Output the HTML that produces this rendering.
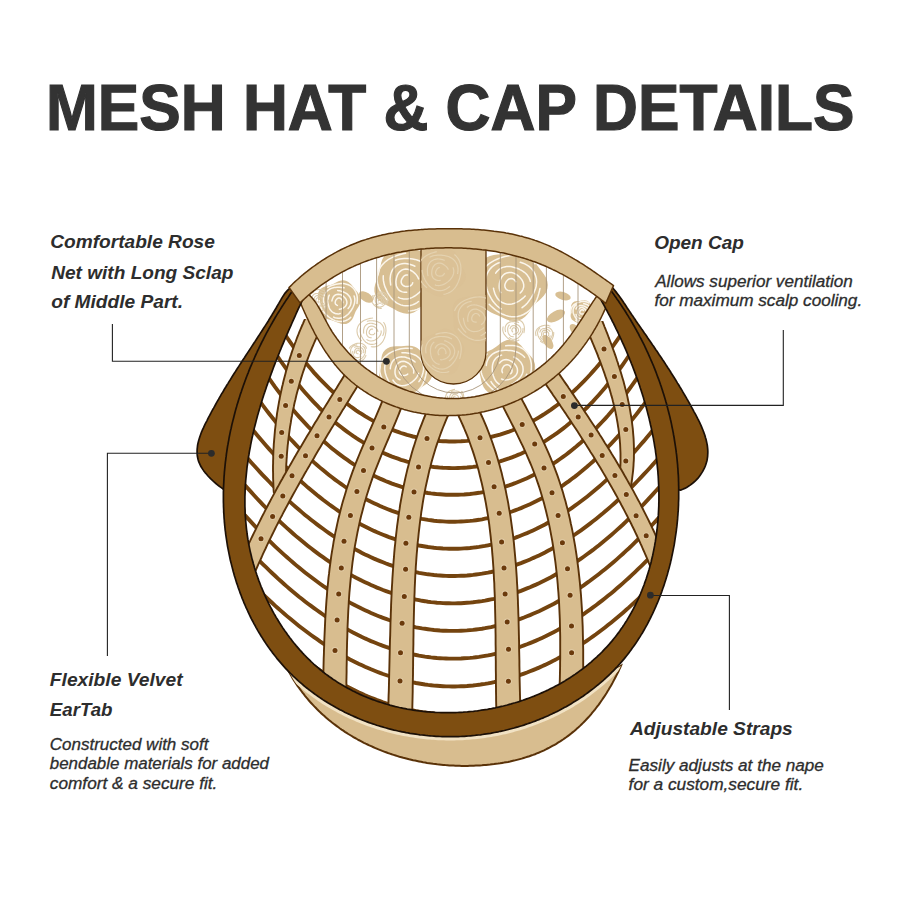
<!DOCTYPE html>
<html><head><meta charset="utf-8"><style>
html,body{margin:0;padding:0;background:#fff;width:900px;height:900px;overflow:hidden}
body{position:relative;font-family:"Liberation Sans",sans-serif}
</style></head><body>
<svg width="900" height="900" viewBox="0 0 900 900" style="position:absolute;left:0;top:0">
<defs>
<clipPath id="cin"><path d="M306.4,291.6 L305.6,293.3 L304.7,295.1 L303.9,296.8 L303.1,298.6 L302.3,300.3 L301.5,302.1 L300.7,303.8 L299.9,305.6 L299.0,307.4 L298.2,309.1 L297.4,310.9 L296.6,312.7 L295.8,314.5 L295.0,316.3 L294.2,318.1 L293.4,319.9 L292.6,321.7 L291.8,323.5 L291.0,325.3 L290.2,327.1 L289.4,328.9 L288.6,330.7 L287.8,332.6 L287.0,334.4 L286.2,336.2 L285.4,338.0 L284.6,339.9 L283.9,341.7 L283.1,343.6 L282.3,345.4 L281.5,347.3 L280.8,349.1 L280.0,351.0 L279.3,352.8 L278.5,354.7 L277.8,356.6 L277.0,358.4 L276.3,360.3 L275.5,362.2 L274.8,364.1 L274.1,365.9 L273.4,367.8 L272.7,369.7 L272.0,371.6 L271.3,373.5 L270.6,375.4 L269.9,377.3 L269.2,379.2 L268.5,381.1 L267.8,383.0 L267.2,384.9 L266.5,386.8 L265.9,388.7 L265.2,390.7 L264.6,392.6 L263.9,394.5 L263.3,396.4 L262.7,398.3 L262.1,400.3 L261.5,402.2 L260.9,404.1 L260.3,406.1 L259.8,408.0 L259.2,409.9 L258.6,411.9 L258.1,413.8 L257.5,415.7 L257.0,417.7 L256.5,419.6 L256.0,421.6 L255.5,423.5 L255.0,425.5 L254.5,427.4 L254.0,429.4 L253.6,431.3 L253.1,433.3 L252.7,435.2 L252.2,437.2 L251.8,439.2 L251.4,441.1 L251.0,443.1 L250.6,445.1 L250.3,447.0 L249.9,449.0 L249.5,451.0 L249.2,452.9 L248.9,454.9 L248.5,456.9 L248.2,458.8 L247.9,460.8 L247.7,462.8 L247.4,464.8 L247.1,466.7 L246.9,468.7 L246.7,470.7 L246.5,472.7 L246.3,474.6 L246.1,476.6 L245.9,478.6 L245.7,480.6 L245.6,482.5 L245.4,484.5 L245.3,486.5 L245.2,488.5 L245.1,490.5 L245.1,492.4 L245.0,494.4 L244.9,496.4 L244.9,498.4 L244.9,500.4 L244.9,502.4 L244.9,504.3 L244.9,506.3 L245.0,508.3 L245.1,510.3 L245.1,512.3 L245.2,514.2 L245.3,516.2 L245.5,518.2 L245.6,520.2 L245.8,522.2 L246.0,524.1 L246.2,526.1 L246.4,528.1 L246.6,530.1 L246.9,532.0 L247.1,534.0 L247.4,536.0 L247.7,538.0 L248.0,539.9 L248.4,541.9 L248.7,543.9 L249.1,545.9 L249.5,547.8 L249.9,549.8 L250.3,551.8 L250.8,553.7 L251.3,555.7 L251.7,557.6 L252.2,559.6 L252.8,561.5 L253.3,563.5 L253.9,565.4 L254.4,567.4 L255.0,569.3 L255.6,571.3 L256.3,573.2 L256.9,575.1 L257.6,577.0 L258.2,578.9 L258.9,580.9 L259.7,582.8 L260.4,584.7 L261.1,586.6 L261.9,588.4 L262.7,590.3 L263.5,592.2 L264.3,594.1 L265.1,595.9 L266.0,597.8 L266.8,599.6 L267.7,601.4 L268.6,603.3 L269.5,605.1 L270.4,606.9 L271.4,608.7 L272.3,610.5 L273.3,612.3 L274.3,614.1 L275.3,615.8 L276.3,617.6 L277.4,619.3 L278.4,621.0 L279.5,622.8 L280.6,624.5 L281.7,626.2 L282.8,627.9 L283.9,629.5 L285.1,631.2 L286.3,632.8 L287.4,634.5 L288.6,636.1 L289.8,637.7 L291.1,639.3 L292.3,640.9 L293.5,642.5 L294.8,644.0 L296.1,645.6 L297.4,647.1 L298.7,648.6 L300.0,650.1 L301.4,651.6 L302.7,653.1 L304.1,654.6 L305.5,656.0 L306.8,657.4 L308.3,658.8 L309.7,660.2 L311.1,661.6 L312.6,663.0 L314.0,664.3 L315.5,665.6 L317.0,666.9 L318.5,668.2 L320.0,669.5 L321.5,670.7 L323.1,672.0 L324.6,673.2 L326.2,674.4 L327.8,675.5 L329.4,676.7 L331.0,677.8 L332.6,679.0 L334.2,680.1 L335.9,681.1 L337.5,682.2 L339.2,683.3 L340.9,684.3 L342.6,685.3 L344.3,686.3 L346.0,687.3 L347.7,688.2 L349.4,689.1 L351.2,690.1 L352.9,691.0 L354.7,691.8 L356.5,692.7 L358.2,693.5 L360.0,694.4 L361.8,695.2 L363.6,696.0 L365.5,696.7 L367.3,697.5 L369.1,698.2 L370.9,698.9 L372.8,699.6 L374.7,700.3 L376.5,701.0 L378.4,701.6 L380.3,702.2 L382.2,702.8 L384.1,703.4 L386.0,704.0 L387.9,704.5 L389.8,705.1 L391.7,705.6 L393.6,706.1 L395.5,706.6 L397.5,707.0 L399.4,707.5 L401.4,707.9 L403.3,708.3 L405.3,708.7 L407.2,709.1 L409.2,709.4 L411.2,709.7 L413.2,710.1 L415.1,710.4 L417.1,710.6 L419.1,710.9 L421.1,711.1 L423.1,711.4 L425.1,711.6 L427.1,711.8 L429.1,711.9 L431.1,712.1 L433.1,712.2 L435.1,712.4 L437.1,712.5 L439.1,712.5 L441.1,712.6 L443.2,712.7 L445.2,712.7 L447.2,712.7 L449.2,712.7 L451.2,712.7 L453.2,712.6 L455.3,712.6 L457.3,712.5 L459.3,712.4 L461.3,712.3 L463.3,712.2 L465.4,712.0 L467.4,711.9 L469.4,711.7 L471.4,711.5 L473.4,711.3 L475.4,711.0 L477.5,710.8 L479.5,710.5 L481.5,710.2 L483.5,709.9 L485.5,709.6 L487.5,709.3 L489.5,708.9 L491.5,708.6 L493.5,708.2 L495.5,707.8 L497.4,707.3 L499.4,706.9 L501.4,706.4 L503.4,706.0 L505.4,705.5 L507.3,705.0 L509.3,704.4 L511.2,703.9 L513.2,703.3 L515.1,702.8 L517.1,702.2 L519.0,701.6 L520.9,700.9 L522.9,700.3 L524.8,699.6 L526.7,698.9 L528.6,698.2 L530.5,697.5 L532.4,696.8 L534.2,696.1 L536.1,695.3 L538.0,694.5 L539.8,693.7 L541.7,692.9 L543.5,692.1 L545.4,691.2 L547.2,690.4 L549.0,689.5 L550.8,688.6 L552.6,687.7 L554.4,686.8 L556.2,685.8 L557.9,684.9 L559.7,683.9 L561.4,682.9 L563.1,681.9 L564.9,680.9 L566.6,679.8 L568.3,678.8 L570.0,677.7 L571.6,676.6 L573.3,675.5 L575.0,674.4 L576.6,673.3 L578.2,672.1 L579.8,670.9 L581.4,669.8 L583.0,668.6 L584.6,667.3 L586.2,666.1 L587.7,664.9 L589.2,663.6 L590.8,662.3 L592.3,661.0 L593.7,659.7 L595.2,658.4 L596.7,657.1 L598.1,655.7 L599.6,654.4 L601.0,653.0 L602.4,651.6 L603.7,650.2 L605.1,648.7 L606.4,647.3 L607.8,645.8 L609.1,644.4 L610.4,642.9 L611.7,641.4 L612.9,639.9 L614.2,638.3 L615.4,636.8 L616.6,635.2 L617.8,633.6 L619.0,632.1 L620.1,630.5 L621.2,628.8 L622.4,627.2 L623.5,625.6 L624.6,623.9 L625.6,622.3 L626.7,620.6 L627.7,618.9 L628.7,617.2 L629.7,615.5 L630.7,613.8 L631.7,612.0 L632.6,610.3 L633.6,608.5 L634.5,606.7 L635.4,605.0 L636.2,603.2 L637.1,601.4 L637.9,599.6 L638.8,597.8 L639.6,595.9 L640.4,594.1 L641.1,592.3 L641.9,590.4 L642.6,588.5 L643.4,586.7 L644.1,584.8 L644.7,582.9 L645.4,581.0 L646.1,579.1 L646.7,577.2 L647.3,575.3 L647.9,573.4 L648.5,571.4 L649.1,569.5 L649.6,567.6 L650.1,565.6 L650.7,563.7 L651.2,561.7 L651.6,559.8 L652.1,557.8 L652.6,555.8 L653.0,553.9 L653.4,551.9 L653.8,549.9 L654.2,547.9 L654.6,545.9 L654.9,543.9 L655.3,541.9 L655.6,539.9 L655.9,538.0 L656.2,536.0 L656.5,534.0 L656.7,532.0 L657.0,530.0 L657.2,528.0 L657.4,526.0 L657.6,524.0 L657.8,521.9 L658.0,519.9 L658.1,517.9 L658.3,515.9 L658.4,513.9 L658.5,511.9 L658.6,509.9 L658.7,507.9 L658.8,505.9 L658.8,503.9 L658.9,501.9 L658.9,499.9 L658.9,497.9 L658.9,495.9 L658.9,494.0 L658.9,492.0 L658.8,490.0 L658.8,488.0 L658.7,486.0 L658.6,484.0 L658.5,482.0 L658.4,480.0 L658.3,478.0 L658.2,476.0 L658.0,474.0 L657.9,472.0 L657.7,470.0 L657.5,468.1 L657.3,466.1 L657.1,464.1 L656.9,462.1 L656.7,460.1 L656.4,458.1 L656.2,456.2 L655.9,454.2 L655.6,452.2 L655.4,450.2 L655.1,448.3 L654.7,446.3 L654.4,444.3 L654.1,442.4 L653.7,440.4 L653.4,438.4 L653.0,436.5 L652.6,434.5 L652.2,432.5 L651.8,430.6 L651.4,428.6 L651.0,426.7 L650.5,424.7 L650.1,422.8 L649.6,420.8 L649.2,418.9 L648.7,416.9 L648.2,415.0 L647.7,413.1 L647.2,411.1 L646.7,409.2 L646.2,407.2 L645.6,405.3 L645.1,403.4 L644.5,401.5 L643.9,399.5 L643.4,397.6 L642.8,395.7 L642.2,393.8 L641.6,391.9 L641.0,390.0 L640.3,388.0 L639.7,386.1 L639.1,384.2 L638.4,382.3 L637.8,380.4 L637.1,378.5 L636.4,376.7 L635.7,374.8 L635.0,372.9 L634.3,371.0 L633.6,369.1 L632.9,367.2 L632.2,365.4 L631.4,363.5 L630.7,361.6 L629.9,359.8 L629.2,357.9 L628.4,356.1 L627.6,354.2 L626.9,352.3 L626.1,350.5 L625.3,348.7 L624.5,346.8 L623.7,345.0 L622.8,343.2 L622.0,341.3 L621.2,339.5 L620.3,337.7 L619.5,335.9 L618.6,334.0 L617.8,332.2 L616.9,330.4 L616.0,328.6 L615.2,326.8 L614.3,325.0 L613.4,323.2 L612.5,321.5 L611.6,319.7 L610.7,317.9 L609.8,316.1 L608.8,314.3 L607.9,312.6 L607.0,310.8 L606.0,309.1 L605.1,307.3 L604.2,305.6 L603.2,303.8 L602.2,302.1 L601.3,300.3 L600.3,298.6 L599.3,296.9 L598.4,295.2 L597.4,293.4 L455,246 Z"/></clipPath>
<clipPath id="clens"><path d="M305.7,292.2 L307.3,293.4 L308.8,294.6 L310.2,295.9 L311.5,297.3 L312.8,298.7 L314.0,300.2 L315.2,301.8 L316.3,303.4 L317.4,305.1 L318.4,306.8 L319.4,308.5 L320.4,310.3 L321.4,312.1 L322.3,313.9 L323.3,315.7 L324.2,317.6 L325.2,319.4 L326.1,321.2 L327.1,323.0 L328.1,324.8 L329.1,326.6 L330.1,328.3 L331.1,330.0 L332.2,331.8 L333.3,333.5 L334.4,335.1 L335.6,336.8 L336.7,338.4 L337.9,340.0 L339.1,341.6 L340.3,343.2 L341.5,344.8 L342.8,346.3 L344.1,347.8 L345.4,349.3 L346.7,350.8 L348.0,352.3 L349.4,353.7 L350.8,355.1 L352.2,356.5 L353.6,357.9 L355.1,359.3 L356.6,360.6 L358.0,362.0 L359.6,363.3 L361.1,364.6 L362.7,365.8 L364.2,367.1 L365.8,368.3 L367.4,369.5 L369.1,370.7 L370.7,371.9 L372.4,373.0 L374.1,374.1 L375.8,375.2 L377.5,376.3 L379.2,377.4 L381.0,378.4 L382.8,379.4 L384.5,380.4 L386.3,381.4 L388.1,382.3 L390.0,383.2 L391.8,384.1 L393.7,385.0 L395.5,385.8 L397.4,386.7 L399.3,387.5 L401.2,388.2 L403.1,389.0 L405.0,389.7 L406.9,390.4 L408.8,391.1 L410.8,391.7 L412.7,392.3 L414.7,392.9 L416.6,393.4 L418.6,394.0 L420.6,394.5 L422.6,395.0 L424.6,395.4 L426.6,395.8 L428.6,396.2 L430.6,396.6 L432.6,396.9 L434.6,397.2 L436.6,397.5 L438.6,397.7 L440.6,397.9 L442.6,398.1 L444.6,398.2 L446.6,398.4 L448.7,398.4 L450.7,398.5 L452.7,398.5 L454.7,398.5 L456.7,398.5 L458.7,398.4 L460.7,398.3 L462.7,398.1 L464.7,398.0 L466.7,397.8 L468.7,397.5 L470.7,397.3 L472.7,397.0 L474.7,396.7 L476.6,396.3 L478.6,395.9 L480.6,395.5 L482.5,395.1 L484.5,394.6 L486.4,394.1 L488.4,393.6 L490.3,393.1 L492.2,392.5 L494.1,391.9 L496.0,391.2 L497.9,390.6 L499.8,389.9 L501.7,389.2 L503.6,388.4 L505.4,387.7 L507.3,386.9 L509.1,386.1 L511.0,385.2 L512.8,384.3 L514.6,383.4 L516.4,382.5 L518.2,381.6 L520.0,380.6 L521.7,379.6 L523.5,378.6 L525.2,377.6 L526.9,376.5 L528.6,375.4 L530.3,374.3 L532.0,373.2 L533.7,372.0 L535.3,370.9 L536.9,369.7 L538.6,368.4 L540.2,367.2 L541.7,365.9 L543.3,364.7 L544.9,363.4 L546.4,362.0 L547.9,360.7 L549.4,359.3 L550.9,358.0 L552.3,356.6 L553.8,355.1 L555.2,353.7 L556.6,352.2 L558.0,350.8 L559.4,349.3 L560.7,347.7 L562.0,346.2 L563.3,344.7 L564.6,343.1 L565.9,341.5 L567.1,339.9 L568.4,338.3 L569.6,336.7 L570.8,335.1 L572.0,333.4 L573.1,331.8 L574.3,330.1 L575.5,328.4 L576.6,326.8 L577.7,325.1 L578.9,323.4 L580.0,321.7 L581.1,320.0 L582.2,318.3 L583.3,316.6 L584.4,314.9 L585.5,313.2 L586.6,311.5 L587.7,309.8 L588.8,308.2 L589.9,306.5 L591.0,304.8 L592.1,303.1 L593.2,301.4 L594.3,299.8 L595.4,298.1 L596.6,296.5 L597.7,294.8 L605.8,303.3 L604.2,302.1 L602.6,300.8 L601.0,299.6 L599.4,298.3 L597.8,297.1 L596.1,295.9 L594.5,294.7 L592.8,293.5 L591.2,292.4 L589.5,291.2 L587.8,290.0 L586.2,288.9 L584.5,287.8 L582.8,286.6 L581.1,285.5 L579.4,284.4 L577.7,283.3 L576.0,282.3 L574.2,281.2 L572.5,280.2 L570.8,279.1 L569.0,278.1 L567.3,277.1 L565.5,276.1 L563.8,275.2 L562.0,274.2 L560.2,273.3 L558.4,272.3 L556.6,271.4 L554.8,270.5 L553.0,269.7 L551.2,268.8 L549.4,268.0 L547.6,267.1 L545.7,266.3 L543.9,265.5 L542.0,264.8 L540.2,264.0 L538.3,263.3 L536.5,262.5 L534.6,261.8 L532.7,261.2 L530.8,260.5 L528.9,259.9 L527.0,259.2 L525.1,258.6 L523.2,258.0 L521.3,257.5 L519.3,256.9 L517.4,256.4 L515.5,255.9 L513.5,255.4 L511.6,254.9 L509.6,254.4 L507.6,254.0 L505.7,253.5 L503.7,253.1 L501.7,252.7 L499.8,252.4 L497.8,252.0 L495.8,251.6 L493.8,251.3 L491.8,251.0 L489.8,250.7 L487.8,250.4 L485.8,250.1 L483.8,249.9 L481.8,249.7 L479.8,249.4 L477.8,249.2 L475.8,249.0 L473.8,248.9 L471.7,248.7 L469.7,248.5 L467.7,248.4 L465.7,248.3 L463.6,248.2 L461.6,248.1 L459.6,248.0 L457.5,248.0 L455.5,247.9 L453.5,247.9 L451.5,247.8 L449.4,247.8 L447.4,247.8 L445.4,247.8 L443.3,247.9 L441.3,247.9 L439.3,248.0 L437.2,248.0 L435.2,248.1 L433.2,248.2 L431.1,248.3 L429.1,248.5 L427.1,248.6 L425.1,248.8 L423.0,248.9 L421.0,249.1 L419.0,249.3 L417.0,249.5 L415.0,249.8 L413.0,250.0 L411.0,250.3 L409.0,250.6 L407.0,250.9 L405.0,251.2 L403.0,251.5 L401.0,251.9 L399.0,252.2 L397.0,252.6 L395.1,253.0 L393.1,253.4 L391.1,253.9 L389.2,254.3 L387.2,254.8 L385.3,255.3 L383.3,255.8 L381.4,256.3 L379.5,256.9 L377.5,257.4 L375.6,258.0 L373.7,258.6 L371.8,259.2 L369.9,259.9 L368.0,260.5 L366.1,261.2 L364.3,261.9 L362.4,262.6 L360.5,263.4 L358.7,264.2 L356.8,264.9 L355.0,265.7 L353.2,266.6 L351.4,267.4 L349.5,268.3 L347.7,269.2 L345.9,270.1 L344.2,271.0 L342.4,271.9 L340.6,272.9 L338.9,273.9 L337.1,274.9 L335.4,275.9 L333.7,276.9 L332.0,278.0 L330.2,279.1 L328.6,280.2 L326.9,281.3 L325.2,282.4 L323.5,283.6 L321.9,284.7 L320.2,285.9 L318.6,287.1 L317.0,288.3 L315.4,289.6 L313.8,290.8 L312.2,292.1 L310.6,293.4 L309.1,294.7 L307.5,296.0 L306.0,297.4 L304.5,298.7 L303.0,300.1 L301.5,301.5 L300.0,302.9 Z"/></clipPath>
</defs>
<path d="M297.8,284.7 L295.7,285.2 L293.9,285.9 L292.1,286.7 L290.5,287.7 L289.1,288.9 L287.7,290.2 L286.4,291.6 L285.1,293.1 L284.0,294.7 L282.9,296.4 L281.8,298.1 L280.8,299.9 L279.8,301.6 L278.8,303.4 L277.7,305.2 L276.7,307.0 L275.7,308.8 L274.6,310.5 L273.6,312.3 L272.5,314.0 L271.5,315.8 L270.4,317.5 L269.3,319.2 L268.3,321.0 L267.2,322.7 L266.1,324.4 L265.0,326.1 L263.9,327.8 L262.8,329.5 L261.7,331.2 L260.6,332.9 L259.5,334.6 L258.4,336.3 L257.3,338.0 L256.2,339.7 L255.1,341.4 L254.0,343.0 L252.9,344.7 L251.8,346.4 L250.7,348.1 L249.6,349.8 L248.5,351.4 L247.4,353.1 L246.3,354.8 L245.2,356.5 L244.1,358.2 L243.0,359.8 L241.9,361.5 L240.8,363.2 L239.7,364.9 L238.6,366.6 L237.5,368.3 L236.4,370.0 L235.4,371.6 L234.3,373.3 L233.2,375.0 L232.1,376.7 L231.1,378.4 L230.0,380.2 L228.9,381.9 L227.9,383.6 L226.8,385.3 L225.8,387.0 L224.7,388.7 L223.7,390.5 L222.7,392.2 L221.6,393.9 L220.6,395.7 L219.6,397.4 L218.6,399.2 L217.6,400.9 L216.6,402.7 L215.6,404.5 L214.6,406.3 L213.6,408.1 L212.6,409.8 L211.6,411.6 L210.7,413.5 L209.7,415.3 L208.7,417.1 L207.8,418.9 L206.9,420.8 L205.9,422.6 L205.0,424.4 L204.1,426.3 L203.3,428.2 L202.4,430.0 L201.6,431.9 L200.9,433.8 L200.2,435.7 L199.6,437.5 L199.0,439.4 L198.5,441.3 L198.0,443.2 L197.6,445.1 L197.4,447.0 L197.2,448.8 L197.1,450.7 L197.1,452.6 L197.2,454.4 L197.4,456.3 L197.8,458.2 L198.2,460.0 L198.8,461.9 L199.6,463.7 L200.4,465.5 L201.4,467.3 L202.6,469.1 L203.8,470.9 L205.1,472.6 L206.6,474.3 L208.0,476.0 L209.6,477.6 L211.1,479.2 L212.7,480.7 L214.3,482.1 L215.9,483.5 L217.5,484.8 L219.0,486.0 L220.5,487.1 L221.9,488.1 L223.2,489.1 L236,488 L250,380 L282,318 L300,290 Z" fill="#7e4e11" stroke="#1c1007" stroke-width="1.7" stroke-linejoin="round"/>
<path d="M607.3,282.7 L608.8,284.1 L610.3,285.5 L611.7,286.9 L613.0,288.3 L614.3,289.8 L615.6,291.4 L616.8,292.9 L618.0,294.5 L619.2,296.1 L620.4,297.7 L621.5,299.3 L622.7,301.0 L623.8,302.7 L624.9,304.3 L626.0,306.0 L627.1,307.7 L628.3,309.4 L629.4,311.1 L630.5,312.8 L631.6,314.5 L632.8,316.1 L633.9,317.8 L635.1,319.5 L636.2,321.2 L637.4,322.9 L638.5,324.6 L639.7,326.2 L640.9,327.9 L642.0,329.6 L643.2,331.3 L644.3,333.0 L645.5,334.6 L646.7,336.3 L647.8,338.0 L649.0,339.7 L650.1,341.3 L651.3,343.0 L652.4,344.7 L653.6,346.3 L654.7,348.0 L655.8,349.7 L657.0,351.3 L658.1,353.0 L659.2,354.7 L660.3,356.3 L661.5,358.0 L662.6,359.7 L663.7,361.3 L664.8,363.0 L665.8,364.6 L666.9,366.3 L668.0,368.0 L669.1,369.6 L670.2,371.3 L671.2,373.0 L672.3,374.7 L673.3,376.3 L674.4,378.0 L675.5,379.7 L676.5,381.4 L677.5,383.1 L678.6,384.8 L679.6,386.5 L680.7,388.2 L681.7,389.9 L682.7,391.7 L683.7,393.4 L684.8,395.2 L685.8,396.9 L686.8,398.7 L687.8,400.4 L688.8,402.2 L689.8,404.0 L690.8,405.8 L691.8,407.6 L692.8,409.4 L693.8,411.3 L694.8,413.1 L695.8,414.9 L696.8,416.8 L697.7,418.7 L698.7,420.5 L699.6,422.4 L700.5,424.3 L701.3,426.2 L702.1,428.1 L702.9,430.0 L703.6,431.9 L704.3,433.8 L705.0,435.7 L705.5,437.7 L706.1,439.6 L706.5,441.5 L706.9,443.4 L707.3,445.3 L707.5,447.2 L707.7,449.1 L707.8,451.0 L707.8,452.9 L707.7,454.8 L707.6,456.7 L707.3,458.6 L707.0,460.5 L706.5,462.3 L705.9,464.2 L705.3,466.0 L704.5,467.9 L703.6,469.6 L702.7,471.4 L701.6,473.1 L700.5,474.8 L699.3,476.5 L698.0,478.1 L696.6,479.6 L695.1,481.1 L693.5,482.5 L691.9,483.8 L690.2,485.1 L688.4,486.3 L686.6,487.4 L684.7,488.4 L682.7,489.3 L680.6,490.1 L668,488 L655,380 L626,320 L605,290 Z" fill="#7e4e11" stroke="#1c1007" stroke-width="1.7" stroke-linejoin="round"/>
<path d="M287.1,668.3 L288.1,670.2 L289.1,672.0 L290.1,673.8 L291.1,675.6 L292.2,677.4 L293.2,679.2 L294.3,680.9 L295.5,682.7 L296.6,684.4 L297.7,686.1 L298.9,687.7 L300.1,689.4 L301.3,691.0 L302.5,692.6 L303.8,694.2 L305.0,695.8 L306.3,697.4 L307.6,698.9 L308.9,700.5 L310.2,702.0 L311.6,703.5 L312.9,704.9 L314.3,706.4 L315.7,707.8 L317.1,709.3 L318.6,710.7 L320.0,712.1 L321.4,713.4 L322.9,714.8 L324.4,716.1 L325.9,717.4 L327.4,718.7 L328.9,720.0 L330.5,721.3 L332.0,722.5 L333.6,723.7 L335.2,724.9 L336.8,726.1 L338.4,727.3 L340.0,728.5 L341.6,729.6 L343.3,730.7 L344.9,731.8 L346.6,732.9 L348.3,734.0 L350.0,735.0 L351.7,736.0 L353.4,737.1 L355.1,738.0 L356.9,739.0 L358.6,740.0 L360.4,740.9 L362.2,741.9 L363.9,742.8 L365.7,743.7 L367.5,744.5 L369.3,745.4 L371.2,746.2 L373.0,747.0 L374.8,747.8 L376.7,748.6 L378.5,749.4 L380.4,750.1 L382.3,750.9 L384.1,751.6 L386.0,752.3 L387.9,753.0 L389.8,753.6 L391.7,754.3 L393.6,754.9 L395.6,755.5 L397.5,756.1 L399.4,756.7 L401.4,757.2 L403.3,757.8 L405.3,758.3 L407.2,758.8 L409.2,759.3 L411.2,759.7 L413.1,760.2 L415.1,760.6 L417.1,761.0 L419.1,761.4 L421.1,761.8 L423.1,762.2 L425.1,762.5 L427.1,762.9 L429.1,763.2 L431.1,763.5 L433.1,763.8 L435.2,764.0 L437.2,764.3 L439.2,764.5 L441.2,764.7 L443.3,764.9 L445.3,765.1 L447.3,765.2 L449.4,765.4 L451.4,765.5 L453.4,765.6 L455.5,765.7 L457.5,765.8 L459.5,765.8 L461.6,765.9 L463.6,765.9 L465.7,765.9 L467.7,765.9 L469.7,765.8 L471.8,765.8 L473.8,765.7 L475.8,765.6 L477.9,765.5 L479.9,765.4 L481.9,765.3 L484.0,765.1 L486.0,765.0 L488.0,764.8 L490.1,764.6 L492.1,764.3 L494.1,764.1 L496.1,763.8 L498.1,763.6 L500.1,763.3 L502.1,762.9 L504.1,762.6 L506.1,762.2 L508.1,761.9 L510.1,761.5 L512.0,761.0 L514.0,760.6 L515.9,760.1 L517.9,759.6 L519.8,759.1 L521.7,758.6 L523.7,758.0 L525.6,757.4 L527.5,756.8 L529.4,756.2 L531.2,755.5 L533.1,754.9 L535.0,754.2 L536.8,753.4 L538.6,752.7 L540.5,751.9 L542.3,751.1 L544.1,750.3 L545.9,749.4 L547.6,748.5 L549.4,747.6 L551.1,746.7 L552.9,745.7 L554.6,744.8 L556.3,743.8 L558.0,742.7 L559.7,741.7 L561.3,740.6 L563.0,739.5 L564.6,738.4 L566.2,737.3 L567.8,736.1 L569.4,734.9 L570.9,733.7 L572.5,732.4 L574.0,731.2 L575.5,729.9 L577.0,728.6 L578.5,727.3 L580.0,725.9 L581.4,724.5 L582.8,723.1 L584.2,721.7 L585.6,720.3 L587.0,718.8 L588.4,717.3 L589.7,715.8 L591.0,714.3 L592.3,712.7 L593.6,711.2 L594.9,709.6 L596.1,708.0 L597.3,706.4 L598.6,704.8 L599.8,703.1 L600.9,701.5 L602.1,699.8 L603.2,698.1 L604.4,696.4 L605.5,694.7 L606.6,693.0 L607.6,691.2 L608.7,689.5 L609.7,687.7 L610.8,686.0 L611.8,684.2 L612.8,682.4 L613.7,680.6 L614.7,678.8 L615.6,677.0 L616.6,675.1 L617.5,673.3 L618.4,671.5 L619.2,669.6 L620.1,667.8 L620.9,665.9 L582,688 L455,722 L332,700 Z" fill="#d8bd8f" stroke="#5a3208" stroke-width="2"/>
<clipPath id="ccres"><path d="M287.1,668.3 L288.1,670.2 L289.1,672.0 L290.1,673.8 L291.1,675.6 L292.2,677.4 L293.2,679.2 L294.3,680.9 L295.5,682.7 L296.6,684.4 L297.7,686.1 L298.9,687.7 L300.1,689.4 L301.3,691.0 L302.5,692.6 L303.8,694.2 L305.0,695.8 L306.3,697.4 L307.6,698.9 L308.9,700.5 L310.2,702.0 L311.6,703.5 L312.9,704.9 L314.3,706.4 L315.7,707.8 L317.1,709.3 L318.6,710.7 L320.0,712.1 L321.4,713.4 L322.9,714.8 L324.4,716.1 L325.9,717.4 L327.4,718.7 L328.9,720.0 L330.5,721.3 L332.0,722.5 L333.6,723.7 L335.2,724.9 L336.8,726.1 L338.4,727.3 L340.0,728.5 L341.6,729.6 L343.3,730.7 L344.9,731.8 L346.6,732.9 L348.3,734.0 L350.0,735.0 L351.7,736.0 L353.4,737.1 L355.1,738.0 L356.9,739.0 L358.6,740.0 L360.4,740.9 L362.2,741.9 L363.9,742.8 L365.7,743.7 L367.5,744.5 L369.3,745.4 L371.2,746.2 L373.0,747.0 L374.8,747.8 L376.7,748.6 L378.5,749.4 L380.4,750.1 L382.3,750.9 L384.1,751.6 L386.0,752.3 L387.9,753.0 L389.8,753.6 L391.7,754.3 L393.6,754.9 L395.6,755.5 L397.5,756.1 L399.4,756.7 L401.4,757.2 L403.3,757.8 L405.3,758.3 L407.2,758.8 L409.2,759.3 L411.2,759.7 L413.1,760.2 L415.1,760.6 L417.1,761.0 L419.1,761.4 L421.1,761.8 L423.1,762.2 L425.1,762.5 L427.1,762.9 L429.1,763.2 L431.1,763.5 L433.1,763.8 L435.2,764.0 L437.2,764.3 L439.2,764.5 L441.2,764.7 L443.3,764.9 L445.3,765.1 L447.3,765.2 L449.4,765.4 L451.4,765.5 L453.4,765.6 L455.5,765.7 L457.5,765.8 L459.5,765.8 L461.6,765.9 L463.6,765.9 L465.7,765.9 L467.7,765.9 L469.7,765.8 L471.8,765.8 L473.8,765.7 L475.8,765.6 L477.9,765.5 L479.9,765.4 L481.9,765.3 L484.0,765.1 L486.0,765.0 L488.0,764.8 L490.1,764.6 L492.1,764.3 L494.1,764.1 L496.1,763.8 L498.1,763.6 L500.1,763.3 L502.1,762.9 L504.1,762.6 L506.1,762.2 L508.1,761.9 L510.1,761.5 L512.0,761.0 L514.0,760.6 L515.9,760.1 L517.9,759.6 L519.8,759.1 L521.7,758.6 L523.7,758.0 L525.6,757.4 L527.5,756.8 L529.4,756.2 L531.2,755.5 L533.1,754.9 L535.0,754.2 L536.8,753.4 L538.6,752.7 L540.5,751.9 L542.3,751.1 L544.1,750.3 L545.9,749.4 L547.6,748.5 L549.4,747.6 L551.1,746.7 L552.9,745.7 L554.6,744.8 L556.3,743.8 L558.0,742.7 L559.7,741.7 L561.3,740.6 L563.0,739.5 L564.6,738.4 L566.2,737.3 L567.8,736.1 L569.4,734.9 L570.9,733.7 L572.5,732.4 L574.0,731.2 L575.5,729.9 L577.0,728.6 L578.5,727.3 L580.0,725.9 L581.4,724.5 L582.8,723.1 L584.2,721.7 L585.6,720.3 L587.0,718.8 L588.4,717.3 L589.7,715.8 L591.0,714.3 L592.3,712.7 L593.6,711.2 L594.9,709.6 L596.1,708.0 L597.3,706.4 L598.6,704.8 L599.8,703.1 L600.9,701.5 L602.1,699.8 L603.2,698.1 L604.4,696.4 L605.5,694.7 L606.6,693.0 L607.6,691.2 L608.7,689.5 L609.7,687.7 L610.8,686.0 L611.8,684.2 L612.8,682.4 L613.7,680.6 L614.7,678.8 L615.6,677.0 L616.6,675.1 L617.5,673.3 L618.4,671.5 L619.2,669.6 L620.1,667.8 L620.9,665.9 L582,688 L455,722 L332,700 Z"/></clipPath>
<path d="M297.1,284.6 L296.0,286.2 L294.8,287.7 L293.7,289.3 L292.5,290.9 L291.4,292.5 L290.3,294.1 L289.2,295.7 L288.1,297.4 L287.0,299.0 L285.9,300.6 L284.8,302.3 L283.7,303.9 L282.7,305.6 L281.6,307.2 L280.6,308.9 L279.5,310.6 L278.5,312.2 L277.4,313.9 L276.4,315.6 L275.4,317.3 L274.4,319.0 L273.4,320.7 L272.4,322.5 L271.4,324.2 L270.5,325.9 L269.5,327.6 L268.5,329.4 L267.6,331.1 L266.6,332.9 L265.7,334.6 L264.8,336.4 L263.9,338.2 L263.0,340.0 L262.1,341.7 L261.2,343.5 L260.3,345.3 L259.4,347.1 L258.6,348.9 L257.7,350.7 L256.9,352.5 L256.0,354.4 L255.2,356.2 L254.4,358.0 L253.6,359.8 L252.8,361.7 L252.0,363.5 L251.2,365.4 L250.4,367.2 L249.6,369.1 L248.9,370.9 L248.2,372.8 L247.4,374.7 L246.7,376.5 L246.0,378.4 L245.3,380.3 L244.6,382.2 L243.9,384.1 L243.2,386.0 L242.6,387.9 L241.9,389.8 L241.3,391.7 L240.6,393.6 L240.0,395.5 L239.4,397.4 L238.8,399.3 L238.2,401.3 L237.6,403.2 L237.0,405.1 L236.5,407.0 L235.9,409.0 L235.4,410.9 L234.9,412.8 L234.4,414.8 L233.9,416.7 L233.4,418.7 L232.9,420.6 L232.4,422.6 L231.9,424.6 L231.5,426.5 L231.1,428.5 L230.6,430.4 L230.2,432.4 L229.8,434.4 L229.4,436.3 L229.0,438.3 L228.7,440.3 L228.3,442.3 L228.0,444.2 L227.6,446.2 L227.3,448.2 L227.0,450.2 L226.7,452.2 L226.4,454.2 L226.2,456.2 L225.9,458.1 L225.7,460.1 L225.4,462.1 L225.2,464.1 L225.0,466.1 L224.8,468.1 L224.6,470.1 L224.4,472.1 L224.3,474.1 L224.1,476.1 L224.0,478.1 L223.9,480.1 L223.8,482.1 L223.7,484.1 L223.6,486.1 L223.5,488.1 L223.5,490.1 L223.4,492.1 L223.4,494.1 L223.4,496.1 L223.4,498.1 L223.4,500.2 L223.4,502.2 L223.5,504.2 L223.5,506.2 L223.6,508.2 L223.7,510.2 L223.7,512.2 L223.9,514.2 L224.0,516.2 L224.1,518.2 L224.3,520.2 L224.4,522.2 L224.6,524.2 L224.8,526.2 L225.0,528.2 L225.2,530.2 L225.5,532.2 L225.7,534.2 L226.0,536.2 L226.3,538.2 L226.6,540.2 L226.9,542.2 L227.2,544.1 L227.5,546.1 L227.9,548.1 L228.3,550.1 L228.7,552.1 L229.1,554.1 L229.5,556.0 L229.9,558.0 L230.3,560.0 L230.8,562.0 L231.3,563.9 L231.8,565.9 L232.3,567.9 L232.8,569.8 L233.3,571.8 L233.9,573.7 L234.4,575.7 L235.0,577.6 L235.6,579.5 L236.2,581.5 L236.8,583.4 L237.5,585.3 L238.1,587.2 L238.8,589.1 L239.5,591.0 L240.1,592.9 L240.9,594.8 L241.6,596.7 L242.3,598.6 L243.1,600.4 L243.8,602.3 L244.6,604.2 L245.4,606.0 L246.2,607.9 L247.1,609.7 L247.9,611.5 L248.8,613.3 L249.6,615.2 L250.5,617.0 L251.4,618.8 L252.3,620.5 L253.3,622.3 L254.2,624.1 L255.2,625.8 L256.1,627.6 L257.1,629.3 L258.1,631.1 L259.1,632.8 L260.2,634.5 L261.2,636.2 L262.3,637.9 L263.3,639.6 L264.4,641.2 L265.5,642.9 L266.6,644.6 L267.8,646.2 L268.9,647.8 L270.1,649.4 L271.3,651.0 L272.4,652.6 L273.7,654.2 L274.9,655.8 L276.1,657.3 L277.3,658.9 L278.6,660.4 L279.9,661.9 L281.2,663.4 L282.5,664.9 L283.8,666.4 L285.1,667.8 L286.5,669.3 L287.8,670.7 L289.2,672.1 L290.6,673.5 L292.0,674.9 L293.4,676.3 L294.9,677.6 L296.3,679.0 L297.8,680.3 L299.2,681.6 L300.7,682.9 L302.2,684.2 L303.7,685.5 L305.3,686.8 L306.8,688.0 L308.3,689.2 L309.9,690.4 L311.5,691.6 L313.1,692.8 L314.7,694.0 L316.3,695.1 L317.9,696.3 L319.5,697.4 L321.2,698.5 L322.8,699.6 L324.5,700.7 L326.2,701.7 L327.8,702.8 L329.5,703.8 L331.2,704.8 L333.0,705.8 L334.7,706.8 L336.4,707.8 L338.2,708.7 L339.9,709.7 L341.7,710.6 L343.5,711.5 L345.2,712.4 L347.0,713.3 L348.8,714.1 L350.6,715.0 L352.4,715.8 L354.3,716.6 L356.1,717.4 L357.9,718.2 L359.8,719.0 L361.6,719.7 L363.5,720.5 L365.4,721.2 L367.2,721.9 L369.1,722.6 L371.0,723.2 L372.9,723.9 L374.8,724.5 L376.7,725.2 L378.6,725.8 L380.6,726.4 L382.5,726.9 L384.4,727.5 L386.3,728.0 L388.3,728.6 L390.2,729.1 L392.2,729.6 L394.1,730.1 L396.1,730.5 L398.1,731.0 L400.0,731.4 L402.0,731.8 L404.0,732.2 L406.0,732.6 L408.0,732.9 L409.9,733.3 L411.9,733.6 L413.9,733.9 L415.9,734.2 L417.9,734.5 L419.9,734.8 L421.9,735.0 L423.9,735.2 L426.0,735.5 L428.0,735.7 L430.0,735.8 L432.0,736.0 L434.0,736.1 L436.0,736.3 L438.1,736.4 L440.1,736.5 L442.1,736.6 L444.1,736.6 L446.1,736.7 L448.2,736.7 L450.2,736.7 L452.2,736.7 L454.2,736.7 L456.3,736.6 L458.3,736.6 L460.3,736.5 L462.3,736.4 L464.4,736.3 L466.4,736.1 L468.4,736.0 L470.4,735.8 L472.4,735.6 L474.4,735.5 L476.5,735.2 L478.5,735.0 L480.5,734.8 L482.5,734.5 L484.5,734.2 L486.5,733.9 L488.5,733.6 L490.5,733.3 L492.5,732.9 L494.5,732.5 L496.4,732.2 L498.4,731.8 L500.4,731.3 L502.4,730.9 L504.4,730.5 L506.3,730.0 L508.3,729.5 L510.2,729.0 L512.2,728.5 L514.1,728.0 L516.1,727.4 L518.0,726.9 L520.0,726.3 L521.9,725.7 L523.8,725.1 L525.7,724.4 L527.6,723.8 L529.5,723.1 L531.4,722.5 L533.3,721.8 L535.2,721.1 L537.1,720.3 L538.9,719.6 L540.8,718.8 L542.7,718.1 L544.5,717.3 L546.4,716.5 L548.2,715.7 L550.0,714.8 L551.8,714.0 L553.6,713.1 L555.4,712.3 L557.2,711.4 L559.0,710.5 L560.8,709.5 L562.6,708.6 L564.3,707.6 L566.1,706.7 L567.8,705.7 L569.5,704.7 L571.2,703.7 L572.9,702.6 L574.6,701.6 L576.3,700.5 L578.0,699.5 L579.7,698.4 L581.3,697.3 L583.0,696.2 L584.6,695.0 L586.2,693.9 L587.8,692.7 L589.4,691.5 L591.0,690.3 L592.6,689.1 L594.2,687.9 L595.7,686.7 L597.2,685.4 L598.8,684.2 L600.3,682.9 L601.8,681.6 L603.3,680.3 L604.7,679.0 L606.2,677.7 L607.6,676.3 L609.1,675.0 L610.5,673.6 L611.9,672.2 L613.3,670.8 L614.7,669.4 L616.0,667.9 L617.4,666.5 L618.7,665.0 L620.0,663.6 L621.3,662.1 L622.6,660.6 L623.9,659.1 L625.1,657.6 L626.4,656.0 L627.6,654.5 L628.8,652.9 L630.0,651.3 L631.2,649.7 L632.3,648.1 L633.5,646.5 L634.6,644.9 L635.8,643.3 L636.9,641.6 L637.9,640.0 L639.0,638.3 L640.1,636.6 L641.1,634.9 L642.2,633.2 L643.2,631.5 L644.2,629.8 L645.1,628.1 L646.1,626.3 L647.1,624.6 L648.0,622.8 L648.9,621.0 L649.8,619.3 L650.7,617.5 L651.6,615.7 L652.5,613.9 L653.3,612.1 L654.2,610.2 L655.0,608.4 L655.8,606.6 L656.6,604.7 L657.4,602.9 L658.2,601.0 L658.9,599.2 L659.6,597.3 L660.4,595.4 L661.1,593.5 L661.8,591.6 L662.4,589.7 L663.1,587.8 L663.8,585.9 L664.4,584.0 L665.0,582.1 L665.6,580.2 L666.2,578.2 L666.8,576.3 L667.4,574.4 L667.9,572.4 L668.4,570.5 L669.0,568.5 L669.5,566.6 L670.0,564.6 L670.5,562.7 L670.9,560.7 L671.4,558.7 L671.8,556.7 L672.2,554.8 L672.6,552.8 L673.0,550.8 L673.4,548.8 L673.8,546.9 L674.2,544.9 L674.5,542.9 L674.8,540.9 L675.1,538.9 L675.4,536.9 L675.7,534.9 L676.0,532.9 L676.3,530.9 L676.5,528.9 L676.8,526.9 L677.0,524.9 L677.2,522.9 L677.4,520.9 L677.6,518.9 L677.7,516.9 L677.9,514.9 L678.0,512.9 L678.2,510.9 L678.3,508.9 L678.4,506.9 L678.5,504.9 L678.5,502.9 L678.6,500.9 L678.7,498.9 L678.7,496.9 L678.7,494.9 L678.7,492.9 L678.7,490.9 L678.7,488.9 L678.7,486.9 L678.6,484.8 L678.6,482.8 L678.5,480.8 L678.5,478.8 L678.4,476.8 L678.3,474.8 L678.1,472.8 L678.0,470.8 L677.9,468.8 L677.7,466.8 L677.6,464.8 L677.4,462.8 L677.2,460.8 L677.0,458.8 L676.8,456.9 L676.6,454.9 L676.3,452.9 L676.1,450.9 L675.8,448.9 L675.5,446.9 L675.2,444.9 L674.9,442.9 L674.6,441.0 L674.3,439.0 L674.0,437.0 L673.6,435.0 L673.3,433.1 L672.9,431.1 L672.5,429.1 L672.1,427.2 L671.7,425.2 L671.3,423.2 L670.9,421.3 L670.4,419.3 L670.0,417.4 L669.5,415.4 L669.0,413.5 L668.5,411.5 L668.0,409.6 L667.5,407.6 L667.0,405.7 L666.5,403.8 L665.9,401.8 L665.4,399.9 L664.8,398.0 L664.2,396.1 L663.6,394.1 L663.0,392.2 L662.4,390.3 L661.8,388.4 L661.2,386.5 L660.5,384.6 L659.9,382.7 L659.2,380.8 L658.5,378.9 L657.8,377.1 L657.1,375.2 L656.4,373.3 L655.7,371.4 L655.0,369.6 L654.2,367.7 L653.5,365.8 L652.7,364.0 L651.9,362.1 L651.1,360.3 L650.3,358.5 L649.5,356.6 L648.7,354.8 L647.9,353.0 L647.0,351.2 L646.2,349.3 L645.3,347.5 L644.5,345.7 L643.6,343.9 L642.7,342.1 L641.8,340.3 L640.9,338.6 L639.9,336.8 L639.0,335.0 L638.1,333.2 L637.1,331.5 L636.2,329.7 L635.2,328.0 L634.2,326.2 L633.2,324.5 L632.2,322.8 L631.2,321.0 L630.2,319.3 L629.1,317.6 L628.1,315.9 L627.0,314.2 L626.0,312.5 L624.9,310.8 L623.8,309.1 L622.7,307.5 L621.6,305.8 L620.5,304.1 L619.4,302.5 L618.3,300.8 L617.1,299.2 L616.0,297.6 L614.8,295.9 L613.7,294.3 L612.5,292.7 L611.3,291.1 L610.1,289.5 L608.9,287.9 L607.7,286.3" fill="none" stroke="#f1e2c4" stroke-width="7.5" clip-path="url(#ccres)"/>
<g clip-path="url(#cin)"><path d="M306.4,291.6 L305.6,293.3 L304.7,295.1 L303.9,296.8 L303.1,298.6 L302.3,300.3 L301.5,302.1 L300.7,303.8 L299.9,305.6 L299.0,307.4 L298.2,309.1 L297.4,310.9 L296.6,312.7 L295.8,314.5 L295.0,316.3 L294.2,318.1 L293.4,319.9 L292.6,321.7 L291.8,323.5 L291.0,325.3 L290.2,327.1 L289.4,328.9 L288.6,330.7 L287.8,332.6 L287.0,334.4 L286.2,336.2 L285.4,338.0 L284.6,339.9 L283.9,341.7 L283.1,343.6 L282.3,345.4 L281.5,347.3 L280.8,349.1 L280.0,351.0 L279.3,352.8 L278.5,354.7 L277.8,356.6 L277.0,358.4 L276.3,360.3 L275.5,362.2 L274.8,364.1 L274.1,365.9 L273.4,367.8 L272.7,369.7 L272.0,371.6 L271.3,373.5 L270.6,375.4 L269.9,377.3 L269.2,379.2 L268.5,381.1 L267.8,383.0 L267.2,384.9 L266.5,386.8 L265.9,388.7 L265.2,390.7 L264.6,392.6 L263.9,394.5 L263.3,396.4 L262.7,398.3 L262.1,400.3 L261.5,402.2 L260.9,404.1 L260.3,406.1 L259.8,408.0 L259.2,409.9 L258.6,411.9 L258.1,413.8 L257.5,415.7 L257.0,417.7 L256.5,419.6 L256.0,421.6 L255.5,423.5 L255.0,425.5 L254.5,427.4 L254.0,429.4 L253.6,431.3 L253.1,433.3 L252.7,435.2 L252.2,437.2 L251.8,439.2 L251.4,441.1 L251.0,443.1 L250.6,445.1 L250.3,447.0 L249.9,449.0 L249.5,451.0 L249.2,452.9 L248.9,454.9 L248.5,456.9 L248.2,458.8 L247.9,460.8 L247.7,462.8 L247.4,464.8 L247.1,466.7 L246.9,468.7 L246.7,470.7 L246.5,472.7 L246.3,474.6 L246.1,476.6 L245.9,478.6 L245.7,480.6 L245.6,482.5 L245.4,484.5 L245.3,486.5 L245.2,488.5 L245.1,490.5 L245.1,492.4 L245.0,494.4 L244.9,496.4 L244.9,498.4 L244.9,500.4 L244.9,502.4 L244.9,504.3 L244.9,506.3 L245.0,508.3 L245.1,510.3 L245.1,512.3 L245.2,514.2 L245.3,516.2 L245.5,518.2 L245.6,520.2 L245.8,522.2 L246.0,524.1 L246.2,526.1 L246.4,528.1 L246.6,530.1 L246.9,532.0 L247.1,534.0 L247.4,536.0 L247.7,538.0 L248.0,539.9 L248.4,541.9 L248.7,543.9 L249.1,545.9 L249.5,547.8 L249.9,549.8 L250.3,551.8 L250.8,553.7 L251.3,555.7 L251.7,557.6 L252.2,559.6 L252.8,561.5 L253.3,563.5 L253.9,565.4 L254.4,567.4 L255.0,569.3 L255.6,571.3 L256.3,573.2 L256.9,575.1 L257.6,577.0 L258.2,578.9 L258.9,580.9 L259.7,582.8 L260.4,584.7 L261.1,586.6 L261.9,588.4 L262.7,590.3 L263.5,592.2 L264.3,594.1 L265.1,595.9 L266.0,597.8 L266.8,599.6 L267.7,601.4 L268.6,603.3 L269.5,605.1 L270.4,606.9 L271.4,608.7 L272.3,610.5 L273.3,612.3 L274.3,614.1 L275.3,615.8 L276.3,617.6 L277.4,619.3 L278.4,621.0 L279.5,622.8 L280.6,624.5 L281.7,626.2 L282.8,627.9 L283.9,629.5 L285.1,631.2 L286.3,632.8 L287.4,634.5 L288.6,636.1 L289.8,637.7 L291.1,639.3 L292.3,640.9 L293.5,642.5 L294.8,644.0 L296.1,645.6 L297.4,647.1 L298.7,648.6 L300.0,650.1 L301.4,651.6 L302.7,653.1 L304.1,654.6 L305.5,656.0 L306.8,657.4 L308.3,658.8 L309.7,660.2 L311.1,661.6 L312.6,663.0 L314.0,664.3 L315.5,665.6 L317.0,666.9 L318.5,668.2 L320.0,669.5 L321.5,670.7 L323.1,672.0 L324.6,673.2 L326.2,674.4 L327.8,675.5 L329.4,676.7 L331.0,677.8 L332.6,679.0 L334.2,680.1 L335.9,681.1 L337.5,682.2 L339.2,683.3 L340.9,684.3 L342.6,685.3 L344.3,686.3 L346.0,687.3 L347.7,688.2 L349.4,689.1 L351.2,690.1 L352.9,691.0 L354.7,691.8 L356.5,692.7 L358.2,693.5 L360.0,694.4 L361.8,695.2 L363.6,696.0 L365.5,696.7 L367.3,697.5 L369.1,698.2 L370.9,698.9 L372.8,699.6 L374.7,700.3 L376.5,701.0 L378.4,701.6 L380.3,702.2 L382.2,702.8 L384.1,703.4 L386.0,704.0 L387.9,704.5 L389.8,705.1 L391.7,705.6 L393.6,706.1 L395.5,706.6 L397.5,707.0 L399.4,707.5 L401.4,707.9 L403.3,708.3 L405.3,708.7 L407.2,709.1 L409.2,709.4 L411.2,709.7 L413.2,710.1 L415.1,710.4 L417.1,710.6 L419.1,710.9 L421.1,711.1 L423.1,711.4 L425.1,711.6 L427.1,711.8 L429.1,711.9 L431.1,712.1 L433.1,712.2 L435.1,712.4 L437.1,712.5 L439.1,712.5 L441.1,712.6 L443.2,712.7 L445.2,712.7 L447.2,712.7 L449.2,712.7 L451.2,712.7 L453.2,712.6 L455.3,712.6 L457.3,712.5 L459.3,712.4 L461.3,712.3 L463.3,712.2 L465.4,712.0 L467.4,711.9 L469.4,711.7 L471.4,711.5 L473.4,711.3 L475.4,711.0 L477.5,710.8 L479.5,710.5 L481.5,710.2 L483.5,709.9 L485.5,709.6 L487.5,709.3 L489.5,708.9 L491.5,708.6 L493.5,708.2 L495.5,707.8 L497.4,707.3 L499.4,706.9 L501.4,706.4 L503.4,706.0 L505.4,705.5 L507.3,705.0 L509.3,704.4 L511.2,703.9 L513.2,703.3 L515.1,702.8 L517.1,702.2 L519.0,701.6 L520.9,700.9 L522.9,700.3 L524.8,699.6 L526.7,698.9 L528.6,698.2 L530.5,697.5 L532.4,696.8 L534.2,696.1 L536.1,695.3 L538.0,694.5 L539.8,693.7 L541.7,692.9 L543.5,692.1 L545.4,691.2 L547.2,690.4 L549.0,689.5 L550.8,688.6 L552.6,687.7 L554.4,686.8 L556.2,685.8 L557.9,684.9 L559.7,683.9 L561.4,682.9 L563.1,681.9 L564.9,680.9 L566.6,679.8 L568.3,678.8 L570.0,677.7 L571.6,676.6 L573.3,675.5 L575.0,674.4 L576.6,673.3 L578.2,672.1 L579.8,670.9 L581.4,669.8 L583.0,668.6 L584.6,667.3 L586.2,666.1 L587.7,664.9 L589.2,663.6 L590.8,662.3 L592.3,661.0 L593.7,659.7 L595.2,658.4 L596.7,657.1 L598.1,655.7 L599.6,654.4 L601.0,653.0 L602.4,651.6 L603.7,650.2 L605.1,648.7 L606.4,647.3 L607.8,645.8 L609.1,644.4 L610.4,642.9 L611.7,641.4 L612.9,639.9 L614.2,638.3 L615.4,636.8 L616.6,635.2 L617.8,633.6 L619.0,632.1 L620.1,630.5 L621.2,628.8 L622.4,627.2 L623.5,625.6 L624.6,623.9 L625.6,622.3 L626.7,620.6 L627.7,618.9 L628.7,617.2 L629.7,615.5 L630.7,613.8 L631.7,612.0 L632.6,610.3 L633.6,608.5 L634.5,606.7 L635.4,605.0 L636.2,603.2 L637.1,601.4 L637.9,599.6 L638.8,597.8 L639.6,595.9 L640.4,594.1 L641.1,592.3 L641.9,590.4 L642.6,588.5 L643.4,586.7 L644.1,584.8 L644.7,582.9 L645.4,581.0 L646.1,579.1 L646.7,577.2 L647.3,575.3 L647.9,573.4 L648.5,571.4 L649.1,569.5 L649.6,567.6 L650.1,565.6 L650.7,563.7 L651.2,561.7 L651.6,559.8 L652.1,557.8 L652.6,555.8 L653.0,553.9 L653.4,551.9 L653.8,549.9 L654.2,547.9 L654.6,545.9 L654.9,543.9 L655.3,541.9 L655.6,539.9 L655.9,538.0 L656.2,536.0 L656.5,534.0 L656.7,532.0 L657.0,530.0 L657.2,528.0 L657.4,526.0 L657.6,524.0 L657.8,521.9 L658.0,519.9 L658.1,517.9 L658.3,515.9 L658.4,513.9 L658.5,511.9 L658.6,509.9 L658.7,507.9 L658.8,505.9 L658.8,503.9 L658.9,501.9 L658.9,499.9 L658.9,497.9 L658.9,495.9 L658.9,494.0 L658.9,492.0 L658.8,490.0 L658.8,488.0 L658.7,486.0 L658.6,484.0 L658.5,482.0 L658.4,480.0 L658.3,478.0 L658.2,476.0 L658.0,474.0 L657.9,472.0 L657.7,470.0 L657.5,468.1 L657.3,466.1 L657.1,464.1 L656.9,462.1 L656.7,460.1 L656.4,458.1 L656.2,456.2 L655.9,454.2 L655.6,452.2 L655.4,450.2 L655.1,448.3 L654.7,446.3 L654.4,444.3 L654.1,442.4 L653.7,440.4 L653.4,438.4 L653.0,436.5 L652.6,434.5 L652.2,432.5 L651.8,430.6 L651.4,428.6 L651.0,426.7 L650.5,424.7 L650.1,422.8 L649.6,420.8 L649.2,418.9 L648.7,416.9 L648.2,415.0 L647.7,413.1 L647.2,411.1 L646.7,409.2 L646.2,407.2 L645.6,405.3 L645.1,403.4 L644.5,401.5 L643.9,399.5 L643.4,397.6 L642.8,395.7 L642.2,393.8 L641.6,391.9 L641.0,390.0 L640.3,388.0 L639.7,386.1 L639.1,384.2 L638.4,382.3 L637.8,380.4 L637.1,378.5 L636.4,376.7 L635.7,374.8 L635.0,372.9 L634.3,371.0 L633.6,369.1 L632.9,367.2 L632.2,365.4 L631.4,363.5 L630.7,361.6 L629.9,359.8 L629.2,357.9 L628.4,356.1 L627.6,354.2 L626.9,352.3 L626.1,350.5 L625.3,348.7 L624.5,346.8 L623.7,345.0 L622.8,343.2 L622.0,341.3 L621.2,339.5 L620.3,337.7 L619.5,335.9 L618.6,334.0 L617.8,332.2 L616.9,330.4 L616.0,328.6 L615.2,326.8 L614.3,325.0 L613.4,323.2 L612.5,321.5 L611.6,319.7 L610.7,317.9 L609.8,316.1 L608.8,314.3 L607.9,312.6 L607.0,310.8 L606.0,309.1 L605.1,307.3 L604.2,305.6 L603.2,303.8 L602.2,302.1 L601.3,300.3 L600.3,298.6 L599.3,296.9 L598.4,295.2 L597.4,293.4 L455,246 Z" fill="#fff"/>
<path d="M200.0,141.6 L203.0,151.0 L206.0,160.2 L209.0,169.2 L212.0,178.0 L215.0,186.5 L218.0,194.9 L221.0,203.0 L224.0,211.0 L227.0,218.7 L230.0,226.3 L233.0,233.6 L236.0,240.8 L239.0,247.8 L242.0,254.6 L245.0,261.2 L248.0,267.7 L251.0,274.0 L254.0,280.1 L257.0,286.1 L260.0,291.9 L263.0,297.6 L266.0,303.0 L269.0,308.4 L272.0,313.6 L275.0,318.7 L278.0,323.6 L281.0,328.4 L284.0,333.0 L287.0,337.5 L290.0,341.9 L293.0,346.1 L296.0,350.3 L299.0,354.3 L302.0,358.2 L305.0,361.9 L308.0,365.6 L311.0,369.1 L314.0,372.6 L317.0,375.9 L320.0,379.1 L323.0,382.2 L326.0,385.2 L329.0,388.2 L332.0,391.0 L335.0,393.7 L338.0,396.3 L341.0,398.9 L344.0,401.3 L347.0,403.7 L350.0,406.0 L353.0,408.1 L356.0,410.3 L359.0,412.3 L362.0,414.2 L365.0,416.1 L368.0,417.9 L371.0,419.6 L374.0,421.3 L377.0,422.8 L380.0,424.4 L383.0,425.8 L386.0,427.1 L389.0,428.4 L392.0,429.7 L395.0,430.8 L398.0,431.9 L401.0,433.0 L404.0,433.9 L407.0,434.9 L410.0,435.7 L413.0,436.5 L416.0,437.2 L419.0,437.9 L422.0,438.5 L425.0,439.1 L428.0,439.6 L431.0,440.0 L434.0,440.4 L437.0,440.7 L440.0,441.0 L443.0,441.2 L446.0,441.3 L449.0,441.5 L452.0,441.5 L455.0,441.5 L458.0,441.4 L461.0,441.3 L464.0,441.1 L467.0,440.9 L470.0,440.6 L473.0,440.3 L476.0,439.9 L479.0,439.4 L482.0,438.9 L485.0,438.3 L488.0,437.7 L491.0,437.0 L494.0,436.2 L497.0,435.4 L500.0,434.6 L503.0,433.6 L506.0,432.6 L509.0,431.6 L512.0,430.5 L515.0,429.3 L518.0,428.0 L521.0,426.7 L524.0,425.3 L527.0,423.9 L530.0,422.3 L533.0,420.7 L536.0,419.1 L539.0,417.3 L542.0,415.5 L545.0,413.6 L548.0,411.6 L551.0,409.6 L554.0,407.4 L557.0,405.2 L560.0,402.9 L563.0,400.5 L566.0,398.0 L569.0,395.5 L572.0,392.8 L575.0,390.0 L578.0,387.2 L581.0,384.2 L584.0,381.2 L587.0,378.0 L590.0,374.8 L593.0,371.4 L596.0,368.0 L599.0,364.4 L602.0,360.7 L605.0,356.9 L608.0,353.0 L611.0,348.9 L614.0,344.7 L617.0,340.4 L620.0,336.0 L623.0,331.5 L626.0,326.8 L629.0,322.0 L632.0,317.0 L635.0,311.9 L638.0,306.6 L641.0,301.2 L644.0,295.7 L647.0,290.0 L650.0,284.1 L653.0,278.1 L656.0,271.9 L659.0,265.6 L662.0,259.0 L665.0,252.3 L668.0,245.5 L671.0,238.4 L674.0,231.2 L677.0,223.8 L680.0,216.2 L683.0,208.3 L686.0,200.3 L689.0,192.1 L692.0,183.7 L695.0,175.1 L698.0,166.2 L701.0,157.2 L704.0,147.9 L707.0,138.4 L710.0,128.7" fill="none" stroke="#74440f" stroke-width="3.9"/>
<path d="M200.0,194.5 L203.0,202.8 L206.0,210.9 L209.0,218.8 L212.0,226.5 L215.0,234.1 L218.0,241.5 L221.0,248.7 L224.0,255.8 L227.0,262.7 L230.0,269.4 L233.0,275.9 L236.0,282.3 L239.0,288.6 L242.0,294.7 L245.0,300.7 L248.0,306.5 L251.0,312.1 L254.0,317.7 L257.0,323.1 L260.0,328.3 L263.0,333.4 L266.0,338.4 L269.0,343.3 L272.0,348.0 L275.0,352.6 L278.0,357.1 L281.0,361.5 L284.0,365.7 L287.0,369.9 L290.0,373.9 L293.0,377.8 L296.0,381.6 L299.0,385.3 L302.0,388.9 L305.0,392.4 L308.0,395.8 L311.0,399.1 L314.0,402.3 L317.0,405.4 L320.0,408.5 L323.0,411.4 L326.0,414.2 L329.0,416.9 L332.0,419.6 L335.0,422.2 L338.0,424.7 L341.0,427.1 L344.0,429.4 L347.0,431.6 L350.0,433.8 L353.0,435.9 L356.0,437.9 L359.0,439.8 L362.0,441.7 L365.0,443.5 L368.0,445.2 L371.0,446.9 L374.0,448.4 L377.0,450.0 L380.0,451.4 L383.0,452.8 L386.0,454.1 L389.0,455.4 L392.0,456.6 L395.0,457.7 L398.0,458.7 L401.0,459.8 L404.0,460.7 L407.0,461.6 L410.0,462.4 L413.0,463.2 L416.0,463.9 L419.0,464.6 L422.0,465.2 L425.0,465.7 L428.0,466.2 L431.0,466.6 L434.0,467.0 L437.0,467.3 L440.0,467.6 L443.0,467.8 L446.0,467.9 L449.0,468.0 L452.0,468.1 L455.0,468.1 L458.0,468.0 L461.0,467.9 L464.0,467.7 L467.0,467.5 L470.0,467.2 L473.0,466.9 L476.0,466.5 L479.0,466.0 L482.0,465.5 L485.0,465.0 L488.0,464.3 L491.0,463.7 L494.0,462.9 L497.0,462.1 L500.0,461.3 L503.0,460.4 L506.0,459.4 L509.0,458.4 L512.0,457.3 L515.0,456.2 L518.0,454.9 L521.0,453.7 L524.0,452.3 L527.0,450.9 L530.0,449.5 L533.0,447.9 L536.0,446.3 L539.0,444.6 L542.0,442.9 L545.0,441.1 L548.0,439.2 L551.0,437.2 L554.0,435.2 L557.0,433.1 L560.0,430.9 L563.0,428.6 L566.0,426.3 L569.0,423.8 L572.0,421.3 L575.0,418.7 L578.0,416.0 L581.0,413.3 L584.0,410.4 L587.0,407.5 L590.0,404.4 L593.0,401.3 L596.0,398.0 L599.0,394.7 L602.0,391.3 L605.0,387.8 L608.0,384.1 L611.0,380.4 L614.0,376.5 L617.0,372.6 L620.0,368.5 L623.0,364.3 L626.0,360.0 L629.0,355.6 L632.0,351.1 L635.0,346.5 L638.0,341.7 L641.0,336.8 L644.0,331.7 L647.0,326.6 L650.0,321.3 L653.0,315.8 L656.0,310.3 L659.0,304.6 L662.0,298.7 L665.0,292.7 L668.0,286.5 L671.0,280.2 L674.0,273.8 L677.0,267.2 L680.0,260.4 L683.0,253.4 L686.0,246.3 L689.0,239.1 L692.0,231.6 L695.0,224.0 L698.0,216.2 L701.0,208.2 L704.0,200.0 L707.0,191.7 L710.0,183.1" fill="none" stroke="#74440f" stroke-width="3.9"/>
<path d="M200.0,247.5 L203.0,254.7 L206.0,261.7 L209.0,268.6 L212.0,275.3 L215.0,281.8 L218.0,288.3 L221.0,294.6 L224.0,300.7 L227.0,306.8 L230.0,312.7 L233.0,318.4 L236.0,324.1 L239.0,329.6 L242.0,335.0 L245.0,340.3 L248.0,345.4 L251.0,350.4 L254.0,355.4 L257.0,360.2 L260.0,364.9 L263.0,369.5 L266.0,373.9 L269.0,378.3 L272.0,382.6 L275.0,386.8 L278.0,390.8 L281.0,394.8 L284.0,398.7 L287.0,402.4 L290.0,406.1 L293.0,409.7 L296.0,413.2 L299.0,416.6 L302.0,419.9 L305.0,423.1 L308.0,426.3 L311.0,429.3 L314.0,432.3 L317.0,435.2 L320.0,438.0 L323.0,440.7 L326.0,443.3 L329.0,445.9 L332.0,448.4 L335.0,450.8 L338.0,453.1 L341.0,455.4 L344.0,457.6 L347.0,459.7 L350.0,461.8 L353.0,463.8 L356.0,465.7 L359.0,467.5 L362.0,469.3 L365.0,471.0 L368.0,472.7 L371.0,474.2 L374.0,475.8 L377.0,477.2 L380.0,478.6 L383.0,479.9 L386.0,481.2 L389.0,482.4 L392.0,483.6 L395.0,484.7 L398.0,485.7 L401.0,486.7 L404.0,487.6 L407.0,488.5 L410.0,489.3 L413.0,490.0 L416.0,490.7 L419.0,491.4 L422.0,492.0 L425.0,492.5 L428.0,493.0 L431.0,493.4 L434.0,493.7 L437.0,494.1 L440.0,494.3 L443.0,494.5 L446.0,494.7 L449.0,494.8 L452.0,494.8 L455.0,494.8 L458.0,494.7 L461.0,494.6 L464.0,494.5 L467.0,494.2 L470.0,494.0 L473.0,493.6 L476.0,493.2 L479.0,492.8 L482.0,492.3 L485.0,491.8 L488.0,491.2 L491.0,490.5 L494.0,489.8 L497.0,489.0 L500.0,488.2 L503.0,487.3 L506.0,486.4 L509.0,485.4 L512.0,484.3 L515.0,483.2 L518.0,482.0 L521.0,480.8 L524.0,479.5 L527.0,478.2 L530.0,476.7 L533.0,475.3 L536.0,473.7 L539.0,472.1 L542.0,470.4 L545.0,468.7 L548.0,466.9 L551.0,465.0 L554.0,463.1 L557.0,461.1 L560.0,459.0 L563.0,456.9 L566.0,454.7 L569.0,452.4 L572.0,450.0 L575.0,447.6 L578.0,445.0 L581.0,442.5 L584.0,439.8 L587.0,437.0 L590.0,434.2 L593.0,431.3 L596.0,428.3 L599.0,425.2 L602.0,422.0 L605.0,418.8 L608.0,415.5 L611.0,412.0 L614.0,408.5 L617.0,404.9 L620.0,401.2 L623.0,397.4 L626.0,393.5 L629.0,389.5 L632.0,385.4 L635.0,381.2 L638.0,376.9 L641.0,372.5 L644.0,367.9 L647.0,363.3 L650.0,358.6 L653.0,353.7 L656.0,348.8 L659.0,343.7 L662.0,338.5 L665.0,333.2 L668.0,327.8 L671.0,322.2 L674.0,316.5 L677.0,310.7 L680.0,304.8 L683.0,298.7 L686.0,292.5 L689.0,286.1 L692.0,279.7 L695.0,273.0 L698.0,266.3 L701.0,259.4 L704.0,252.3 L707.0,245.1 L710.0,237.8" fill="none" stroke="#74440f" stroke-width="3.9"/>
<path d="M200.0,300.8 L203.0,306.8 L206.0,312.7 L209.0,318.5 L212.0,324.1 L215.0,329.7 L218.0,335.2 L221.0,340.6 L224.0,345.8 L227.0,351.0 L230.0,356.1 L233.0,361.1 L236.0,365.9 L239.0,370.7 L242.0,375.4 L245.0,380.0 L248.0,384.5 L251.0,388.9 L254.0,393.2 L257.0,397.5 L260.0,401.6 L263.0,405.7 L266.0,409.6 L269.0,413.5 L272.0,417.3 L275.0,421.0 L278.0,424.7 L281.0,428.3 L284.0,431.7 L287.0,435.1 L290.0,438.5 L293.0,441.7 L296.0,444.9 L299.0,448.0 L302.0,451.0 L305.0,453.9 L308.0,456.8 L311.0,459.6 L314.0,462.4 L317.0,465.0 L320.0,467.6 L323.0,470.1 L326.0,472.6 L329.0,475.0 L332.0,477.3 L335.0,479.6 L338.0,481.8 L341.0,483.9 L344.0,486.0 L347.0,488.0 L350.0,489.9 L353.0,491.8 L356.0,493.6 L359.0,495.4 L362.0,497.1 L365.0,498.7 L368.0,500.3 L371.0,501.8 L374.0,503.2 L377.0,504.6 L380.0,506.0 L383.0,507.3 L386.0,508.5 L389.0,509.7 L392.0,510.8 L395.0,511.8 L398.0,512.8 L401.0,513.8 L404.0,514.7 L407.0,515.5 L410.0,516.3 L413.0,517.0 L416.0,517.7 L419.0,518.3 L422.0,518.9 L425.0,519.4 L428.0,519.9 L431.0,520.3 L434.0,520.7 L437.0,521.0 L440.0,521.2 L443.0,521.4 L446.0,521.6 L449.0,521.7 L452.0,521.7 L455.0,521.7 L458.0,521.6 L461.0,521.5 L464.0,521.4 L467.0,521.1 L470.0,520.9 L473.0,520.6 L476.0,520.2 L479.0,519.8 L482.0,519.3 L485.0,518.7 L488.0,518.1 L491.0,517.5 L494.0,516.8 L497.0,516.1 L500.0,515.3 L503.0,514.4 L506.0,513.5 L509.0,512.5 L512.0,511.5 L515.0,510.4 L518.0,509.3 L521.0,508.1 L524.0,506.8 L527.0,505.5 L530.0,504.2 L533.0,502.8 L536.0,501.3 L539.0,499.7 L542.0,498.2 L545.0,496.5 L548.0,494.8 L551.0,493.0 L554.0,491.2 L557.0,489.3 L560.0,487.3 L563.0,485.3 L566.0,483.2 L569.0,481.1 L572.0,478.8 L575.0,476.6 L578.0,474.2 L581.0,471.8 L584.0,469.3 L587.0,466.8 L590.0,464.1 L593.0,461.5 L596.0,458.7 L599.0,455.9 L602.0,453.0 L605.0,450.0 L608.0,446.9 L611.0,443.8 L614.0,440.6 L617.0,437.4 L620.0,434.0 L623.0,430.6 L626.0,427.1 L629.0,423.5 L632.0,419.8 L635.0,416.1 L638.0,412.2 L641.0,408.3 L644.0,404.3 L647.0,400.2 L650.0,396.1 L653.0,391.8 L656.0,387.4 L659.0,383.0 L662.0,378.5 L665.0,373.9 L668.0,369.1 L671.0,364.3 L674.0,359.4 L677.0,354.4 L680.0,349.3 L683.0,344.1 L686.0,338.8 L689.0,333.4 L692.0,327.9 L695.0,322.3 L698.0,316.5 L701.0,310.7 L704.0,304.8 L707.0,298.7 L710.0,292.6" fill="none" stroke="#74440f" stroke-width="3.9"/>
<path d="M200.0,354.1 L203.0,359.0 L206.0,363.8 L209.0,368.5 L212.0,373.2 L215.0,377.8 L218.0,382.3 L221.0,386.7 L224.0,391.1 L227.0,395.4 L230.0,399.7 L233.0,403.9 L236.0,408.0 L239.0,412.0 L242.0,416.0 L245.0,419.9 L248.0,423.8 L251.0,427.5 L254.0,431.3 L257.0,434.9 L260.0,438.5 L263.0,442.0 L266.0,445.5 L269.0,448.9 L272.0,452.2 L275.0,455.5 L278.0,458.7 L281.0,461.9 L284.0,465.0 L287.0,468.0 L290.0,471.0 L293.0,473.9 L296.0,476.7 L299.0,479.5 L302.0,482.3 L305.0,484.9 L308.0,487.6 L311.0,490.1 L314.0,492.6 L317.0,495.1 L320.0,497.4 L323.0,499.8 L326.0,502.0 L329.0,504.3 L332.0,506.4 L335.0,508.5 L338.0,510.6 L341.0,512.6 L344.0,514.5 L347.0,516.4 L350.0,518.2 L353.0,520.0 L356.0,521.7 L359.0,523.4 L362.0,525.0 L365.0,526.5 L368.0,528.0 L371.0,529.5 L374.0,530.9 L377.0,532.2 L380.0,533.5 L383.0,534.7 L386.0,535.9 L389.0,537.1 L392.0,538.1 L395.0,539.2 L398.0,540.1 L401.0,541.1 L404.0,541.9 L407.0,542.7 L410.0,543.5 L413.0,544.2 L416.0,544.9 L419.0,545.5 L422.0,546.0 L425.0,546.5 L428.0,547.0 L431.0,547.4 L434.0,547.8 L437.0,548.1 L440.0,548.3 L443.0,548.5 L446.0,548.6 L449.0,548.7 L452.0,548.8 L455.0,548.8 L458.0,548.7 L461.0,548.6 L464.0,548.4 L467.0,548.2 L470.0,548.0 L473.0,547.6 L476.0,547.3 L479.0,546.9 L482.0,546.4 L485.0,545.9 L488.0,545.3 L491.0,544.7 L494.0,544.0 L497.0,543.3 L500.0,542.5 L503.0,541.6 L506.0,540.8 L509.0,539.8 L512.0,538.8 L515.0,537.8 L518.0,536.7 L521.0,535.5 L524.0,534.3 L527.0,533.1 L530.0,531.8 L533.0,530.4 L536.0,529.0 L539.0,527.5 L542.0,526.0 L545.0,524.5 L548.0,522.8 L551.0,521.1 L554.0,519.4 L557.0,517.6 L560.0,515.8 L563.0,513.9 L566.0,511.9 L569.0,509.9 L572.0,507.8 L575.0,505.7 L578.0,503.5 L581.0,501.3 L584.0,499.0 L587.0,496.7 L590.0,494.3 L593.0,491.8 L596.0,489.3 L599.0,486.7 L602.0,484.1 L605.0,481.4 L608.0,478.6 L611.0,475.8 L614.0,472.9 L617.0,470.0 L620.0,467.0 L623.0,463.9 L626.0,460.8 L629.0,457.7 L632.0,454.4 L635.0,451.1 L638.0,447.8 L641.0,444.3 L644.0,440.9 L647.0,437.3 L650.0,433.7 L653.0,430.0 L656.0,426.3 L659.0,422.5 L662.0,418.6 L665.0,414.7 L668.0,410.7 L671.0,406.6 L674.0,402.5 L677.0,398.3 L680.0,394.0 L683.0,389.7 L686.0,385.3 L689.0,380.8 L692.0,376.3 L695.0,371.6 L698.0,367.0 L701.0,362.2 L704.0,357.4 L707.0,352.5 L710.0,347.5" fill="none" stroke="#74440f" stroke-width="3.9"/>
<path d="M200.0,397.4 L203.0,401.6 L206.0,405.8 L209.0,409.9 L212.0,414.0 L215.0,418.0 L218.0,421.9 L221.0,425.8 L224.0,429.7 L227.0,433.5 L230.0,437.3 L233.0,441.0 L236.0,444.6 L239.0,448.2 L242.0,451.8 L245.0,455.3 L248.0,458.8 L251.0,462.2 L254.0,465.5 L257.0,468.8 L260.0,472.1 L263.0,475.3 L266.0,478.4 L269.0,481.5 L272.0,484.6 L275.0,487.6 L278.0,490.6 L281.0,493.5 L284.0,496.3 L287.0,499.1 L290.0,501.9 L293.0,504.6 L296.0,507.2 L299.0,509.8 L302.0,512.4 L305.0,514.9 L308.0,517.3 L311.0,519.7 L314.0,522.1 L317.0,524.4 L320.0,526.6 L323.0,528.8 L326.0,531.0 L329.0,533.1 L332.0,535.2 L335.0,537.2 L338.0,539.1 L341.0,541.0 L344.0,542.9 L347.0,544.7 L350.0,546.4 L353.0,548.1 L356.0,549.7 L359.0,551.3 L362.0,552.9 L365.0,554.4 L368.0,555.8 L371.0,557.2 L374.0,558.6 L377.0,559.9 L380.0,561.1 L383.0,562.3 L386.0,563.5 L389.0,564.6 L392.0,565.6 L395.0,566.6 L398.0,567.6 L401.0,568.5 L404.0,569.3 L407.0,570.1 L410.0,570.8 L413.0,571.5 L416.0,572.2 L419.0,572.8 L422.0,573.3 L425.0,573.8 L428.0,574.3 L431.0,574.6 L434.0,575.0 L437.0,575.3 L440.0,575.5 L443.0,575.7 L446.0,575.9 L449.0,576.0 L452.0,576.0 L455.0,576.0 L458.0,575.9 L461.0,575.8 L464.0,575.7 L467.0,575.5 L470.0,575.2 L473.0,574.9 L476.0,574.5 L479.0,574.1 L482.0,573.7 L485.0,573.1 L488.0,572.6 L491.0,572.0 L494.0,571.3 L497.0,570.6 L500.0,569.8 L503.0,569.0 L506.0,568.2 L509.0,567.3 L512.0,566.3 L515.0,565.3 L518.0,564.2 L521.0,563.1 L524.0,561.9 L527.0,560.7 L530.0,559.5 L533.0,558.1 L536.0,556.8 L539.0,555.4 L542.0,553.9 L545.0,552.4 L548.0,550.8 L551.0,549.2 L554.0,547.5 L557.0,545.8 L560.0,544.1 L563.0,542.2 L566.0,540.4 L569.0,538.5 L572.0,536.5 L575.0,534.5 L578.0,532.4 L581.0,530.3 L584.0,528.1 L587.0,525.9 L590.0,523.6 L593.0,521.3 L596.0,518.9 L599.0,516.5 L602.0,514.1 L605.0,511.5 L608.0,509.0 L611.0,506.4 L614.0,503.7 L617.0,501.0 L620.0,498.2 L623.0,495.4 L626.0,492.5 L629.0,489.6 L632.0,486.6 L635.0,483.6 L638.0,480.5 L641.0,477.4 L644.0,474.2 L647.0,471.0 L650.0,467.7 L653.0,464.4 L656.0,461.0 L659.0,457.6 L662.0,454.1 L665.0,450.6 L668.0,447.0 L671.0,443.4 L674.0,439.7 L677.0,436.0 L680.0,432.2 L683.0,428.4 L686.0,424.5 L689.0,420.6 L692.0,416.6 L695.0,412.6 L698.0,408.5 L701.0,404.4 L704.0,400.2 L707.0,396.0 L710.0,391.7" fill="none" stroke="#74440f" stroke-width="3.9"/>
<path d="M200.0,428.6 L203.0,432.7 L206.0,436.8 L209.0,440.8 L212.0,444.8 L215.0,448.7 L218.0,452.6 L221.0,456.4 L224.0,460.2 L227.0,463.9 L230.0,467.6 L233.0,471.2 L236.0,474.8 L239.0,478.3 L242.0,481.8 L245.0,485.2 L248.0,488.6 L251.0,491.9 L254.0,495.2 L257.0,498.5 L260.0,501.7 L263.0,504.8 L266.0,507.9 L269.0,510.9 L272.0,513.9 L275.0,516.9 L278.0,519.7 L281.0,522.6 L284.0,525.4 L287.0,528.1 L290.0,530.8 L293.0,533.5 L296.0,536.1 L299.0,538.6 L302.0,541.1 L305.0,543.6 L308.0,546.0 L311.0,548.3 L314.0,550.6 L317.0,552.9 L320.0,555.1 L323.0,557.2 L326.0,559.3 L329.0,561.4 L332.0,563.4 L335.0,565.4 L338.0,567.3 L341.0,569.1 L344.0,570.9 L347.0,572.7 L350.0,574.4 L353.0,576.1 L356.0,577.7 L359.0,579.2 L362.0,580.8 L365.0,582.2 L368.0,583.6 L371.0,585.0 L374.0,586.3 L377.0,587.6 L380.0,588.8 L383.0,590.0 L386.0,591.1 L389.0,592.2 L392.0,593.2 L395.0,594.2 L398.0,595.1 L401.0,596.0 L404.0,596.8 L407.0,597.6 L410.0,598.3 L413.0,599.0 L416.0,599.6 L419.0,600.2 L422.0,600.8 L425.0,601.2 L428.0,601.7 L431.0,602.1 L434.0,602.4 L437.0,602.7 L440.0,602.9 L443.0,603.1 L446.0,603.2 L449.0,603.3 L452.0,603.4 L455.0,603.4 L458.0,603.3 L461.0,603.2 L464.0,603.0 L467.0,602.8 L470.0,602.6 L473.0,602.3 L476.0,601.9 L479.0,601.5 L482.0,601.1 L485.0,600.6 L488.0,600.0 L491.0,599.4 L494.0,598.8 L497.0,598.1 L500.0,597.3 L503.0,596.6 L506.0,595.7 L509.0,594.8 L512.0,593.9 L515.0,592.9 L518.0,591.8 L521.0,590.8 L524.0,589.6 L527.0,588.4 L530.0,587.2 L533.0,585.9 L536.0,584.6 L539.0,583.2 L542.0,581.7 L545.0,580.3 L548.0,578.7 L551.0,577.2 L554.0,575.5 L557.0,573.8 L560.0,572.1 L563.0,570.3 L566.0,568.5 L569.0,566.6 L572.0,564.7 L575.0,562.7 L578.0,560.7 L581.0,558.6 L584.0,556.5 L587.0,554.3 L590.0,552.1 L593.0,549.9 L596.0,547.5 L599.0,545.2 L602.0,542.7 L605.0,540.3 L608.0,537.8 L611.0,535.2 L614.0,532.6 L617.0,529.9 L620.0,527.2 L623.0,524.5 L626.0,521.6 L629.0,518.8 L632.0,515.9 L635.0,512.9 L638.0,509.9 L641.0,506.9 L644.0,503.8 L647.0,500.6 L650.0,497.4 L653.0,494.1 L656.0,490.8 L659.0,487.5 L662.0,484.1 L665.0,480.6 L668.0,477.1 L671.0,473.6 L674.0,470.0 L677.0,466.3 L680.0,462.7 L683.0,458.9 L686.0,455.1 L689.0,451.3 L692.0,447.4 L695.0,443.4 L698.0,439.5 L701.0,435.4 L704.0,431.3 L707.0,427.2 L710.0,423.0" fill="none" stroke="#74440f" stroke-width="3.9"/>
<path d="M200.0,459.9 L203.0,463.9 L206.0,467.9 L209.0,471.8 L212.0,475.7 L215.0,479.6 L218.0,483.4 L221.0,487.1 L224.0,490.8 L227.0,494.4 L230.0,498.0 L233.0,501.6 L236.0,505.1 L239.0,508.6 L242.0,512.0 L245.0,515.3 L248.0,518.6 L251.0,521.9 L254.0,525.1 L257.0,528.3 L260.0,531.4 L263.0,534.5 L266.0,537.5 L269.0,540.5 L272.0,543.4 L275.0,546.3 L278.0,549.1 L281.0,551.9 L284.0,554.6 L287.0,557.3 L290.0,559.9 L293.0,562.5 L296.0,565.1 L299.0,567.6 L302.0,570.0 L305.0,572.4 L308.0,574.7 L311.0,577.0 L314.0,579.3 L317.0,581.5 L320.0,583.7 L323.0,585.8 L326.0,587.8 L329.0,589.8 L332.0,591.8 L335.0,593.7 L338.0,595.6 L341.0,597.4 L344.0,599.2 L347.0,600.9 L350.0,602.6 L353.0,604.2 L356.0,605.8 L359.0,607.3 L362.0,608.8 L365.0,610.2 L368.0,611.6 L371.0,613.0 L374.0,614.2 L377.0,615.5 L380.0,616.7 L383.0,617.8 L386.0,618.9 L389.0,620.0 L392.0,621.0 L395.0,621.9 L398.0,622.8 L401.0,623.7 L404.0,624.5 L407.0,625.3 L410.0,626.0 L413.0,626.6 L416.0,627.3 L419.0,627.8 L422.0,628.4 L425.0,628.8 L428.0,629.2 L431.0,629.6 L434.0,630.0 L437.0,630.2 L440.0,630.5 L443.0,630.7 L446.0,630.8 L449.0,630.9 L452.0,630.9 L455.0,630.9 L458.0,630.9 L461.0,630.7 L464.0,630.6 L467.0,630.4 L470.0,630.1 L473.0,629.9 L476.0,629.5 L479.0,629.1 L482.0,628.7 L485.0,628.2 L488.0,627.6 L491.0,627.1 L494.0,626.4 L497.0,625.7 L500.0,625.0 L503.0,624.2 L506.0,623.4 L509.0,622.5 L512.0,621.6 L515.0,620.6 L518.0,619.6 L521.0,618.6 L524.0,617.5 L527.0,616.3 L530.0,615.1 L533.0,613.8 L536.0,612.5 L539.0,611.2 L542.0,609.8 L545.0,608.3 L548.0,606.8 L551.0,605.3 L554.0,603.7 L557.0,602.0 L560.0,600.3 L563.0,598.6 L566.0,596.8 L569.0,595.0 L572.0,593.1 L575.0,591.1 L578.0,589.2 L581.0,587.1 L584.0,585.1 L587.0,582.9 L590.0,580.8 L593.0,578.5 L596.0,576.3 L599.0,574.0 L602.0,571.6 L605.0,569.2 L608.0,566.7 L611.0,564.2 L614.0,561.7 L617.0,559.1 L620.0,556.4 L623.0,553.7 L626.0,550.9 L629.0,548.2 L632.0,545.3 L635.0,542.4 L638.0,539.5 L641.0,536.5 L644.0,533.4 L647.0,530.4 L650.0,527.2 L653.0,524.0 L656.0,520.8 L659.0,517.5 L662.0,514.2 L665.0,510.8 L668.0,507.4 L671.0,503.9 L674.0,500.4 L677.0,496.8 L680.0,493.2 L683.0,489.6 L686.0,485.9 L689.0,482.1 L692.0,478.3 L695.0,474.4 L698.0,470.5 L701.0,466.6 L704.0,462.6 L707.0,458.5 L710.0,454.4" fill="none" stroke="#74440f" stroke-width="3.9"/>
<path d="M200.0,491.4 L203.0,495.3 L206.0,499.2 L209.0,503.1 L212.0,506.9 L215.0,510.6 L218.0,514.3 L221.0,518.0 L224.0,521.6 L227.0,525.2 L230.0,528.7 L233.0,532.2 L236.0,535.6 L239.0,539.0 L242.0,542.3 L245.0,545.6 L248.0,548.8 L251.0,552.0 L254.0,555.1 L257.0,558.2 L260.0,561.3 L263.0,564.3 L266.0,567.2 L269.0,570.2 L272.0,573.0 L275.0,575.8 L278.0,578.6 L281.0,581.3 L284.0,584.0 L287.0,586.6 L290.0,589.2 L293.0,591.7 L296.0,594.2 L299.0,596.7 L302.0,599.0 L305.0,601.4 L308.0,603.7 L311.0,605.9 L314.0,608.1 L317.0,610.3 L320.0,612.4 L323.0,614.5 L326.0,616.5 L329.0,618.4 L332.0,620.4 L335.0,622.2 L338.0,624.1 L341.0,625.8 L344.0,627.6 L347.0,629.3 L350.0,630.9 L353.0,632.5 L356.0,634.0 L359.0,635.5 L362.0,637.0 L365.0,638.4 L368.0,639.7 L371.0,641.1 L374.0,642.3 L377.0,643.5 L380.0,644.7 L383.0,645.8 L386.0,646.9 L389.0,647.9 L392.0,648.9 L395.0,649.8 L398.0,650.7 L401.0,651.6 L404.0,652.3 L407.0,653.1 L410.0,653.8 L413.0,654.4 L416.0,655.0 L419.0,655.6 L422.0,656.1 L425.0,656.6 L428.0,657.0 L431.0,657.4 L434.0,657.7 L437.0,658.0 L440.0,658.2 L443.0,658.4 L446.0,658.5 L449.0,658.6 L452.0,658.6 L455.0,658.6 L458.0,658.6 L461.0,658.5 L464.0,658.3 L467.0,658.1 L470.0,657.9 L473.0,657.6 L476.0,657.2 L479.0,656.9 L482.0,656.4 L485.0,655.9 L488.0,655.4 L491.0,654.8 L494.0,654.2 L497.0,653.6 L500.0,652.8 L503.0,652.1 L506.0,651.3 L509.0,650.4 L512.0,649.5 L515.0,648.6 L518.0,647.6 L521.0,646.5 L524.0,645.4 L527.0,644.3 L530.0,643.1 L533.0,641.9 L536.0,640.6 L539.0,639.3 L542.0,637.9 L545.0,636.5 L548.0,635.0 L551.0,633.5 L554.0,632.0 L557.0,630.4 L560.0,628.7 L563.0,627.0 L566.0,625.3 L569.0,623.5 L572.0,621.6 L575.0,619.7 L578.0,617.8 L581.0,615.8 L584.0,613.8 L587.0,611.7 L590.0,609.6 L593.0,607.4 L596.0,605.2 L599.0,602.9 L602.0,600.6 L605.0,598.2 L608.0,595.8 L611.0,593.4 L614.0,590.9 L617.0,588.3 L620.0,585.7 L623.0,583.1 L626.0,580.4 L629.0,577.7 L632.0,574.9 L635.0,572.1 L638.0,569.2 L641.0,566.3 L644.0,563.3 L647.0,560.3 L650.0,557.2 L653.0,554.1 L656.0,550.9 L659.0,547.7 L662.0,544.5 L665.0,541.2 L668.0,537.8 L671.0,534.4 L674.0,531.0 L677.0,527.5 L680.0,524.0 L683.0,520.4 L686.0,516.8 L689.0,513.1 L692.0,509.4 L695.0,505.6 L698.0,501.8 L701.0,497.9 L704.0,494.0 L707.0,490.0 L710.0,486.0" fill="none" stroke="#74440f" stroke-width="3.9"/>
<path d="M200.0,523.0 L203.0,526.9 L206.0,530.7 L209.0,534.4 L212.0,538.1 L215.0,541.8 L218.0,545.4 L221.0,549.0 L224.0,552.5 L227.0,556.0 L230.0,559.5 L233.0,562.9 L236.0,566.2 L239.0,569.5 L242.0,572.8 L245.0,576.0 L248.0,579.1 L251.0,582.3 L254.0,585.3 L257.0,588.4 L260.0,591.3 L263.0,594.3 L266.0,597.2 L269.0,600.0 L272.0,602.8 L275.0,605.6 L278.0,608.3 L281.0,610.9 L284.0,613.5 L287.0,616.1 L290.0,618.6 L293.0,621.1 L296.0,623.5 L299.0,625.9 L302.0,628.2 L305.0,630.5 L308.0,632.8 L311.0,635.0 L314.0,637.1 L317.0,639.2 L320.0,641.3 L323.0,643.3 L326.0,645.3 L329.0,647.2 L332.0,649.1 L335.0,650.9 L338.0,652.7 L341.0,654.4 L344.0,656.1 L347.0,657.8 L350.0,659.4 L353.0,660.9 L356.0,662.4 L359.0,663.9 L362.0,665.3 L365.0,666.7 L368.0,668.0 L371.0,669.3 L374.0,670.5 L377.0,671.7 L380.0,672.9 L383.0,674.0 L386.0,675.0 L389.0,676.0 L392.0,677.0 L395.0,677.9 L398.0,678.8 L401.0,679.6 L404.0,680.3 L407.0,681.1 L410.0,681.8 L413.0,682.4 L416.0,683.0 L419.0,683.5 L422.0,684.0 L425.0,684.5 L428.0,684.9 L431.0,685.2 L434.0,685.6 L437.0,685.8 L440.0,686.0 L443.0,686.2 L446.0,686.4 L449.0,686.4 L452.0,686.5 L455.0,686.5 L458.0,686.4 L461.0,686.3 L464.0,686.2 L467.0,686.0 L470.0,685.7 L473.0,685.5 L476.0,685.1 L479.0,684.8 L482.0,684.3 L485.0,683.9 L488.0,683.4 L491.0,682.8 L494.0,682.2 L497.0,681.5 L500.0,680.8 L503.0,680.1 L506.0,679.3 L509.0,678.5 L512.0,677.6 L515.0,676.7 L518.0,675.7 L521.0,674.7 L524.0,673.6 L527.0,672.5 L530.0,671.3 L533.0,670.1 L536.0,668.9 L539.0,667.6 L542.0,666.2 L545.0,664.9 L548.0,663.4 L551.0,662.0 L554.0,660.4 L557.0,658.9 L560.0,657.2 L563.0,655.6 L566.0,653.9 L569.0,652.1 L572.0,650.3 L575.0,648.5 L578.0,646.6 L581.0,644.6 L584.0,642.7 L587.0,640.6 L590.0,638.5 L593.0,636.4 L596.0,634.3 L599.0,632.0 L602.0,629.8 L605.0,627.5 L608.0,625.1 L611.0,622.7 L614.0,620.3 L617.0,617.8 L620.0,615.3 L623.0,612.7 L626.0,610.0 L629.0,607.4 L632.0,604.6 L635.0,601.9 L638.0,599.1 L641.0,596.2 L644.0,593.3 L647.0,590.4 L650.0,587.4 L653.0,584.3 L656.0,581.2 L659.0,578.1 L662.0,574.9 L665.0,571.7 L668.0,568.4 L671.0,565.1 L674.0,561.7 L677.0,558.3 L680.0,554.9 L683.0,551.4 L686.0,547.8 L689.0,544.2 L692.0,540.6 L695.0,536.9 L698.0,533.2 L701.0,529.4 L704.0,525.6 L707.0,521.7 L710.0,517.8" fill="none" stroke="#74440f" stroke-width="3.9"/>
<path d="M200.0,554.8 L203.0,558.6 L206.0,562.3 L209.0,566.0 L212.0,569.6 L215.0,573.2 L218.0,576.7 L221.0,580.2 L224.0,583.7 L227.0,587.1 L230.0,590.4 L233.0,593.7 L236.0,597.0 L239.0,600.2 L242.0,603.4 L245.0,606.6 L248.0,609.6 L251.0,612.7 L254.0,615.7 L257.0,618.7 L260.0,621.6 L263.0,624.4 L266.0,627.3 L269.0,630.0 L272.0,632.8 L275.0,635.4 L278.0,638.1 L281.0,640.7 L284.0,643.2 L287.0,645.7 L290.0,648.2 L293.0,650.6 L296.0,653.0 L299.0,655.3 L302.0,657.6 L305.0,659.8 L308.0,662.0 L311.0,664.2 L314.0,666.3 L317.0,668.4 L320.0,670.4 L323.0,672.3 L326.0,674.3 L329.0,676.1 L332.0,678.0 L335.0,679.8 L338.0,681.5 L341.0,683.2 L344.0,684.9 L347.0,686.5 L350.0,688.0 L353.0,689.5 L356.0,691.0 L359.0,692.5 L362.0,693.8 L365.0,695.2 L368.0,696.5 L371.0,697.7 L374.0,698.9 L377.0,700.1 L380.0,701.2 L383.0,702.3 L386.0,703.3 L389.0,704.3 L392.0,705.2 L395.0,706.1 L398.0,707.0 L401.0,707.8 L404.0,708.5 L407.0,709.2 L410.0,709.9 L413.0,710.5 L416.0,711.1 L419.0,711.6 L422.0,712.1 L425.0,712.5 L428.0,712.9 L431.0,713.3 L434.0,713.6 L437.0,713.9 L440.0,714.1 L443.0,714.3 L446.0,714.4 L449.0,714.5 L452.0,714.5 L455.0,714.5 L458.0,714.4 L461.0,714.3 L464.0,714.2 L467.0,714.0 L470.0,713.8 L473.0,713.5 L476.0,713.2 L479.0,712.8 L482.0,712.4 L485.0,711.9 L488.0,711.4 L491.0,710.9 L494.0,710.3 L497.0,709.7 L500.0,709.0 L503.0,708.3 L506.0,707.5 L509.0,706.7 L512.0,705.8 L515.0,704.9 L518.0,704.0 L521.0,703.0 L524.0,701.9 L527.0,700.8 L530.0,699.7 L533.0,698.5 L536.0,697.3 L539.0,696.0 L542.0,694.7 L545.0,693.4 L548.0,692.0 L551.0,690.5 L554.0,689.0 L557.0,687.5 L560.0,685.9 L563.0,684.3 L566.0,682.6 L569.0,680.9 L572.0,679.2 L575.0,677.4 L578.0,675.5 L581.0,673.6 L584.0,671.7 L587.0,669.7 L590.0,667.7 L593.0,665.6 L596.0,663.5 L599.0,661.3 L602.0,659.1 L605.0,656.9 L608.0,654.6 L611.0,652.2 L614.0,649.8 L617.0,647.4 L620.0,644.9 L623.0,642.4 L626.0,639.8 L629.0,637.2 L632.0,634.6 L635.0,631.9 L638.0,629.1 L641.0,626.3 L644.0,623.5 L647.0,620.6 L650.0,617.7 L653.0,614.7 L656.0,611.7 L659.0,608.6 L662.0,605.5 L665.0,602.4 L668.0,599.2 L671.0,595.9 L674.0,592.6 L677.0,589.3 L680.0,585.9 L683.0,582.5 L686.0,579.0 L689.0,575.5 L692.0,572.0 L695.0,568.4 L698.0,564.7 L701.0,561.0 L704.0,557.3 L707.0,553.5 L710.0,549.7" fill="none" stroke="#74440f" stroke-width="3.9"/>
<path d="M200.0,586.8 L203.0,590.4 L206.0,594.1 L209.0,597.7 L212.0,601.2 L215.0,604.7 L218.0,608.2 L221.0,611.6 L224.0,614.9 L227.0,618.3 L230.0,621.5 L233.0,624.8 L236.0,628.0 L239.0,631.1 L242.0,634.2 L245.0,637.3 L248.0,640.3 L251.0,643.3 L254.0,646.2 L257.0,649.1 L260.0,651.9 L263.0,654.7 L266.0,657.5 L269.0,660.2 L272.0,662.9 L275.0,665.5 L278.0,668.1 L281.0,670.6 L284.0,673.1 L287.0,675.6 L290.0,678.0 L293.0,680.3 L296.0,682.6 L299.0,684.9 L302.0,687.1 L305.0,689.3 L308.0,691.5 L311.0,693.6 L314.0,695.6 L317.0,697.6 L320.0,699.6 L323.0,701.5 L326.0,703.4 L329.0,705.2 L332.0,707.0 L335.0,708.8 L338.0,710.5 L341.0,712.1 L344.0,713.7 L347.0,715.3 L350.0,716.8 L353.0,718.3 L356.0,719.8 L359.0,721.2 L362.0,722.5 L365.0,723.8 L368.0,725.1 L371.0,726.3 L374.0,727.5 L377.0,728.6 L380.0,729.7 L383.0,730.7 L386.0,731.7 L389.0,732.7 L392.0,733.6 L395.0,734.5 L398.0,735.3 L401.0,736.1 L404.0,736.8 L407.0,737.5 L410.0,738.2 L413.0,738.8 L416.0,739.3 L419.0,739.9 L422.0,740.3 L425.0,740.8 L428.0,741.2 L431.0,741.5 L434.0,741.8 L437.0,742.1 L440.0,742.3 L443.0,742.4 L446.0,742.6 L449.0,742.6 L452.0,742.7 L455.0,742.7 L458.0,742.6 L461.0,742.5 L464.0,742.4 L467.0,742.2 L470.0,742.0 L473.0,741.7 L476.0,741.4 L479.0,741.0 L482.0,740.6 L485.0,740.2 L488.0,739.7 L491.0,739.2 L494.0,738.6 L497.0,738.0 L500.0,737.3 L503.0,736.6 L506.0,735.8 L509.0,735.0 L512.0,734.2 L515.0,733.3 L518.0,732.4 L521.0,731.4 L524.0,730.4 L527.0,729.3 L530.0,728.2 L533.0,727.1 L536.0,725.9 L539.0,724.7 L542.0,723.4 L545.0,722.1 L548.0,720.7 L551.0,719.3 L554.0,717.8 L557.0,716.3 L560.0,714.8 L563.0,713.2 L566.0,711.6 L569.0,709.9 L572.0,708.2 L575.0,706.4 L578.0,704.6 L581.0,702.8 L584.0,700.9 L587.0,698.9 L590.0,697.0 L593.0,694.9 L596.0,692.9 L599.0,690.8 L602.0,688.6 L605.0,686.4 L608.0,684.2 L611.0,681.9 L614.0,679.5 L617.0,677.2 L620.0,674.7 L623.0,672.3 L626.0,669.8 L629.0,667.2 L632.0,664.6 L635.0,662.0 L638.0,659.3 L641.0,656.6 L644.0,653.8 L647.0,651.0 L650.0,648.1 L653.0,645.2 L656.0,642.3 L659.0,639.3 L662.0,636.3 L665.0,633.2 L668.0,630.1 L671.0,626.9 L674.0,623.7 L677.0,620.5 L680.0,617.2 L683.0,613.8 L686.0,610.4 L689.0,607.0 L692.0,603.5 L695.0,600.0 L698.0,596.5 L701.0,592.9 L704.0,589.2 L707.0,585.5 L710.0,581.8" fill="none" stroke="#74440f" stroke-width="3.9"/>
<path d="M200.0,618.9 L203.0,622.5 L206.0,626.0 L209.0,629.5 L212.0,633.0 L215.0,636.4 L218.0,639.8 L221.0,643.1 L224.0,646.4 L227.0,649.6 L230.0,652.8 L233.0,656.0 L236.0,659.1 L239.0,662.2 L242.0,665.2 L245.0,668.2 L248.0,671.1 L251.0,674.0 L254.0,676.9 L257.0,679.7 L260.0,682.5 L263.0,685.2 L266.0,687.9 L269.0,690.5 L272.0,693.1 L275.0,695.7 L278.0,698.2 L281.0,700.7 L284.0,703.1 L287.0,705.5 L290.0,707.9 L293.0,710.2 L296.0,712.4 L299.0,714.6 L302.0,716.8 L305.0,719.0 L308.0,721.0 L311.0,723.1 L314.0,725.1 L317.0,727.1 L320.0,729.0 L323.0,730.8 L326.0,732.7 L329.0,734.5 L332.0,736.2 L335.0,737.9 L338.0,739.6 L341.0,741.2 L344.0,742.8 L347.0,744.3 L350.0,745.8 L353.0,747.2 L356.0,748.7 L359.0,750.0 L362.0,751.3 L365.0,752.6 L368.0,753.8 L371.0,755.0 L374.0,756.2 L377.0,757.3 L380.0,758.4 L383.0,759.4 L386.0,760.3 L389.0,761.3 L392.0,762.2 L395.0,763.0 L398.0,763.8 L401.0,764.6 L404.0,765.3 L407.0,766.0 L410.0,766.6 L413.0,767.2 L416.0,767.8 L419.0,768.3 L422.0,768.7 L425.0,769.2 L428.0,769.5 L431.0,769.9 L434.0,770.2 L437.0,770.4 L440.0,770.6 L443.0,770.8 L446.0,770.9 L449.0,771.0 L452.0,771.0 L455.0,771.0 L458.0,771.0 L461.0,770.9 L464.0,770.7 L467.0,770.6 L470.0,770.3 L473.0,770.1 L476.0,769.8 L479.0,769.4 L482.0,769.0 L485.0,768.6 L488.0,768.1 L491.0,767.6 L494.0,767.0 L497.0,766.4 L500.0,765.8 L503.0,765.1 L506.0,764.3 L509.0,763.6 L512.0,762.7 L515.0,761.9 L518.0,761.0 L521.0,760.0 L524.0,759.0 L527.0,758.0 L530.0,756.9 L533.0,755.8 L536.0,754.6 L539.0,753.4 L542.0,752.2 L545.0,750.9 L548.0,749.6 L551.0,748.2 L554.0,746.8 L557.0,745.3 L560.0,743.8 L563.0,742.3 L566.0,740.7 L569.0,739.0 L572.0,737.4 L575.0,735.6 L578.0,733.9 L581.0,732.1 L584.0,730.2 L587.0,728.3 L590.0,726.4 L593.0,724.4 L596.0,722.4 L599.0,720.4 L602.0,718.2 L605.0,716.1 L608.0,713.9 L611.0,711.7 L614.0,709.4 L617.0,707.1 L620.0,704.7 L623.0,702.3 L626.0,699.9 L629.0,697.4 L632.0,694.9 L635.0,692.3 L638.0,689.7 L641.0,687.0 L644.0,684.3 L647.0,681.6 L650.0,678.8 L653.0,675.9 L656.0,673.1 L659.0,670.1 L662.0,667.2 L665.0,664.2 L668.0,661.1 L671.0,658.1 L674.0,654.9 L677.0,651.8 L680.0,648.5 L683.0,645.3 L686.0,642.0 L689.0,638.6 L692.0,635.2 L695.0,631.8 L698.0,628.3 L701.0,624.8 L704.0,621.3 L707.0,617.7 L710.0,614.0" fill="none" stroke="#74440f" stroke-width="3.9"/>
<path d="M200.0,651.1 L203.0,654.6 L206.0,658.1 L209.0,661.5 L212.0,664.9 L215.0,668.2 L218.0,671.5 L221.0,674.8 L224.0,678.0 L227.0,681.1 L230.0,684.2 L233.0,687.3 L236.0,690.4 L239.0,693.4 L242.0,696.3 L245.0,699.2 L248.0,702.1 L251.0,704.9 L254.0,707.7 L257.0,710.5 L260.0,713.2 L263.0,715.8 L266.0,718.5 L269.0,721.0 L272.0,723.6 L275.0,726.1 L278.0,728.5 L281.0,730.9 L284.0,733.3 L287.0,735.6 L290.0,737.9 L293.0,740.2 L296.0,742.4 L299.0,744.5 L302.0,746.7 L305.0,748.7 L308.0,750.8 L311.0,752.8 L314.0,754.7 L317.0,756.6 L320.0,758.5 L323.0,760.3 L326.0,762.1 L329.0,763.9 L332.0,765.6 L335.0,767.2 L338.0,768.9 L341.0,770.4 L344.0,772.0 L347.0,773.5 L350.0,774.9 L353.0,776.3 L356.0,777.7 L359.0,779.0 L362.0,780.3 L365.0,781.6 L368.0,782.8 L371.0,783.9 L374.0,785.1 L377.0,786.1 L380.0,787.2 L383.0,788.2 L386.0,789.1 L389.0,790.0 L392.0,790.9 L395.0,791.7 L398.0,792.5 L401.0,793.3 L404.0,794.0 L407.0,794.6 L410.0,795.2 L413.0,795.8 L416.0,796.3 L419.0,796.8 L422.0,797.3 L425.0,797.7 L428.0,798.1 L431.0,798.4 L434.0,798.7 L437.0,798.9 L440.0,799.1 L443.0,799.3 L446.0,799.4 L449.0,799.5 L452.0,799.5 L455.0,799.5 L458.0,799.5 L461.0,799.4 L464.0,799.2 L467.0,799.1 L470.0,798.9 L473.0,798.6 L476.0,798.3 L479.0,798.0 L482.0,797.6 L485.0,797.1 L488.0,796.7 L491.0,796.2 L494.0,795.6 L497.0,795.0 L500.0,794.4 L503.0,793.7 L506.0,793.0 L509.0,792.3 L512.0,791.5 L515.0,790.6 L518.0,789.7 L521.0,788.8 L524.0,787.8 L527.0,786.8 L530.0,785.8 L533.0,784.7 L536.0,783.6 L539.0,782.4 L542.0,781.2 L545.0,779.9 L548.0,778.6 L551.0,777.3 L554.0,775.9 L557.0,774.4 L560.0,773.0 L563.0,771.5 L566.0,769.9 L569.0,768.3 L572.0,766.7 L575.0,765.0 L578.0,763.3 L581.0,761.5 L584.0,759.7 L587.0,757.9 L590.0,756.0 L593.0,754.1 L596.0,752.1 L599.0,750.1 L602.0,748.1 L605.0,746.0 L608.0,743.8 L611.0,741.7 L614.0,739.4 L617.0,737.2 L620.0,734.9 L623.0,732.5 L626.0,730.1 L629.0,727.7 L632.0,725.2 L635.0,722.7 L638.0,720.2 L641.0,717.6 L644.0,715.0 L647.0,712.3 L650.0,709.6 L653.0,706.8 L656.0,704.0 L659.0,701.2 L662.0,698.3 L665.0,695.3 L668.0,692.4 L671.0,689.4 L674.0,686.3 L677.0,683.2 L680.0,680.1 L683.0,676.9 L686.0,673.7 L689.0,670.4 L692.0,667.1 L695.0,663.8 L698.0,660.4 L701.0,657.0 L704.0,653.5 L707.0,650.0 L710.0,646.4" fill="none" stroke="#74440f" stroke-width="3.9"/>
<path d="M200.0,683.6 L203.0,687.0 L206.0,690.4 L209.0,693.7 L212.0,697.0 L215.0,700.2 L218.0,703.4 L221.0,706.6 L224.0,709.7 L227.0,712.8 L230.0,715.8 L233.0,718.8 L236.0,721.8 L239.0,724.7 L242.0,727.6 L245.0,730.4 L248.0,733.2 L251.0,736.0 L254.0,738.7 L257.0,741.4 L260.0,744.0 L263.0,746.6 L266.0,749.2 L269.0,751.7 L272.0,754.2 L275.0,756.6 L278.0,759.0 L281.0,761.3 L284.0,763.7 L287.0,765.9 L290.0,768.2 L293.0,770.3 L296.0,772.5 L299.0,774.6 L302.0,776.7 L305.0,778.7 L308.0,780.7 L311.0,782.6 L314.0,784.5 L317.0,786.4 L320.0,788.2 L323.0,790.0 L326.0,791.7 L329.0,793.4 L332.0,795.1 L335.0,796.7 L338.0,798.3 L341.0,799.8 L344.0,801.3 L347.0,802.8 L350.0,804.2 L353.0,805.6 L356.0,806.9 L359.0,808.2 L362.0,809.5 L365.0,810.7 L368.0,811.9 L371.0,813.0 L374.0,814.1 L377.0,815.1 L380.0,816.1 L383.0,817.1 L386.0,818.0 L389.0,818.9 L392.0,819.8 L395.0,820.6 L398.0,821.3 L401.0,822.1 L404.0,822.8 L407.0,823.4 L410.0,824.0 L413.0,824.6 L416.0,825.1 L419.0,825.6 L422.0,826.0 L425.0,826.4 L428.0,826.8 L431.0,827.1 L434.0,827.4 L437.0,827.6 L440.0,827.8 L443.0,828.0 L446.0,828.1 L449.0,828.1 L452.0,828.2 L455.0,828.2 L458.0,828.1 L461.0,828.0 L464.0,827.9 L467.0,827.7 L470.0,827.5 L473.0,827.3 L476.0,827.0 L479.0,826.7 L482.0,826.3 L485.0,825.9 L488.0,825.4 L491.0,824.9 L494.0,824.4 L497.0,823.8 L500.0,823.2 L503.0,822.5 L506.0,821.8 L509.0,821.1 L512.0,820.3 L515.0,819.5 L518.0,818.6 L521.0,817.7 L524.0,816.8 L527.0,815.8 L530.0,814.8 L533.0,813.7 L536.0,812.6 L539.0,811.5 L542.0,810.3 L545.0,809.1 L548.0,807.8 L551.0,806.5 L554.0,805.1 L557.0,803.7 L560.0,802.3 L563.0,800.8 L566.0,799.3 L569.0,797.8 L572.0,796.2 L575.0,794.6 L578.0,792.9 L581.0,791.2 L584.0,789.4 L587.0,787.6 L590.0,785.8 L593.0,783.9 L596.0,782.0 L599.0,780.0 L602.0,778.0 L605.0,776.0 L608.0,773.9 L611.0,771.8 L614.0,769.6 L617.0,767.4 L620.0,765.2 L623.0,762.9 L626.0,760.6 L629.0,758.2 L632.0,755.8 L635.0,753.4 L638.0,750.9 L641.0,748.3 L644.0,745.8 L647.0,743.2 L650.0,740.5 L653.0,737.8 L656.0,735.1 L659.0,732.3 L662.0,729.5 L665.0,726.7 L668.0,723.8 L671.0,720.8 L674.0,717.8 L677.0,714.8 L680.0,711.8 L683.0,708.7 L686.0,705.5 L689.0,702.4 L692.0,699.1 L695.0,695.9 L698.0,692.6 L701.0,689.2 L704.0,685.9 L707.0,682.4 L710.0,679.0" fill="none" stroke="#74440f" stroke-width="3.9"/>
<clipPath id="cL1"><path d="M150,319 L420,319 L350.9,363.6 L349.3,366.3 L347.6,368.9 L346.0,371.6 L344.3,374.3 L342.7,376.9 L341.0,379.6 L339.4,382.2 L337.7,384.9 L336.1,387.6 L334.4,390.2 L332.8,392.9 L331.1,395.6 L329.5,398.2 L327.8,400.9 L326.2,403.6 L324.6,406.3 L322.9,408.9 L321.3,411.6 L319.6,414.3 L318.0,417.0 L316.4,419.6 L314.7,422.3 L313.1,425.0 L311.5,427.7 L309.9,430.4 L308.2,433.1 L306.6,435.8 L305.0,438.5 L303.4,441.2 L301.8,443.9 L300.2,446.6 L298.6,449.3 L297.0,452.0 L295.4,454.7 L293.8,457.4 L292.2,460.1 L290.7,462.9 L289.1,465.6 L287.5,468.3 L286.0,471.0 L284.4,473.8 L282.9,476.5 L281.4,479.3 L279.8,482.0 L278.3,484.8 L276.8,487.5 L275.3,490.3 L273.8,493.1 L272.3,495.8 L270.8,498.6 L269.3,501.4 L267.8,504.2 L266.3,507.0 L264.9,509.8 L263.4,512.6 L262.0,515.4 L260.6,518.2 L259.1,521.0 L257.7,523.9 L256.3,526.7 L254.9,529.5 L253.5,532.4 L252.2,535.2 L250.8,538.1 L249.4,540.9 L248.1,543.8 L246.8,546.7 L245.4,549.6 L244.1,552.4 L242.8,555.3 L241.5,558.2 L240.2,561.2 L239.0,564.1 L237.7,567.0 L236.5,569.9 L235.2,572.9 L234.0,575.8 L232.8,578.8 L231.6,581.7 L150,700 Z"/></clipPath><clipPath id="cR1"><path d="M760,321 L480,321 L551.8,362.3 L553.5,364.9 L555.3,367.4 L557.1,370.0 L558.8,372.5 L560.6,375.1 L562.4,377.6 L564.1,380.2 L565.9,382.7 L567.6,385.3 L569.4,387.9 L571.2,390.4 L572.9,393.0 L574.7,395.6 L576.4,398.2 L578.1,400.8 L579.9,403.3 L581.6,405.9 L583.4,408.5 L585.1,411.1 L586.8,413.7 L588.5,416.3 L590.3,418.9 L592.0,421.5 L593.7,424.1 L595.4,426.8 L597.1,429.4 L598.8,432.0 L600.4,434.6 L602.1,437.3 L603.8,439.9 L605.5,442.6 L607.1,445.2 L608.8,447.9 L610.4,450.5 L612.0,453.2 L613.7,455.9 L615.3,458.5 L616.9,461.2 L618.5,463.9 L620.1,466.6 L621.7,469.3 L623.3,472.0 L624.9,474.7 L626.4,477.4 L628.0,480.1 L629.5,482.9 L631.0,485.6 L632.6,488.3 L634.1,491.1 L635.6,493.8 L637.1,496.6 L638.5,499.4 L640.0,502.1 L641.5,504.9 L642.9,507.7 L644.3,510.5 L645.8,513.3 L647.2,516.1 L648.6,518.9 L650.0,521.8 L651.3,524.6 L652.7,527.4 L654.0,530.3 L655.3,533.1 L656.7,536.0 L658.0,538.9 L659.2,541.8 L660.5,544.6 L661.8,547.5 L663.0,550.4 L664.2,553.4 L665.5,556.3 L666.7,559.2 L667.8,562.2 L669.0,565.1 L670.1,568.1 L671.3,571.0 L672.4,574.0 L673.5,577.0 L760,700 Z"/></clipPath>
<path d="M310.3,307.9 L309.2,310.1 L308.1,312.3 L307.1,314.5 L306.1,316.7 L305.1,318.9 L304.0,321.1 L303.1,323.3 L302.1,325.5 L301.1,327.8 L300.2,330.0 L299.3,332.2 L298.4,334.5 L297.5,336.7 L296.6,339.0 L295.8,341.3 L294.9,343.5 L294.1,345.8 L293.3,348.1 L292.5,350.3 L291.7,352.6 L291.0,354.9 L290.2,357.2 L289.5,359.5 L288.8,361.8 L288.1,364.1 L287.4,366.4 L286.8,368.7 L286.1,371.0 L285.5,373.4 L284.9,375.7 L284.3,378.0 L283.7,380.3 L283.1,382.7 L282.6,385.0 L282.0,387.3 L281.5,389.7 L281.0,392.0 L280.5,394.4 L280.0,396.7 L279.6,399.1 L279.1,401.4 L278.7,403.8 L278.3,406.1 L277.9,408.5 L277.5,410.9 L277.1,413.2 L276.8,415.6 L276.5,418.0 L276.1,420.4 L275.8,422.7 L275.6,425.1 L275.3,427.5 L275.0,429.9 L274.8,432.3 L274.6,434.7 L274.4,437.1 L274.2,439.4 L274.0,441.8 L273.8,444.2 L273.7,446.6 L273.5,449.0 L273.4,451.4 L273.3,453.8 L273.2,456.2 L273.2,458.6 L273.1,461.0 L273.1,463.4 L273.0,465.8 L273.0,468.2 L273.0,470.7 L273.1,473.1 L273.1,475.5 L273.1,477.9 L273.2,480.3 L273.3,482.7 L273.4,485.1 L273.5,487.5 L273.6,489.9 L273.8,492.3 L286.1,491.8 L286.0,489.5 L286.0,487.1 L285.9,484.8 L285.9,482.5 L285.9,480.1 L285.9,477.8 L286.0,475.5 L286.0,473.1 L286.1,470.8 L286.2,468.5 L286.2,466.2 L286.3,463.8 L286.5,461.5 L286.6,459.2 L286.8,456.9 L286.9,454.6 L287.1,452.3 L287.3,450.0 L287.5,447.7 L287.7,445.4 L288.0,443.1 L288.2,440.8 L288.5,438.5 L288.8,436.2 L289.1,433.9 L289.4,431.6 L289.7,429.3 L290.0,427.1 L290.4,424.8 L290.8,422.5 L291.1,420.3 L291.5,418.0 L292.0,415.7 L292.4,413.5 L292.8,411.2 L293.3,409.0 L293.8,406.7 L294.2,404.5 L294.7,402.2 L295.3,400.0 L295.8,397.8 L296.3,395.6 L296.9,393.3 L297.5,391.1 L298.1,388.9 L298.7,386.7 L299.3,384.5 L299.9,382.3 L300.6,380.1 L301.2,377.9 L301.9,375.7 L302.6,373.5 L303.3,371.3 L304.1,369.2 L304.8,367.0 L305.5,364.8 L306.3,362.7 L307.1,360.5 L307.9,358.4 L308.7,356.2 L309.5,354.1 L310.4,351.9 L311.2,349.8 L312.1,347.7 L313.0,345.6 L313.9,343.5 L314.8,341.4 L315.7,339.3 L316.7,337.2 L317.7,335.1 L318.6,333.0 L319.6,330.9 L320.6,328.8 L321.7,326.8 L322.7,324.7 L323.7,322.7 L324.8,320.6 L325.9,318.6 L327.0,316.5 Z" fill="#d8bd8f" stroke="#5a3208" stroke-width="1.9" stroke-linejoin="round" clip-path="url(#cL1)"/>
<circle cx="299.3" cy="355.6" r="3.4" fill="#e2cda8"/><circle cx="299.3" cy="355.6" r="2.5" fill="#6b3a0c"/>
<circle cx="291.3" cy="381.3" r="3.4" fill="#e2cda8"/><circle cx="291.3" cy="381.3" r="2.5" fill="#6b3a0c"/>
<circle cx="285.6" cy="405.4" r="3.4" fill="#e2cda8"/><circle cx="285.6" cy="405.4" r="2.5" fill="#6b3a0c"/>
<circle cx="281.7" cy="432.4" r="3.4" fill="#e2cda8"/><circle cx="281.7" cy="432.4" r="2.5" fill="#6b3a0c"/>
<circle cx="281.2" cy="456.2" r="3.4" fill="#e2cda8"/><circle cx="281.2" cy="456.2" r="2.5" fill="#6b3a0c"/>
<path d="M580.9,315.9 L581.9,318.0 L582.8,320.2 L583.8,322.3 L584.7,324.5 L585.7,326.6 L586.6,328.8 L587.6,331.0 L588.5,333.1 L589.5,335.3 L590.4,337.5 L591.3,339.6 L592.2,341.8 L593.1,344.0 L594.0,346.1 L594.9,348.3 L595.8,350.5 L596.7,352.7 L597.6,354.9 L598.4,357.1 L599.3,359.3 L600.1,361.4 L600.9,363.6 L601.7,365.8 L602.5,368.0 L603.3,370.2 L604.1,372.4 L604.9,374.7 L605.6,376.9 L606.4,379.1 L607.1,381.3 L607.8,383.5 L608.5,385.7 L609.2,387.9 L609.9,390.2 L610.5,392.4 L611.1,394.6 L611.8,396.9 L612.4,399.1 L612.9,401.3 L613.5,403.6 L614.0,405.8 L614.6,408.0 L615.1,410.3 L615.6,412.5 L616.0,414.8 L616.5,417.0 L616.9,419.3 L617.3,421.5 L617.7,423.8 L618.0,426.1 L618.4,428.3 L618.7,430.6 L619.0,432.9 L619.2,435.1 L619.5,437.4 L619.7,439.7 L619.9,442.0 L620.1,444.2 L620.2,446.5 L620.3,448.8 L620.4,451.1 L620.5,453.4 L620.5,455.7 L620.5,458.0 L620.5,460.3 L620.5,462.6 L620.4,464.9 L620.3,467.2 L620.1,469.5 L620.0,471.8 L619.8,474.2 L619.5,476.5 L619.3,478.8 L619.0,481.1 L618.7,483.5 L618.3,485.8 L617.9,488.1 L617.5,490.5 L617.0,492.9 L629.0,495.4 L629.6,493.0 L630.1,490.5 L630.6,488.0 L631.1,485.5 L631.5,483.0 L631.9,480.5 L632.2,478.0 L632.5,475.5 L632.8,473.1 L633.1,470.6 L633.3,468.1 L633.5,465.6 L633.6,463.2 L633.8,460.7 L633.9,458.2 L633.9,455.8 L634.0,453.3 L634.0,450.9 L633.9,448.4 L633.9,446.0 L633.8,443.5 L633.7,441.1 L633.6,438.6 L633.4,436.2 L633.2,433.8 L633.0,431.4 L632.8,428.9 L632.5,426.5 L632.2,424.1 L631.9,421.7 L631.6,419.3 L631.2,416.9 L630.8,414.5 L630.4,412.1 L630.0,409.7 L629.6,407.3 L629.1,404.9 L628.6,402.6 L628.1,400.2 L627.6,397.8 L627.1,395.4 L626.5,393.1 L625.9,390.7 L625.3,388.4 L624.7,386.0 L624.1,383.7 L623.5,381.3 L622.8,379.0 L622.1,376.7 L621.4,374.3 L620.7,372.0 L620.0,369.7 L619.3,367.4 L618.5,365.1 L617.8,362.8 L617.0,360.5 L616.3,358.2 L615.5,355.9 L614.7,353.6 L613.9,351.3 L613.0,349.0 L612.2,346.8 L611.4,344.5 L610.5,342.2 L609.7,340.0 L608.8,337.7 L608.0,335.5 L607.1,333.2 L606.2,331.0 L605.3,328.7 L604.4,326.5 L603.6,324.3 L602.7,322.1 L601.8,319.8 L600.9,317.6 L599.9,315.4 L599.0,313.2 L598.1,311.0 L597.2,308.8 Z" fill="#d8bd8f" stroke="#5a3208" stroke-width="1.9" stroke-linejoin="round" clip-path="url(#cR1)"/>
<circle cx="604" cy="349" r="3.4" fill="#e2cda8"/><circle cx="604" cy="349" r="2.5" fill="#6b3a0c"/>
<circle cx="614.4" cy="376.4" r="3.4" fill="#e2cda8"/><circle cx="614.4" cy="376.4" r="2.5" fill="#6b3a0c"/>
<circle cx="622.2" cy="404.4" r="3.4" fill="#e2cda8"/><circle cx="622.2" cy="404.4" r="2.5" fill="#6b3a0c"/>
<circle cx="625.8" cy="429.6" r="3.4" fill="#e2cda8"/><circle cx="625.8" cy="429.6" r="2.5" fill="#6b3a0c"/>
<circle cx="625.8" cy="461" r="3.4" fill="#e2cda8"/><circle cx="625.8" cy="461" r="2.5" fill="#6b3a0c"/>
<path d="M436.7,391.1 L434.6,395.0 L432.6,399.1 L430.6,403.2 L428.7,407.3 L426.9,411.4 L425.1,415.5 L423.4,419.6 L421.8,423.8 L420.2,427.9 L418.6,432.1 L417.2,436.3 L415.7,440.5 L414.4,444.7 L413.0,448.9 L411.8,453.1 L410.6,457.4 L409.4,461.6 L408.3,465.9 L407.2,470.1 L406.2,474.4 L405.2,478.7 L404.3,483.0 L403.4,487.3 L402.6,491.6 L401.8,495.9 L401.0,500.2 L400.2,504.5 L399.6,508.9 L398.9,513.2 L398.3,517.5 L397.7,521.9 L397.1,526.2 L396.6,530.5 L396.1,534.9 L395.6,539.2 L395.2,543.6 L394.7,547.9 L394.3,552.3 L394.0,556.7 L393.6,561.0 L393.3,565.4 L393.0,569.7 L392.7,574.1 L392.4,578.5 L392.2,582.8 L391.9,587.2 L391.7,591.5 L391.5,595.9 L391.3,600.3 L391.1,604.6 L391.0,609.0 L390.8,613.3 L390.7,617.7 L390.5,622.0 L390.4,626.4 L390.3,630.7 L390.2,635.1 L390.0,639.4 L389.9,643.7 L389.8,648.1 L389.7,652.4 L389.6,656.7 L389.5,661.0 L389.4,665.4 L389.3,669.7 L389.2,674.0 L389.1,678.3 L389.0,682.5 L388.9,686.8 L388.8,691.1 L388.6,695.4 L388.5,699.6 L388.4,703.9 L388.2,708.1 L388.0,712.4 L387.8,716.6 L387.6,720.8 L387.4,725.0 L387.2,729.2 L411.5,730.4 L411.7,726.1 L411.8,721.8 L412.0,717.5 L412.1,713.2 L412.3,708.9 L412.4,704.6 L412.5,700.3 L412.6,696.0 L412.7,691.7 L412.7,687.4 L412.8,683.1 L412.9,678.7 L413.0,674.4 L413.0,670.1 L413.1,665.8 L413.1,661.5 L413.2,657.1 L413.2,652.8 L413.3,648.5 L413.4,644.2 L413.4,639.9 L413.5,635.6 L413.5,631.3 L413.6,626.9 L413.7,622.6 L413.8,618.3 L413.9,614.0 L414.0,609.7 L414.1,605.4 L414.3,601.1 L414.4,596.8 L414.6,592.5 L414.7,588.3 L414.9,584.0 L415.1,579.7 L415.3,575.4 L415.6,571.2 L415.8,566.9 L416.1,562.7 L416.4,558.4 L416.7,554.2 L417.1,549.9 L417.4,545.7 L417.8,541.5 L418.3,537.3 L418.7,533.1 L419.2,528.9 L419.7,524.7 L420.2,520.5 L420.8,516.3 L421.3,512.2 L422.0,508.0 L422.6,503.9 L423.3,499.7 L424.0,495.6 L424.8,491.5 L425.6,487.4 L426.5,483.3 L427.4,479.2 L428.3,475.2 L429.2,471.1 L430.3,467.1 L431.3,463.1 L432.4,459.1 L433.6,455.1 L434.8,451.1 L436.0,447.1 L437.3,443.1 L438.7,439.2 L440.1,435.3 L441.5,431.4 L443.0,427.5 L444.6,423.6 L446.2,419.7 L447.9,415.9 L449.6,412.0 L451.4,408.2 L453.3,404.4 L455.2,400.6 Z" fill="#d8bd8f" stroke="#5a3208" stroke-width="1.9" stroke-linejoin="round"/>
<circle cx="427" cy="438.5" r="3.4" fill="#e2cda8"/><circle cx="427" cy="438.5" r="2.5" fill="#6b3a0c"/>
<circle cx="418.5" cy="467" r="3.4" fill="#e2cda8"/><circle cx="418.5" cy="467" r="2.5" fill="#6b3a0c"/>
<circle cx="414" cy="492" r="3.4" fill="#e2cda8"/><circle cx="414" cy="492" r="2.5" fill="#6b3a0c"/>
<circle cx="408.8" cy="517.3" r="3.4" fill="#e2cda8"/><circle cx="408.8" cy="517.3" r="2.5" fill="#6b3a0c"/>
<circle cx="405.9" cy="543.2" r="3.4" fill="#e2cda8"/><circle cx="405.9" cy="543.2" r="2.5" fill="#6b3a0c"/>
<circle cx="405.6" cy="569.3" r="3.4" fill="#e2cda8"/><circle cx="405.6" cy="569.3" r="2.5" fill="#6b3a0c"/>
<circle cx="404.3" cy="596.5" r="3.4" fill="#e2cda8"/><circle cx="404.3" cy="596.5" r="2.5" fill="#6b3a0c"/>
<circle cx="402.1" cy="623.2" r="3.4" fill="#e2cda8"/><circle cx="402.1" cy="623.2" r="2.5" fill="#6b3a0c"/>
<circle cx="400.5" cy="652.8" r="3.4" fill="#e2cda8"/><circle cx="400.5" cy="652.8" r="2.5" fill="#6b3a0c"/>
<circle cx="400" cy="681.1" r="3.4" fill="#e2cda8"/><circle cx="400" cy="681.1" r="2.5" fill="#6b3a0c"/>
<path d="M450.8,400.9 L452.9,404.7 L454.8,408.5 L456.7,412.2 L458.6,416.0 L460.4,419.8 L462.1,423.7 L463.8,427.5 L465.4,431.4 L467.0,435.2 L468.5,439.1 L469.9,443.0 L471.3,447.0 L472.7,450.9 L474.0,454.9 L475.2,458.8 L476.4,462.8 L477.6,466.8 L478.7,470.8 L479.7,474.9 L480.7,478.9 L481.7,482.9 L482.6,487.0 L483.5,491.1 L484.3,495.2 L485.1,499.3 L485.9,503.4 L486.6,507.5 L487.3,511.7 L488.0,515.8 L488.6,520.0 L489.2,524.2 L489.7,528.4 L490.2,532.6 L490.7,536.8 L491.1,541.0 L491.6,545.2 L492.0,549.4 L492.3,553.7 L492.7,557.9 L493.0,562.2 L493.3,566.4 L493.6,570.7 L493.8,575.0 L494.0,579.2 L494.3,583.5 L494.4,587.8 L494.6,592.1 L494.8,596.4 L494.9,600.7 L495.0,605.0 L495.1,609.4 L495.2,613.7 L495.3,618.0 L495.4,622.3 L495.5,626.6 L495.5,631.0 L495.6,635.3 L495.6,639.6 L495.6,644.0 L495.7,648.3 L495.7,652.6 L495.7,657.0 L495.8,661.3 L495.8,665.6 L495.8,670.0 L495.9,674.3 L495.9,678.6 L495.9,682.9 L496.0,687.3 L496.0,691.6 L496.1,695.9 L496.1,700.2 L496.2,704.5 L496.3,708.8 L496.4,713.1 L496.5,717.4 L496.6,721.7 L496.8,726.0 L496.9,730.3 L521.2,729.3 L521.0,725.1 L520.8,720.9 L520.7,716.6 L520.5,712.4 L520.4,708.2 L520.2,704.0 L520.1,699.7 L520.0,695.4 L519.9,691.2 L519.8,686.9 L519.7,682.6 L519.6,678.3 L519.6,674.0 L519.5,669.7 L519.4,665.4 L519.4,661.0 L519.3,656.7 L519.2,652.3 L519.1,648.0 L519.1,643.6 L519.0,639.3 L518.9,634.9 L518.8,630.6 L518.7,626.2 L518.6,621.8 L518.5,617.4 L518.3,613.1 L518.2,608.7 L518.0,604.3 L517.9,599.9 L517.7,595.5 L517.5,591.1 L517.3,586.8 L517.0,582.4 L516.8,578.0 L516.5,573.6 L516.2,569.2 L515.9,564.8 L515.5,560.4 L515.1,556.0 L514.7,551.7 L514.3,547.3 L513.9,542.9 L513.4,538.5 L512.9,534.2 L512.3,529.8 L511.7,525.5 L511.1,521.1 L510.5,516.7 L509.8,512.4 L509.0,508.1 L508.3,503.7 L507.5,499.4 L506.6,495.1 L505.8,490.8 L504.8,486.5 L503.9,482.2 L502.8,477.9 L501.8,473.6 L500.7,469.4 L499.5,465.1 L498.3,460.9 L497.0,456.6 L495.7,452.4 L494.3,448.2 L492.9,444.0 L491.4,439.8 L489.9,435.7 L488.3,431.5 L486.7,427.4 L484.9,423.2 L483.2,419.1 L481.3,415.0 L479.4,410.9 L477.5,406.9 L475.4,402.8 L473.3,398.8 L471.2,394.8 L469.0,390.9 Z" fill="#d8bd8f" stroke="#5a3208" stroke-width="1.9" stroke-linejoin="round"/>
<circle cx="480" cy="437.8" r="3.4" fill="#e2cda8"/><circle cx="480" cy="437.8" r="2.5" fill="#6b3a0c"/>
<circle cx="488.5" cy="462.5" r="3.4" fill="#e2cda8"/><circle cx="488.5" cy="462.5" r="2.5" fill="#6b3a0c"/>
<circle cx="494.1" cy="486.7" r="3.4" fill="#e2cda8"/><circle cx="494.1" cy="486.7" r="2.5" fill="#6b3a0c"/>
<circle cx="499.2" cy="513.3" r="3.4" fill="#e2cda8"/><circle cx="499.2" cy="513.3" r="2.5" fill="#6b3a0c"/>
<circle cx="501.6" cy="541.9" r="3.4" fill="#e2cda8"/><circle cx="501.6" cy="541.9" r="2.5" fill="#6b3a0c"/>
<circle cx="504" cy="568" r="3.4" fill="#e2cda8"/><circle cx="504" cy="568" r="2.5" fill="#6b3a0c"/>
<circle cx="505.1" cy="593.9" r="3.4" fill="#e2cda8"/><circle cx="505.1" cy="593.9" r="2.5" fill="#6b3a0c"/>
<circle cx="507.2" cy="621.9" r="3.4" fill="#e2cda8"/><circle cx="507.2" cy="621.9" r="2.5" fill="#6b3a0c"/>
<circle cx="508.5" cy="649.3" r="3.4" fill="#e2cda8"/><circle cx="508.5" cy="649.3" r="2.5" fill="#6b3a0c"/>
<circle cx="508.4" cy="681.3" r="3.4" fill="#e2cda8"/><circle cx="508.4" cy="681.3" r="2.5" fill="#6b3a0c"/>
<path d="M389.6,382.2 L388.1,386.2 L386.7,390.2 L385.1,394.2 L383.6,398.2 L381.9,402.2 L380.3,406.2 L378.6,410.2 L376.9,414.2 L375.1,418.3 L373.3,422.3 L371.6,426.3 L369.8,430.4 L368.0,434.4 L366.2,438.5 L364.4,442.6 L362.6,446.7 L360.8,450.8 L359.1,455.0 L357.4,459.2 L355.7,463.4 L354.1,467.6 L352.5,471.9 L351.0,476.1 L349.5,480.4 L348.0,484.7 L346.6,489.0 L345.3,493.4 L344.0,497.7 L342.7,502.1 L341.5,506.4 L340.4,510.8 L339.3,515.2 L338.2,519.6 L337.2,524.1 L336.3,528.5 L335.3,532.9 L334.5,537.4 L333.6,541.8 L332.9,546.3 L332.1,550.8 L331.4,555.2 L330.8,559.7 L330.2,564.2 L329.6,568.7 L329.1,573.2 L328.5,577.6 L328.1,582.1 L327.6,586.6 L327.2,591.1 L326.9,595.6 L326.5,600.1 L326.2,604.6 L325.9,609.1 L325.6,613.6 L325.3,618.1 L325.1,622.6 L324.9,627.1 L324.7,631.6 L324.5,636.0 L324.3,640.5 L324.2,645.0 L324.0,649.5 L323.9,653.9 L323.7,658.4 L323.6,662.9 L323.5,667.3 L323.4,671.8 L323.3,676.2 L323.1,680.6 L323.0,685.0 L322.9,689.5 L322.8,693.9 L322.7,698.3 L322.5,702.7 L322.4,707.0 L322.3,711.4 L322.1,715.8 L321.9,720.1 L321.8,724.5 L345.5,725.3 L345.7,720.9 L345.8,716.5 L345.9,712.1 L346.0,707.7 L346.1,703.2 L346.2,698.8 L346.2,694.4 L346.3,689.9 L346.4,685.5 L346.4,681.1 L346.5,676.7 L346.6,672.2 L346.6,667.8 L346.7,663.4 L346.8,658.9 L346.8,654.5 L346.9,650.1 L347.0,645.7 L347.1,641.2 L347.3,636.8 L347.4,632.4 L347.5,628.0 L347.7,623.6 L347.9,619.2 L348.1,614.8 L348.3,610.4 L348.6,606.0 L348.8,601.7 L349.1,597.3 L349.4,592.9 L349.8,588.6 L350.2,584.2 L350.6,579.9 L351.0,575.6 L351.5,571.3 L352.0,567.0 L352.5,562.7 L353.1,558.4 L353.7,554.1 L354.3,549.8 L355.0,545.6 L355.8,541.3 L356.6,537.1 L357.4,532.8 L358.3,528.6 L359.2,524.4 L360.1,520.2 L361.1,516.0 L362.2,511.9 L363.3,507.7 L364.4,503.5 L365.6,499.4 L366.8,495.3 L368.1,491.2 L369.4,487.1 L370.8,483.0 L372.2,478.9 L373.6,474.9 L375.1,470.9 L376.7,466.8 L378.3,462.8 L379.9,458.8 L381.6,454.7 L383.3,450.7 L385.0,446.6 L386.7,442.6 L388.5,438.5 L390.2,434.4 L392.0,430.4 L393.7,426.3 L395.5,422.2 L397.2,418.0 L398.9,413.9 L400.5,409.7 L402.2,405.5 L403.8,401.3 L405.3,397.1 L406.9,392.8 L408.3,388.6 Z" fill="#d8bd8f" stroke="#5a3208" stroke-width="1.9" stroke-linejoin="round"/>
<circle cx="383.8" cy="427" r="3.4" fill="#e2cda8"/><circle cx="383.8" cy="427" r="2.5" fill="#6b3a0c"/>
<circle cx="372" cy="448" r="3.4" fill="#e2cda8"/><circle cx="372" cy="448" r="2.5" fill="#6b3a0c"/>
<circle cx="363.5" cy="470.6" r="3.4" fill="#e2cda8"/><circle cx="363.5" cy="470.6" r="2.5" fill="#6b3a0c"/>
<circle cx="356.9" cy="491.4" r="3.4" fill="#e2cda8"/><circle cx="356.9" cy="491.4" r="2.5" fill="#6b3a0c"/>
<circle cx="350.4" cy="515.5" r="3.4" fill="#e2cda8"/><circle cx="350.4" cy="515.5" r="2.5" fill="#6b3a0c"/>
<circle cx="344" cy="541.3" r="3.4" fill="#e2cda8"/><circle cx="344" cy="541.3" r="2.5" fill="#6b3a0c"/>
<circle cx="341.3" cy="568" r="3.4" fill="#e2cda8"/><circle cx="341.3" cy="568" r="2.5" fill="#6b3a0c"/>
<circle cx="338.7" cy="593.9" r="3.4" fill="#e2cda8"/><circle cx="338.7" cy="593.9" r="2.5" fill="#6b3a0c"/>
<circle cx="337.1" cy="620" r="3.4" fill="#e2cda8"/><circle cx="337.1" cy="620" r="2.5" fill="#6b3a0c"/>
<circle cx="335" cy="650.4" r="3.4" fill="#e2cda8"/><circle cx="335" cy="650.4" r="2.5" fill="#6b3a0c"/>
<path d="M495.2,390.9 L497.2,394.8 L499.2,398.8 L501.2,402.8 L503.2,406.8 L505.2,410.8 L507.2,414.7 L509.2,418.7 L511.2,422.6 L513.2,426.5 L515.2,430.5 L517.1,434.4 L519.0,438.3 L520.9,442.3 L522.8,446.2 L524.6,450.2 L526.4,454.1 L528.1,458.1 L529.8,462.0 L531.5,466.0 L533.1,470.0 L534.6,474.0 L536.1,478.0 L537.5,482.1 L538.9,486.1 L540.2,490.2 L541.4,494.3 L542.6,498.5 L543.8,502.6 L544.9,506.8 L546.0,511.0 L547.0,515.2 L548.0,519.4 L548.9,523.6 L549.8,527.9 L550.6,532.1 L551.4,536.4 L552.2,540.7 L552.9,545.0 L553.6,549.3 L554.2,553.6 L554.8,557.9 L555.4,562.2 L555.9,566.5 L556.4,570.8 L556.9,575.2 L557.3,579.5 L557.7,583.8 L558.0,588.2 L558.4,592.5 L558.7,596.9 L559.0,601.3 L559.2,605.6 L559.4,610.0 L559.6,614.4 L559.8,618.8 L559.9,623.2 L560.0,627.5 L560.1,631.9 L560.2,636.3 L560.2,640.7 L560.2,645.1 L560.2,649.5 L560.2,653.9 L560.2,658.3 L560.1,662.7 L560.1,667.1 L560.0,671.6 L559.9,676.0 L559.8,680.4 L559.6,684.8 L559.5,689.2 L559.3,693.6 L559.2,698.0 L559.0,702.4 L558.8,706.8 L558.6,711.2 L558.4,715.6 L558.2,720.0 L558.0,724.5 L581.8,725.5 L582.0,721.0 L582.1,716.6 L582.3,712.1 L582.4,707.7 L582.5,703.2 L582.7,698.8 L582.8,694.3 L582.9,689.8 L583.0,685.4 L583.1,680.9 L583.1,676.4 L583.2,671.9 L583.2,667.4 L583.2,662.9 L583.2,658.4 L583.2,653.9 L583.2,649.4 L583.1,644.9 L583.0,640.4 L582.9,635.9 L582.8,631.4 L582.7,626.9 L582.5,622.4 L582.3,617.9 L582.1,613.4 L581.9,608.8 L581.6,604.3 L581.3,599.8 L581.0,595.3 L580.6,590.8 L580.2,586.3 L579.8,581.8 L579.3,577.3 L578.8,572.8 L578.3,568.3 L577.7,563.8 L577.1,559.3 L576.5,554.8 L575.8,550.3 L575.1,545.8 L574.3,541.3 L573.5,536.9 L572.7,532.4 L571.8,527.9 L570.8,523.5 L569.9,519.0 L568.8,514.6 L567.8,510.1 L566.6,505.7 L565.5,501.3 L564.2,496.9 L563.0,492.5 L561.6,488.1 L560.2,483.8 L558.8,479.5 L557.3,475.1 L555.7,470.8 L554.1,466.6 L552.4,462.3 L550.7,458.1 L548.9,453.9 L547.0,449.7 L545.2,445.6 L543.3,441.5 L541.3,437.4 L539.3,433.4 L537.3,429.3 L535.3,425.3 L533.3,421.3 L531.2,417.4 L529.2,413.4 L527.1,409.4 L525.1,405.5 L523.0,401.6 L521.0,397.7 L519.0,393.8 L516.9,389.9 L515.0,386.0 L513.0,382.0 Z" fill="#d8bd8f" stroke="#5a3208" stroke-width="1.9" stroke-linejoin="round"/>
<circle cx="522.2" cy="424.4" r="3.4" fill="#e2cda8"/><circle cx="522.2" cy="424.4" r="2.5" fill="#6b3a0c"/>
<circle cx="534.7" cy="444" r="3.4" fill="#e2cda8"/><circle cx="534.7" cy="444" r="2.5" fill="#6b3a0c"/>
<circle cx="544" cy="468" r="3.4" fill="#e2cda8"/><circle cx="544" cy="468" r="2.5" fill="#6b3a0c"/>
<circle cx="552" cy="492.8" r="3.4" fill="#e2cda8"/><circle cx="552" cy="492.8" r="2.5" fill="#6b3a0c"/>
<circle cx="558.1" cy="515.5" r="3.4" fill="#e2cda8"/><circle cx="558.1" cy="515.5" r="2.5" fill="#6b3a0c"/>
<circle cx="562.4" cy="542.7" r="3.4" fill="#e2cda8"/><circle cx="562.4" cy="542.7" r="2.5" fill="#6b3a0c"/>
<circle cx="567.5" cy="568.8" r="3.4" fill="#e2cda8"/><circle cx="567.5" cy="568.8" r="2.5" fill="#6b3a0c"/>
<circle cx="570.1" cy="595.2" r="3.4" fill="#e2cda8"/><circle cx="570.1" cy="595.2" r="2.5" fill="#6b3a0c"/>
<circle cx="571.5" cy="626.1" r="3.4" fill="#e2cda8"/><circle cx="571.5" cy="626.1" r="2.5" fill="#6b3a0c"/>
<circle cx="571.6" cy="652.7" r="3.4" fill="#e2cda8"/><circle cx="571.6" cy="652.7" r="2.5" fill="#6b3a0c"/>
<path d="M351.4,363.9 L349.8,366.6 L348.1,369.2 L346.5,371.9 L344.8,374.6 L343.2,377.2 L341.5,379.9 L339.9,382.6 L338.2,385.2 L336.6,387.9 L334.9,390.6 L333.3,393.2 L331.6,395.9 L330.0,398.6 L328.4,401.2 L326.7,403.9 L325.1,406.6 L323.4,409.2 L321.8,411.9 L320.1,414.6 L318.5,417.3 L316.9,419.9 L315.2,422.6 L313.6,425.3 L312.0,428.0 L310.4,430.7 L308.7,433.4 L307.1,436.1 L305.5,438.8 L303.9,441.5 L302.3,444.2 L300.7,446.9 L299.1,449.6 L297.5,452.3 L295.9,455.0 L294.3,457.7 L292.8,460.4 L291.2,463.2 L289.6,465.9 L288.1,468.6 L286.5,471.3 L285.0,474.1 L283.4,476.8 L281.9,479.6 L280.3,482.3 L278.8,485.1 L277.3,487.8 L275.8,490.6 L274.3,493.4 L272.8,496.1 L271.3,498.9 L269.8,501.7 L268.3,504.5 L266.9,507.3 L265.4,510.1 L264.0,512.9 L262.5,515.7 L261.1,518.5 L259.7,521.3 L258.3,524.1 L256.9,526.9 L255.5,529.8 L254.1,532.6 L252.7,535.5 L251.3,538.3 L250.0,541.2 L248.6,544.1 L247.3,546.9 L246.0,549.8 L244.7,552.7 L243.4,555.6 L242.1,558.5 L240.8,561.4 L239.5,564.3 L238.3,567.2 L237.0,570.2 L235.8,573.1 L234.6,576.0 L233.4,579.0 L232.2,581.9 L248.2,588.4 L249.4,585.5 L250.6,582.6 L251.8,579.7 L253.0,576.9 L254.2,574.0 L255.4,571.1 L256.6,568.3 L257.9,565.4 L259.1,562.6 L260.4,559.8 L261.7,557.0 L262.9,554.1 L264.2,551.3 L265.6,548.5 L266.9,545.7 L268.2,542.9 L269.5,540.1 L270.9,537.3 L272.3,534.5 L273.6,531.8 L275.0,529.0 L276.4,526.2 L277.8,523.5 L279.2,520.7 L280.6,517.9 L282.1,515.2 L283.5,512.4 L284.9,509.7 L286.4,507.0 L287.9,504.2 L289.3,501.5 L290.8,498.8 L292.3,496.0 L293.8,493.3 L295.3,490.6 L296.8,487.9 L298.3,485.2 L299.8,482.5 L301.3,479.7 L302.9,477.0 L304.4,474.3 L306.0,471.6 L307.5,468.9 L309.1,466.3 L310.6,463.6 L312.2,460.9 L313.8,458.2 L315.3,455.5 L316.9,452.8 L318.5,450.1 L320.1,447.5 L321.7,444.8 L323.3,442.1 L324.9,439.4 L326.5,436.8 L328.1,434.1 L329.7,431.4 L331.3,428.7 L333.0,426.1 L334.6,423.4 L336.2,420.7 L337.8,418.1 L339.5,415.4 L341.1,412.7 L342.7,410.1 L344.4,407.4 L346.0,404.7 L347.7,402.1 L349.3,399.4 L350.9,396.7 L352.6,394.1 L354.2,391.4 L355.9,388.7 L357.5,386.1 L359.1,383.4 L360.8,380.7 L362.4,378.1 L364.1,375.4 L365.7,372.7 Z" fill="#d8bd8f" stroke="#5a3208" stroke-width="1.9" stroke-linejoin="round"/>
<circle cx="339.8" cy="399.6" r="3.4" fill="#e2cda8"/><circle cx="339.8" cy="399.6" r="2.5" fill="#6b3a0c"/>
<circle cx="329" cy="417" r="3.4" fill="#e2cda8"/><circle cx="329" cy="417" r="2.5" fill="#6b3a0c"/>
<circle cx="317" cy="435.7" r="3.4" fill="#e2cda8"/><circle cx="317" cy="435.7" r="2.5" fill="#6b3a0c"/>
<circle cx="305.5" cy="455.7" r="3.4" fill="#e2cda8"/><circle cx="305.5" cy="455.7" r="2.5" fill="#6b3a0c"/>
<circle cx="292" cy="475.8" r="3.4" fill="#e2cda8"/><circle cx="292" cy="475.8" r="2.5" fill="#6b3a0c"/>
<circle cx="282.8" cy="496" r="3.4" fill="#e2cda8"/><circle cx="282.8" cy="496" r="2.5" fill="#6b3a0c"/>
<circle cx="272.6" cy="516.4" r="3.4" fill="#e2cda8"/><circle cx="272.6" cy="516.4" r="2.5" fill="#6b3a0c"/>
<circle cx="261" cy="538.7" r="3.4" fill="#e2cda8"/><circle cx="261" cy="538.7" r="2.5" fill="#6b3a0c"/>
<path d="M537.5,372.2 L539.2,374.8 L541.0,377.3 L542.7,379.8 L544.5,382.4 L546.2,384.9 L548.0,387.5 L549.7,390.0 L551.5,392.6 L553.2,395.2 L555.0,397.7 L556.7,400.3 L558.4,402.8 L560.2,405.4 L561.9,408.0 L563.6,410.5 L565.4,413.1 L567.1,415.7 L568.8,418.2 L570.5,420.8 L572.2,423.4 L573.9,426.0 L575.6,428.5 L577.3,431.1 L579.0,433.7 L580.6,436.3 L582.3,438.9 L584.0,441.5 L585.6,444.1 L587.3,446.7 L588.9,449.3 L590.5,451.9 L592.2,454.5 L593.8,457.1 L595.4,459.8 L597.0,462.4 L598.6,465.0 L600.2,467.6 L601.8,470.3 L603.3,472.9 L604.9,475.6 L606.5,478.2 L608.0,480.9 L609.5,483.5 L611.1,486.2 L612.6,488.9 L614.1,491.5 L615.6,494.2 L617.1,496.9 L618.5,499.6 L620.0,502.3 L621.4,505.0 L622.9,507.7 L624.3,510.4 L625.7,513.1 L627.1,515.8 L628.5,518.6 L629.9,521.3 L631.3,524.0 L632.6,526.8 L634.0,529.5 L635.3,532.3 L636.6,535.0 L637.9,537.8 L639.2,540.6 L640.4,543.4 L641.7,546.2 L642.9,549.0 L644.2,551.8 L645.4,554.6 L646.6,557.4 L647.8,560.2 L648.9,563.1 L650.1,565.9 L651.2,568.7 L652.3,571.6 L653.4,574.5 L654.5,577.3 L655.6,580.2 L656.7,583.1 L672.9,577.2 L671.8,574.2 L670.7,571.3 L669.6,568.3 L668.4,565.3 L667.3,562.4 L666.1,559.4 L664.9,556.5 L663.7,553.6 L662.5,550.7 L661.2,547.8 L660.0,544.9 L658.7,542.0 L657.4,539.1 L656.1,536.3 L654.8,533.4 L653.5,530.5 L652.1,527.7 L650.8,524.9 L649.4,522.0 L648.0,519.2 L646.6,516.4 L645.2,513.6 L643.8,510.8 L642.4,508.0 L640.9,505.2 L639.5,502.4 L638.0,499.7 L636.5,496.9 L635.0,494.1 L633.6,491.4 L632.0,488.6 L630.5,485.9 L629.0,483.2 L627.4,480.4 L625.9,477.7 L624.3,475.0 L622.8,472.3 L621.2,469.6 L619.6,466.9 L618.0,464.2 L616.4,461.5 L614.8,458.8 L613.2,456.2 L611.5,453.5 L609.9,450.8 L608.3,448.2 L606.6,445.5 L604.9,442.9 L603.3,440.2 L601.6,437.6 L599.9,435.0 L598.3,432.3 L596.6,429.7 L594.9,427.1 L593.2,424.5 L591.5,421.9 L589.7,419.2 L588.0,416.6 L586.3,414.0 L584.6,411.4 L582.9,408.8 L581.1,406.3 L579.4,403.7 L577.7,401.1 L575.9,398.5 L574.2,395.9 L572.4,393.4 L570.7,390.8 L568.9,388.2 L567.2,385.6 L565.4,383.1 L563.6,380.5 L561.9,378.0 L560.1,375.4 L558.3,372.8 L556.6,370.3 L554.8,367.7 L553.0,365.2 L551.3,362.6 Z" fill="#d8bd8f" stroke="#5a3208" stroke-width="1.9" stroke-linejoin="round"/>
<circle cx="563.3" cy="396.4" r="3.4" fill="#e2cda8"/><circle cx="563.3" cy="396.4" r="2.5" fill="#6b3a0c"/>
<circle cx="578.2" cy="417.1" r="3.4" fill="#e2cda8"/><circle cx="578.2" cy="417.1" r="2.5" fill="#6b3a0c"/>
<circle cx="591.1" cy="434.9" r="3.4" fill="#e2cda8"/><circle cx="591.1" cy="434.9" r="2.5" fill="#6b3a0c"/>
<circle cx="602.2" cy="455.6" r="3.4" fill="#e2cda8"/><circle cx="602.2" cy="455.6" r="2.5" fill="#6b3a0c"/>
<circle cx="614.9" cy="475.6" r="3.4" fill="#e2cda8"/><circle cx="614.9" cy="475.6" r="2.5" fill="#6b3a0c"/>
<circle cx="626.3" cy="494.4" r="3.4" fill="#e2cda8"/><circle cx="626.3" cy="494.4" r="2.5" fill="#6b3a0c"/>
<circle cx="636.1" cy="515.8" r="3.4" fill="#e2cda8"/><circle cx="636.1" cy="515.8" r="2.5" fill="#6b3a0c"/>
<circle cx="646.2" cy="535.8" r="3.4" fill="#e2cda8"/><circle cx="646.2" cy="535.8" r="2.5" fill="#6b3a0c"/>
</g>
<path d="M305.7,292.2 L307.3,293.4 L308.8,294.6 L310.2,295.9 L311.5,297.3 L312.8,298.7 L314.0,300.2 L315.2,301.8 L316.3,303.4 L317.4,305.1 L318.4,306.8 L319.4,308.5 L320.4,310.3 L321.4,312.1 L322.3,313.9 L323.3,315.7 L324.2,317.6 L325.2,319.4 L326.1,321.2 L327.1,323.0 L328.1,324.8 L329.1,326.6 L330.1,328.3 L331.1,330.0 L332.2,331.8 L333.3,333.5 L334.4,335.1 L335.6,336.8 L336.7,338.4 L337.9,340.0 L339.1,341.6 L340.3,343.2 L341.5,344.8 L342.8,346.3 L344.1,347.8 L345.4,349.3 L346.7,350.8 L348.0,352.3 L349.4,353.7 L350.8,355.1 L352.2,356.5 L353.6,357.9 L355.1,359.3 L356.6,360.6 L358.0,362.0 L359.6,363.3 L361.1,364.6 L362.7,365.8 L364.2,367.1 L365.8,368.3 L367.4,369.5 L369.1,370.7 L370.7,371.9 L372.4,373.0 L374.1,374.1 L375.8,375.2 L377.5,376.3 L379.2,377.4 L381.0,378.4 L382.8,379.4 L384.5,380.4 L386.3,381.4 L388.1,382.3 L390.0,383.2 L391.8,384.1 L393.7,385.0 L395.5,385.8 L397.4,386.7 L399.3,387.5 L401.2,388.2 L403.1,389.0 L405.0,389.7 L406.9,390.4 L408.8,391.1 L410.8,391.7 L412.7,392.3 L414.7,392.9 L416.6,393.4 L418.6,394.0 L420.6,394.5 L422.6,395.0 L424.6,395.4 L426.6,395.8 L428.6,396.2 L430.6,396.6 L432.6,396.9 L434.6,397.2 L436.6,397.5 L438.6,397.7 L440.6,397.9 L442.6,398.1 L444.6,398.2 L446.6,398.4 L448.7,398.4 L450.7,398.5 L452.7,398.5 L454.7,398.5 L456.7,398.5 L458.7,398.4 L460.7,398.3 L462.7,398.1 L464.7,398.0 L466.7,397.8 L468.7,397.5 L470.7,397.3 L472.7,397.0 L474.7,396.7 L476.6,396.3 L478.6,395.9 L480.6,395.5 L482.5,395.1 L484.5,394.6 L486.4,394.1 L488.4,393.6 L490.3,393.1 L492.2,392.5 L494.1,391.9 L496.0,391.2 L497.9,390.6 L499.8,389.9 L501.7,389.2 L503.6,388.4 L505.4,387.7 L507.3,386.9 L509.1,386.1 L511.0,385.2 L512.8,384.3 L514.6,383.4 L516.4,382.5 L518.2,381.6 L520.0,380.6 L521.7,379.6 L523.5,378.6 L525.2,377.6 L526.9,376.5 L528.6,375.4 L530.3,374.3 L532.0,373.2 L533.7,372.0 L535.3,370.9 L536.9,369.7 L538.6,368.4 L540.2,367.2 L541.7,365.9 L543.3,364.7 L544.9,363.4 L546.4,362.0 L547.9,360.7 L549.4,359.3 L550.9,358.0 L552.3,356.6 L553.8,355.1 L555.2,353.7 L556.6,352.2 L558.0,350.8 L559.4,349.3 L560.7,347.7 L562.0,346.2 L563.3,344.7 L564.6,343.1 L565.9,341.5 L567.1,339.9 L568.4,338.3 L569.6,336.7 L570.8,335.1 L572.0,333.4 L573.1,331.8 L574.3,330.1 L575.5,328.4 L576.6,326.8 L577.7,325.1 L578.9,323.4 L580.0,321.7 L581.1,320.0 L582.2,318.3 L583.3,316.6 L584.4,314.9 L585.5,313.2 L586.6,311.5 L587.7,309.8 L588.8,308.2 L589.9,306.5 L591.0,304.8 L592.1,303.1 L593.2,301.4 L594.3,299.8 L595.4,298.1 L596.6,296.5 L597.7,294.8 L605.8,303.3 L604.2,302.1 L602.6,300.8 L601.0,299.6 L599.4,298.3 L597.8,297.1 L596.1,295.9 L594.5,294.7 L592.8,293.5 L591.2,292.4 L589.5,291.2 L587.8,290.0 L586.2,288.9 L584.5,287.8 L582.8,286.6 L581.1,285.5 L579.4,284.4 L577.7,283.3 L576.0,282.3 L574.2,281.2 L572.5,280.2 L570.8,279.1 L569.0,278.1 L567.3,277.1 L565.5,276.1 L563.8,275.2 L562.0,274.2 L560.2,273.3 L558.4,272.3 L556.6,271.4 L554.8,270.5 L553.0,269.7 L551.2,268.8 L549.4,268.0 L547.6,267.1 L545.7,266.3 L543.9,265.5 L542.0,264.8 L540.2,264.0 L538.3,263.3 L536.5,262.5 L534.6,261.8 L532.7,261.2 L530.8,260.5 L528.9,259.9 L527.0,259.2 L525.1,258.6 L523.2,258.0 L521.3,257.5 L519.3,256.9 L517.4,256.4 L515.5,255.9 L513.5,255.4 L511.6,254.9 L509.6,254.4 L507.6,254.0 L505.7,253.5 L503.7,253.1 L501.7,252.7 L499.8,252.4 L497.8,252.0 L495.8,251.6 L493.8,251.3 L491.8,251.0 L489.8,250.7 L487.8,250.4 L485.8,250.1 L483.8,249.9 L481.8,249.7 L479.8,249.4 L477.8,249.2 L475.8,249.0 L473.8,248.9 L471.7,248.7 L469.7,248.5 L467.7,248.4 L465.7,248.3 L463.6,248.2 L461.6,248.1 L459.6,248.0 L457.5,248.0 L455.5,247.9 L453.5,247.9 L451.5,247.8 L449.4,247.8 L447.4,247.8 L445.4,247.8 L443.3,247.9 L441.3,247.9 L439.3,248.0 L437.2,248.0 L435.2,248.1 L433.2,248.2 L431.1,248.3 L429.1,248.5 L427.1,248.6 L425.1,248.8 L423.0,248.9 L421.0,249.1 L419.0,249.3 L417.0,249.5 L415.0,249.8 L413.0,250.0 L411.0,250.3 L409.0,250.6 L407.0,250.9 L405.0,251.2 L403.0,251.5 L401.0,251.9 L399.0,252.2 L397.0,252.6 L395.1,253.0 L393.1,253.4 L391.1,253.9 L389.2,254.3 L387.2,254.8 L385.3,255.3 L383.3,255.8 L381.4,256.3 L379.5,256.9 L377.5,257.4 L375.6,258.0 L373.7,258.6 L371.8,259.2 L369.9,259.9 L368.0,260.5 L366.1,261.2 L364.3,261.9 L362.4,262.6 L360.5,263.4 L358.7,264.2 L356.8,264.9 L355.0,265.7 L353.2,266.6 L351.4,267.4 L349.5,268.3 L347.7,269.2 L345.9,270.1 L344.2,271.0 L342.4,271.9 L340.6,272.9 L338.9,273.9 L337.1,274.9 L335.4,275.9 L333.7,276.9 L332.0,278.0 L330.2,279.1 L328.6,280.2 L326.9,281.3 L325.2,282.4 L323.5,283.6 L321.9,284.7 L320.2,285.9 L318.6,287.1 L317.0,288.3 L315.4,289.6 L313.8,290.8 L312.2,292.1 L310.6,293.4 L309.1,294.7 L307.5,296.0 L306.0,297.4 L304.5,298.7 L303.0,300.1 L301.5,301.5 L300.0,302.9 Z" fill="#ffffff"/>
<g clip-path="url(#clens)">
<path d="M440.3,281.0 L441.2,284.6 L441.3,288.3 L440.4,291.9 L438.5,295.0 L436.0,297.7 L433.1,299.9 L430.1,301.8 L427.2,303.4 L424.5,305.1 L422.0,307.0 L419.4,308.9 L416.7,310.8 L413.7,312.4 L410.4,313.5 L407.0,313.8 L403.6,313.3 L400.3,312.3 L397.3,310.9 L394.4,309.3 L391.6,307.7 L388.7,306.2 L385.7,304.7 L382.6,303.0 L379.7,300.9 L377.2,298.2 L375.3,295.1 L374.4,291.6 L374.4,287.9 L375.1,284.4 L376.3,281.0 L377.6,277.9 L378.7,275.0 L379.5,272.1 L380.1,269.0 L380.6,265.7 L381.3,262.3 L382.5,258.9 L384.4,255.9 L386.9,253.3 L390.0,251.5 L393.4,250.5 L396.9,250.0 L400.4,249.8 L403.7,249.8 L407.0,249.8 L410.3,249.7 L413.7,249.7 L417.1,250.0 L420.4,250.8 L423.6,252.3 L426.3,254.4 L428.5,257.1 L430.1,260.2 L431.4,263.2 L432.6,266.2 L433.8,269.1 L435.3,271.8 L437.0,274.6 L438.8,277.7 Z" fill="#d8bf93"/>
<path d="M412.7,282.8 L412.3,283.8 L411.7,284.8 L410.8,285.5 L409.9,286.0 L408.8,286.3 L407.8,286.4 L406.8,286.5 L405.7,286.4 L404.7,286.2 L403.7,285.8 L402.8,285.2 L402.0,284.4 L401.5,283.4 L401.2,282.3 L401.2,281.2 L401.4,280.1 L401.8,279.1 L402.3,278.2 L402.9,277.4 L403.5,276.5 L404.3,275.8 L405.3,275.3 L406.4,275.0 L407.5,275.0 M406.7,292.2 L404.5,292.3 L402.3,291.9 L400.3,291.0 L398.5,289.6 L397.2,287.8 L396.3,285.7 L396.0,283.6 L395.9,281.5 L396.2,279.4 L396.6,277.4 L397.3,275.4 L398.3,273.5 L399.6,271.8 L401.4,270.4 L403.4,269.4 L405.7,269.1 L407.9,269.3 L410.0,270.0 L411.8,271.0 L413.5,272.2 L415.1,273.6 L416.5,275.1 L417.7,276.9 L418.6,278.9 M390.7,285.0 L390.5,283.4 L390.3,281.8 L390.2,280.2 L390.1,278.6 L390.3,276.9 L390.5,275.3 L390.9,273.6 L391.5,272.0 L392.2,270.4 L393.2,268.9 L394.3,267.6 L395.6,266.4 L397.1,265.4 L398.7,264.7 L400.3,264.1 L402.1,263.7 L403.8,263.6 L405.5,263.6 L407.1,263.8 L408.8,264.1 L410.3,264.5 L411.9,265.0 L413.4,265.5 L414.9,266.2 M424.9,276.6 L425.3,278.3 L425.4,280.1 L425.3,281.8 L425.0,283.6 L424.5,285.2 L423.7,286.8 L422.9,288.3 L421.9,289.6 L420.8,290.9 L419.7,292.1 L418.5,293.2 L417.3,294.2 L416.0,295.1 L414.7,296.0 L413.2,296.9 L411.8,297.6 L410.2,298.2 L408.5,298.7 L406.8,299.0 L405.1,299.1 L403.4,299.0 L401.6,298.6 L399.9,298.1 L398.4,297.3 M395.3,260.2 L397.5,259.5 L399.7,259.0 L401.9,258.7 L404.1,258.5 L406.3,258.5 L408.4,258.5 L410.6,258.7 L412.7,259.0 L414.9,259.4 L417.0,260.0 L419.2,260.8 L421.2,261.8 L423.2,263.0 L425.1,264.4 L426.7,266.1 L428.2,268.0 L429.3,270.1 L430.2,272.3 L430.8,274.6 L431.1,277.0 L431.0,279.3 L430.8,281.6 L430.2,283.8 L429.6,286.0 M418.5,301.5 L416.7,302.8 L414.6,304.0 L412.5,304.9 L410.2,305.5 L407.8,305.8 L405.4,305.8 L403.1,305.5 L400.8,304.9 L398.6,303.9 L396.6,302.8 L394.7,301.4 L393.0,299.8 L391.5,298.2 L390.1,296.4 L388.9,294.6 L387.8,292.8 L386.8,290.9 L385.9,288.9 L385.0,286.9 L384.3,284.8 L383.8,282.6 L383.4,280.4 L383.2,278.1 L383.3,275.8 M428.4,259.7 L430.3,261.9 L431.9,264.3 L433.1,266.9 L434.0,269.6 L434.6,272.4 L434.9,275.1 L434.9,277.9 L434.8,280.5 L434.4,283.2 L434.0,285.8 L433.4,288.3 L432.6,290.9 L431.8,293.4 L430.7,295.8 L429.5,298.3 L428.0,300.6 L426.3,302.8 L424.4,304.9 L422.2,306.7 L419.7,308.3 L417.1,309.5 L414.4,310.3 L411.5,310.8 L408.6,310.9 M387.6,300.3 L385.8,298.4 L384.0,296.4 L382.4,294.3 L380.9,292.0 L379.6,289.6 L378.5,287.0 L377.7,284.3 L377.2,281.5 L377.0,278.6 L377.2,275.7 L377.9,272.9 L378.9,270.2 L380.2,267.6 L381.9,265.3 L383.8,263.2 L385.9,261.3 L388.1,259.7 L390.5,258.3 L392.9,257.1 L395.4,256.1 L397.8,255.2 L400.3,254.5 L402.9,253.8 L405.5,253.3" fill="none" stroke="#fbf6ec" stroke-width="1.5" stroke-linecap="round"/>
<path d="M547.8,285.0 L547.4,288.8 L546.0,292.4 L543.8,295.7 L541.2,298.4 L538.5,300.9 L536.0,303.1 L533.8,305.5 L531.8,308.1 L529.9,311.0 L527.7,313.9 L525.1,316.7 L522.0,319.0 L518.5,320.5 L514.8,321.1 L511.0,320.7 L507.3,319.7 L503.9,318.3 L500.7,316.8 L497.5,315.3 L494.3,313.9 L491.1,312.4 L487.9,310.6 L485.0,308.4 L482.5,305.7 L480.7,302.5 L479.6,299.0 L479.2,295.3 L479.4,291.7 L479.6,288.3 L479.8,285.0 L479.8,281.7 L479.4,278.3 L479.1,274.6 L479.0,270.8 L479.6,266.9 L481.0,263.2 L483.2,260.0 L486.3,257.6 L489.9,255.9 L493.7,255.0 L497.5,254.6 L501.0,254.3 L504.4,254.0 L507.7,253.4 L511.0,252.7 L514.5,252.1 L518.1,251.8 L521.7,252.1 L525.2,253.2 L528.3,255.0 L531.1,257.4 L533.4,260.1 L535.5,262.9 L537.5,265.7 L539.6,268.5 L541.7,271.3 L543.9,274.3 L545.9,277.6 L547.3,281.2 Z" fill="#d8bf93"/>
<path d="M513.2,290.6 L512.1,290.8 L511.0,290.8 L509.9,290.8 L508.8,290.6 L507.7,290.2 L506.7,289.6 L505.8,288.8 L505.2,287.7 L504.9,286.6 L504.8,285.4 L505.0,284.3 L505.4,283.2 L505.9,282.2 L506.5,281.3 L507.2,280.4 L508.0,279.7 L509.0,279.0 L510.1,278.7 L511.3,278.6 L512.5,278.8 L513.6,279.3 L514.5,280.1 L515.2,280.9 L515.9,281.8 M500.8,292.6 L499.8,290.5 L499.3,288.2 L499.2,285.9 L499.4,283.7 L499.8,281.6 L500.5,279.5 L501.5,277.4 L502.8,275.5 L504.6,274.0 L506.7,272.9 L509.1,272.4 L511.5,272.5 L513.7,273.1 L515.8,274.1 L517.6,275.4 L519.3,276.8 L520.8,278.4 L522.1,280.2 L523.1,282.3 L523.7,284.6 L523.7,287.0 L523.0,289.3 L521.8,291.3 L520.2,293.0 M495.7,273.1 L496.8,271.6 L498.1,270.3 L499.5,269.1 L501.1,268.1 L502.8,267.4 L504.6,266.9 L506.5,266.6 L508.3,266.5 L510.1,266.6 L511.8,266.8 L513.5,267.2 L515.2,267.7 L516.8,268.2 L518.4,268.8 L519.9,269.6 L521.5,270.4 L523.0,271.3 L524.4,272.3 L525.8,273.5 L527.0,274.8 L528.1,276.3 L529.1,277.9 L529.8,279.6 L530.3,281.4 M525.2,296.0 L524.0,297.2 L522.7,298.4 L521.4,299.4 L520.0,300.4 L518.6,301.3 L517.0,302.2 L515.4,302.9 L513.7,303.5 L511.9,303.9 L510.1,304.2 L508.3,304.2 L506.4,304.0 L504.6,303.5 L502.8,302.8 L501.2,301.9 L499.7,300.8 L498.4,299.5 L497.2,298.0 L496.3,296.5 L495.5,294.9 L494.8,293.2 L494.3,291.6 L493.8,289.9 L493.5,288.2 M520.3,262.3 L522.5,263.0 L524.8,263.9 L527.0,265.1 L529.0,266.4 L530.9,268.1 L532.6,270.0 L534.0,272.1 L535.1,274.3 L535.9,276.7 L536.4,279.2 L536.6,281.7 L536.4,284.2 L536.1,286.6 L535.4,288.9 L534.6,291.1 L533.7,293.3 L532.6,295.3 L531.5,297.3 L530.2,299.2 L528.9,301.1 L527.4,302.9 L525.8,304.6 L524.0,306.2 L522.1,307.7 M501.2,308.9 L499.2,307.6 L497.2,306.0 L495.5,304.3 L494.0,302.5 L492.6,300.7 L491.3,298.7 L490.2,296.7 L489.1,294.7 L488.2,292.6 L487.4,290.4 L486.7,288.2 L486.2,285.8 L485.8,283.4 L485.7,281.0 L485.9,278.5 L486.4,276.0 L487.2,273.6 L488.4,271.4 L489.8,269.3 L491.5,267.4 L493.4,265.8 L495.5,264.4 L497.7,263.3 L500.0,262.5 M540.0,288.4 L539.4,291.1 L538.7,293.8 L537.9,296.5 L536.9,299.2 L535.7,301.8 L534.3,304.3 L532.7,306.8 L530.8,309.1 L528.6,311.2 L526.1,313.0 L523.5,314.5 L520.6,315.7 L517.6,316.4 L514.6,316.7 L511.5,316.7 L508.5,316.2 L505.6,315.4 L502.8,314.3 L500.2,313.0 L497.8,311.5 L495.4,309.9 L493.3,308.1 L491.2,306.3 L489.2,304.3 M479.2,281.3 L479.6,278.2 L480.4,275.3 L481.6,272.4 L483.2,269.8 L485.1,267.4 L487.2,265.3 L489.5,263.4 L491.9,261.8 L494.5,260.4 L497.0,259.2 L499.7,258.1 L502.3,257.3 L505.0,256.5 L507.7,255.9 L510.5,255.5 L513.4,255.2 L516.3,255.1 L519.2,255.4 L522.2,255.9 L525.1,256.8 L527.9,258.0 L530.5,259.6 L532.9,261.5 L535.0,263.7" fill="none" stroke="#fbf6ec" stroke-width="1.5" stroke-linecap="round"/>
<path d="M360.5,302.0 L359.8,304.2 L358.8,306.2 L357.7,308.1 L356.6,309.8 L355.6,311.6 L354.8,313.5 L354.0,315.5 L353.1,317.7 L351.9,319.8 L350.3,321.6 L348.4,323.0 L346.1,323.9 L343.7,324.1 L341.3,323.7 L339.0,323.0 L336.9,322.2 L334.9,321.4 L332.9,320.7 L330.9,320.1 L328.9,319.5 L326.8,318.8 L324.8,317.7 L323.1,316.3 L321.7,314.6 L320.7,312.6 L320.0,310.5 L319.6,308.3 L319.3,306.2 L318.9,304.1 L318.5,302.0 L318.1,299.8 L317.8,297.5 L317.8,295.1 L318.2,292.7 L319.3,290.6 L320.8,288.8 L322.8,287.4 L325.0,286.4 L327.2,285.8 L329.3,285.3 L331.3,284.7 L333.1,283.9 L335.0,283.0 L336.9,281.9 L339.0,281.0 L341.3,280.4 L343.6,280.3 L345.9,280.8 L348.0,281.8 L349.9,283.2 L351.5,284.8 L352.9,286.5 L354.3,288.2 L355.6,289.9 L357.0,291.6 L358.4,293.4 L359.5,295.3 L360.4,297.5 L360.7,299.7 Z" fill="#d8bf93"/>
<path d="M337.4,305.4 L336.8,305.1 L336.2,304.7 L335.7,304.2 L335.3,303.5 L335.2,302.8 L335.2,302.1 L335.4,301.4 L335.6,300.7 L335.9,300.1 L336.3,299.6 L336.8,299.0 L337.3,298.6 L337.9,298.2 L338.7,298.1 L339.4,298.1 L340.1,298.3 L340.7,298.6 L341.3,299.1 L341.7,299.6 L342.1,300.2 L342.4,300.8 L342.6,301.4 L342.8,302.1 L342.8,302.8 M331.9,300.9 L332.2,299.6 L332.7,298.3 L333.3,297.0 L334.2,295.9 L335.4,295.0 L336.8,294.4 L338.2,294.2 L339.7,294.4 L341.0,294.8 L342.3,295.5 L343.4,296.3 L344.4,297.2 L345.3,298.2 L346.1,299.4 L346.6,300.7 L346.9,302.1 L346.8,303.6 L346.3,305.0 L345.5,306.2 L344.4,307.2 L343.2,308.0 L342.0,308.5 L340.7,309.0 L339.4,309.3 M337.7,290.6 L338.8,290.7 L339.9,290.8 L340.9,291.1 L341.9,291.4 L342.9,291.8 L343.9,292.2 L344.9,292.6 L345.8,293.1 L346.7,293.7 L347.6,294.4 L348.4,295.2 L349.1,296.0 L349.8,297.0 L350.3,298.0 L350.7,299.1 L351.0,300.2 L351.1,301.3 L351.0,302.5 L350.8,303.6 L350.5,304.7 L350.0,305.8 L349.5,306.7 L348.8,307.6 L348.1,308.5 M340.3,313.5 L339.2,313.8 L338.1,313.9 L336.9,313.8 L335.8,313.7 L334.7,313.3 L333.6,312.8 L332.6,312.2 L331.7,311.5 L331.0,310.6 L330.3,309.7 L329.7,308.8 L329.2,307.8 L328.9,306.7 L328.6,305.7 L328.3,304.7 L328.2,303.6 L328.0,302.6 L328.0,301.5 L327.9,300.5 L328.0,299.4 L328.2,298.3 L328.4,297.2 L328.8,296.1 L329.3,295.1 M354.1,295.9 L354.5,297.4 L354.8,298.9 L354.8,300.5 L354.6,302.0 L354.4,303.5 L353.9,304.9 L353.4,306.3 L352.8,307.6 L352.1,308.8 L351.4,310.0 L350.6,311.2 L349.7,312.3 L348.8,313.4 L347.8,314.5 L346.6,315.4 L345.4,316.3 L344.1,317.1 L342.6,317.6 L341.2,318.1 L339.6,318.3 L338.0,318.3 L336.5,318.1 L335.0,317.7 L333.6,317.1 M325.3,307.5 L324.7,306.2 L324.2,304.9 L323.9,303.5 L323.6,302.0 L323.4,300.5 L323.4,299.0 L323.6,297.4 L324.0,295.9 L324.5,294.5 L325.3,293.1 L326.2,291.9 L327.3,290.8 L328.6,289.8 L329.9,289.0 L331.3,288.4 L332.7,287.9 L334.1,287.6 L335.6,287.4 L337.0,287.3 L338.4,287.2 L339.9,287.3 L341.3,287.4 L342.7,287.6 L344.1,287.8 M350.8,317.3 L349.4,318.6 L347.8,319.6 L346.1,320.5 L344.3,321.1 L342.4,321.5 L340.6,321.6 L338.7,321.5 L336.8,321.1 L335.1,320.6 L333.4,319.9 L331.8,319.0 L330.3,318.0 L328.9,317.0 L327.6,315.9 L326.3,314.7 L325.1,313.5 L324.0,312.2 L322.9,310.8 L321.9,309.3 L321.0,307.7 L320.3,306.0 L319.8,304.2 L319.4,302.4 L319.3,300.5 M327.8,287.3 L329.3,286.5 L330.9,285.8 L332.6,285.2 L334.2,284.7 L335.9,284.3 L337.6,283.9 L339.3,283.7 L341.1,283.6 L342.9,283.6 L344.7,283.8 L346.5,284.2 L348.3,284.8 L350.0,285.6 L351.6,286.7 L353.0,287.9 L354.2,289.4 L355.3,291.0 L356.1,292.7 L356.7,294.4 L357.1,296.2 L357.3,298.1 L357.3,299.9 L357.2,301.6 L357.0,303.4" fill="none" stroke="#fbf6ec" stroke-width="1.5" stroke-linecap="round"/>
<path d="M432.0,371.0 L432.3,374.0 L431.8,376.9 L430.6,379.6 L428.7,382.0 L426.4,384.0 L424.1,385.6 L421.9,387.1 L419.9,388.6 L418.0,390.3 L416.2,392.2 L414.3,394.1 L412.1,395.8 L409.6,397.1 L406.8,397.9 L404.0,398.0 L401.2,397.5 L398.6,396.6 L396.1,395.5 L393.6,394.3 L391.3,393.1 L388.8,391.9 L386.3,390.6 L383.9,389.1 L381.8,387.2 L380.1,384.8 L379.0,382.1 L378.6,379.3 L378.8,376.4 L379.3,373.6 L380.0,371.0 L380.6,368.5 L381.0,366.1 L381.1,363.6 L381.2,360.8 L381.4,358.0 L382.0,355.0 L383.2,352.3 L385.1,350.0 L387.5,348.3 L390.2,347.1 L393.1,346.6 L396.0,346.3 L398.7,346.3 L401.4,346.2 L404.0,346.0 L406.6,345.8 L409.4,345.7 L412.1,346.0 L414.8,346.7 L417.3,348.0 L419.4,349.8 L421.1,352.0 L422.6,354.3 L423.8,356.6 L425.1,358.8 L426.5,361.0 L428.0,363.2 L429.6,365.6 L431.0,368.2 Z" fill="#d8bf93"/>
<path d="M407.7,374.1 L407.0,374.7 L406.2,375.1 L405.4,375.3 L404.5,375.4 L403.7,375.4 L402.9,375.4 L402.0,375.2 L401.2,374.8 L400.5,374.3 L399.9,373.6 L399.5,372.8 L399.3,371.9 L399.3,371.0 L399.5,370.2 L399.8,369.4 L400.2,368.6 L400.7,367.9 L401.3,367.3 L401.9,366.7 L402.7,366.3 L403.6,366.1 L404.6,366.1 L405.4,366.4 L406.2,366.8 M400.0,379.8 L398.3,379.0 L396.9,377.8 L395.9,376.3 L395.3,374.6 L395.0,372.9 L395.0,371.1 L395.2,369.5 L395.6,367.9 L396.2,366.3 L397.0,364.7 L398.2,363.3 L399.6,362.2 L401.3,361.5 L403.2,361.3 L404.9,361.6 L406.6,362.2 L408.1,363.0 L409.5,364.0 L410.7,365.1 L411.8,366.4 L412.8,367.8 L413.5,369.5 L413.8,371.3 L413.6,373.1 M390.3,368.8 L390.4,367.5 L390.6,366.1 L391.0,364.8 L391.5,363.5 L392.1,362.2 L392.9,361.0 L393.9,359.9 L395.0,359.0 L396.2,358.2 L397.5,357.6 L398.8,357.2 L400.2,356.9 L401.6,356.8 L403.0,356.9 L404.4,357.1 L405.7,357.3 L406.9,357.7 L408.2,358.1 L409.4,358.5 L410.6,359.1 L411.8,359.7 L412.9,360.3 L414.0,361.1 L415.1,362.0 M418.6,373.3 L418.1,374.7 L417.5,375.9 L416.8,377.1 L416.0,378.2 L415.1,379.2 L414.2,380.2 L413.2,381.0 L412.2,381.9 L411.1,382.6 L410.0,383.3 L408.9,384.0 L407.6,384.6 L406.4,385.1 L405.0,385.4 L403.6,385.6 L402.2,385.7 L400.8,385.6 L399.4,385.3 L398.0,384.8 L396.8,384.1 L395.6,383.3 L394.6,382.3 L393.7,381.2 L392.9,380.0 M401.9,352.7 L403.7,352.7 L405.4,352.8 L407.2,352.9 L408.9,353.2 L410.7,353.6 L412.4,354.1 L414.2,354.7 L415.9,355.5 L417.5,356.6 L418.9,357.8 L420.3,359.2 L421.4,360.7 L422.3,362.4 L423.0,364.3 L423.4,366.1 L423.6,368.0 L423.5,369.9 L423.2,371.8 L422.8,373.6 L422.2,375.3 L421.5,377.0 L420.7,378.6 L419.9,380.1 L418.9,381.6 M406.3,391.0 L404.3,391.2 L402.4,391.1 L400.5,390.8 L398.6,390.3 L396.9,389.5 L395.3,388.5 L393.8,387.3 L392.4,386.1 L391.2,384.7 L390.1,383.3 L389.1,381.8 L388.2,380.3 L387.4,378.7 L386.7,377.1 L386.1,375.5 L385.5,373.8 L385.1,372.0 L384.8,370.2 L384.7,368.3 L384.8,366.4 L385.1,364.5 L385.7,362.7 L386.5,361.0 L387.5,359.3 M426.0,362.1 L426.4,364.4 L426.7,366.6 L426.7,368.8 L426.5,371.0 L426.2,373.1 L425.8,375.2 L425.3,377.3 L424.7,379.4 L424.0,381.4 L423.1,383.4 L422.1,385.4 L420.9,387.2 L419.4,389.0 L417.8,390.7 L416.0,392.1 L414.0,393.3 L411.8,394.3 L409.6,394.9 L407.2,395.2 L404.9,395.2 L402.6,395.0 L400.4,394.4 L398.2,393.6 L396.2,392.7 M382.6,379.6 L381.6,377.6 L380.7,375.5 L380.1,373.3 L379.7,371.0 L379.6,368.7 L379.9,366.3 L380.5,364.0 L381.3,361.8 L382.5,359.8 L383.8,357.9 L385.4,356.3 L387.2,354.8 L389.0,353.5 L390.9,352.4 L392.9,351.4 L394.9,350.6 L396.9,349.9 L399.0,349.3 L401.0,348.8 L403.2,348.5 L405.3,348.2 L407.6,348.2 L409.8,348.3 L412.1,348.6" fill="none" stroke="#fbf6ec" stroke-width="1.5" stroke-linecap="round"/>
<path d="M534.9,370.0 L534.1,372.8 L533.1,375.6 L532.1,378.2 L531.2,380.8 L530.4,383.5 L529.6,386.4 L528.5,389.4 L527.0,392.2 L525.0,394.7 L522.3,396.6 L519.3,397.6 L516.1,397.9 L512.9,397.6 L509.8,396.8 L507.0,396.0 L504.3,395.4 L501.7,395.0 L499.0,394.8 L496.1,394.5 L493.1,394.1 L490.2,393.2 L487.5,391.7 L485.2,389.6 L483.5,387.1 L482.3,384.3 L481.4,381.4 L480.8,378.5 L480.2,375.7 L479.5,372.9 L478.9,370.0 L478.4,367.0 L478.3,363.9 L478.9,360.9 L480.1,358.0 L481.9,355.5 L484.3,353.5 L486.9,351.9 L489.6,350.6 L492.0,349.4 L494.3,348.1 L496.5,346.5 L498.8,344.7 L501.2,342.8 L504.0,341.2 L507.0,340.0 L510.2,339.7 L513.3,340.2 L516.3,341.5 L518.8,343.4 L521.1,345.6 L523.1,347.9 L524.9,350.1 L526.8,352.1 L528.8,354.2 L530.8,356.3 L532.6,358.6 L534.0,361.2 L534.9,364.1 L535.2,367.0 Z" fill="#d8bf93"/>
<path d="M502.5,372.7 L502.1,371.8 L501.9,370.9 L502.0,369.9 L502.2,369.0 L502.6,368.1 L503.0,367.4 L503.5,366.6 L504.1,365.9 L504.9,365.3 L505.8,364.9 L506.7,364.7 L507.7,364.8 L508.7,365.1 L509.5,365.6 L510.2,366.2 L510.7,367.0 L511.2,367.7 L511.6,368.5 L511.9,369.4 L512.1,370.3 L512.0,371.3 L511.8,372.3 L511.3,373.1 L510.6,373.8 M499.6,363.0 L500.9,361.6 L502.5,360.4 L504.4,359.8 L506.3,359.6 L508.3,359.9 L510.0,360.6 L511.6,361.5 L513.1,362.6 L514.4,363.8 L515.6,365.2 L516.6,366.8 L517.3,368.6 L517.5,370.6 L517.3,372.5 L516.5,374.4 L515.3,375.9 L513.9,377.2 L512.3,378.1 L510.7,378.9 L508.9,379.4 L507.2,379.8 L505.3,379.9 L503.4,379.7 L501.5,379.0 M513.9,357.0 L515.1,357.7 L516.4,358.4 L517.6,359.2 L518.7,360.1 L519.8,361.2 L520.8,362.3 L521.6,363.6 L522.3,365.0 L522.8,366.5 L523.0,368.0 L523.1,369.5 L523.0,371.1 L522.7,372.6 L522.2,374.0 L521.5,375.4 L520.7,376.6 L519.8,377.8 L518.9,378.9 L517.9,379.9 L516.8,380.8 L515.8,381.7 L514.6,382.5 L513.4,383.3 L512.2,384.0 M499.4,384.3 L498.2,383.4 L497.0,382.4 L496.0,381.2 L495.2,380.0 L494.4,378.7 L493.9,377.3 L493.4,376.0 L493.0,374.6 L492.7,373.2 L492.5,371.8 L492.3,370.4 L492.3,369.0 L492.3,367.6 L492.4,366.1 L492.6,364.7 L493.0,363.2 L493.5,361.8 L494.2,360.5 L495.1,359.2 L496.1,358.0 L497.3,357.0 L498.6,356.2 L500.0,355.6 L501.5,355.1 M526.7,374.3 L526.0,376.1 L525.2,377.9 L524.3,379.5 L523.2,381.1 L522.2,382.7 L521.0,384.2 L519.7,385.6 L518.3,387.0 L516.8,388.2 L515.1,389.3 L513.3,390.3 L511.4,391.0 L509.3,391.5 L507.3,391.7 L505.2,391.7 L503.1,391.3 L501.2,390.7 L499.3,389.9 L497.5,388.8 L495.9,387.5 L494.5,386.2 L493.2,384.7 L492.0,383.2 L491.0,381.6 M486.3,365.4 L486.6,363.4 L487.1,361.4 L488.0,359.5 L489.0,357.7 L490.4,356.1 L491.9,354.7 L493.5,353.5 L495.3,352.5 L497.2,351.7 L499.1,351.1 L501.0,350.7 L503.0,350.4 L504.9,350.3 L506.8,350.3 L508.6,350.4 L510.5,350.6 L512.4,350.8 L514.3,351.2 L516.2,351.8 L518.0,352.5 L519.8,353.4 L521.6,354.5 L523.1,355.8 L524.6,357.3 M508.4,396.1 L505.9,395.9 L503.5,395.3 L501.2,394.5 L499.0,393.5 L496.9,392.3 L494.9,391.0 L493.1,389.6 L491.3,388.1 L489.7,386.5 L488.1,384.9 L486.6,383.1 L485.2,381.2 L483.9,379.2 L482.8,377.0 L481.9,374.8 L481.2,372.4 L480.8,369.9 L480.8,367.4 L481.1,364.8 L481.7,362.4 L482.6,360.0 L483.9,357.9 L485.4,355.8 L487.1,354.0 M505.7,345.8 L508.0,345.5 L510.4,345.4 L512.8,345.5 L515.3,345.8 L517.7,346.4 L520.0,347.3 L522.2,348.5 L524.3,350.0 L526.1,351.7 L527.7,353.7 L529.0,355.9 L530.0,358.2 L530.7,360.5 L531.2,363.0 L531.4,365.4 L531.4,367.8 L531.2,370.1 L530.9,372.4 L530.5,374.7 L529.9,376.9 L529.3,379.1 L528.5,381.3 L527.5,383.4 L526.4,385.6" fill="none" stroke="#fbf6ec" stroke-width="1.5" stroke-linecap="round"/>
<path d="M595.0,312.0 L595.0,313.4 L594.6,314.7 L593.9,315.9 L592.9,316.9 L591.9,317.7 L591.0,318.5 L590.1,319.3 L589.3,320.1 L588.5,321.0 L587.8,322.0 L586.9,322.9 L585.8,323.8 L584.6,324.3 L583.3,324.6 L582.0,324.6 L580.7,324.3 L579.5,323.8 L578.3,323.3 L577.2,322.7 L576.1,322.2 L575.0,321.7 L573.8,321.1 L572.8,320.3 L571.8,319.4 L571.2,318.3 L570.7,317.0 L570.6,315.7 L570.7,314.4 L570.9,313.2 L571.0,312.0 L571.1,310.9 L571.1,309.7 L571.0,308.4 L571.0,307.1 L571.1,305.7 L571.5,304.4 L572.2,303.2 L573.2,302.3 L574.4,301.6 L575.8,301.2 L577.1,301.0 L578.4,300.9 L579.6,300.9 L580.8,300.8 L582.0,300.6 L583.2,300.4 L584.5,300.3 L585.8,300.5 L587.0,300.8 L588.1,301.4 L589.1,302.3 L589.9,303.2 L590.6,304.3 L591.3,305.3 L591.9,306.3 L592.7,307.2 L593.4,308.3 L594.2,309.4 L594.7,310.7 Z" fill="#d8bf93"/>
<path d="M583.2,313.8 L582.8,314.0 L582.4,314.0 L582.0,314.1 L581.6,314.0 L581.2,314.0 L580.9,313.8 L580.5,313.6 L580.2,313.4 L580.0,313.0 L579.8,312.6 L579.8,312.2 L579.9,311.8 L580.0,311.4 L580.2,311.0 L580.4,310.7 L580.6,310.4 L580.9,310.1 L581.3,309.9 L581.7,309.8 L582.1,309.7 L582.5,309.8 L582.9,310.0 L583.2,310.2 L583.5,310.5 M579.0,315.4 L578.4,314.7 L578.1,314.0 L577.9,313.2 L577.8,312.4 L577.9,311.6 L578.1,310.9 L578.3,310.1 L578.6,309.4 L579.1,308.7 L579.7,308.1 L580.4,307.7 L581.3,307.6 L582.1,307.6 L582.9,307.8 L583.6,308.1 L584.3,308.6 L584.9,309.1 L585.4,309.6 L585.9,310.3 L586.3,311.0 L586.5,311.8 L586.5,312.6 L586.3,313.5 L585.9,314.2 M576.0,309.0 L576.2,308.4 L576.6,307.9 L576.9,307.3 L577.4,306.8 L577.9,306.4 L578.5,306.1 L579.1,305.8 L579.7,305.6 L580.3,305.5 L581.0,305.5 L581.6,305.5 L582.2,305.6 L582.8,305.7 L583.4,305.9 L584.0,306.1 L584.6,306.3 L585.1,306.5 L585.6,306.8 L586.2,307.1 L586.7,307.5 L587.2,307.9 L587.6,308.4 L588.0,308.9 L588.4,309.4 M587.9,314.9 L587.5,315.4 L587.1,315.9 L586.6,316.3 L586.2,316.7 L585.7,317.1 L585.2,317.4 L584.7,317.7 L584.2,318.0 L583.6,318.3 L583.0,318.5 L582.4,318.7 L581.7,318.8 L581.1,318.8 L580.4,318.7 L579.8,318.6 L579.2,318.3 L578.6,318.0 L578.1,317.6 L577.6,317.2 L577.2,316.6 L576.8,316.1 L576.5,315.5 L576.3,315.0 L576.1,314.4 M583.6,303.7 L584.4,303.8 L585.2,304.0 L586.0,304.2 L586.8,304.5 L587.6,304.9 L588.3,305.4 L589.0,306.0 L589.6,306.6 L590.1,307.4 L590.5,308.2 L590.8,309.0 L591.0,309.9 L591.0,310.8 L591.0,311.6 L590.9,312.5 L590.6,313.3 L590.4,314.1 L590.0,314.9 L589.7,315.6 L589.3,316.3 L588.8,317.0 L588.3,317.6 L587.8,318.3 L587.3,318.9 M580.3,321.1 L579.4,320.8 L578.6,320.5 L577.9,320.0 L577.2,319.5 L576.6,318.9 L576.0,318.2 L575.5,317.6 L575.1,316.9 L574.7,316.2 L574.3,315.5 L574.0,314.7 L573.7,314.0 L573.4,313.2 L573.2,312.4 L573.1,311.5 L573.1,310.7 L573.1,309.8 L573.3,308.9 L573.6,308.1 L574.0,307.3 L574.5,306.5 L575.1,305.8 L575.7,305.3 L576.5,304.8 M592.5,311.1 L592.4,312.1 L592.2,313.1 L592.0,314.1 L591.8,315.0 L591.5,316.0 L591.2,316.9 L590.8,317.8 L590.3,318.7 L589.7,319.6 L589.0,320.4 L588.3,321.2 L587.4,321.8 L586.5,322.4 L585.5,322.8 L584.4,323.1 L583.4,323.2 L582.3,323.2 L581.2,323.0 L580.2,322.8 L579.2,322.4 L578.3,321.9 L577.4,321.4 L576.6,320.8 L575.8,320.2 M570.9,312.9 L570.8,311.9 L570.8,310.8 L570.9,309.7 L571.2,308.7 L571.6,307.6 L572.1,306.7 L572.8,305.9 L573.5,305.1 L574.3,304.4 L575.2,303.8 L576.1,303.3 L577.0,302.9 L577.9,302.5 L578.8,302.2 L579.8,302.0 L580.8,301.7 L581.7,301.6 L582.7,301.5 L583.8,301.5 L584.8,301.5 L585.9,301.7 L586.9,302.0 L587.9,302.4 L588.8,303.0" fill="none" stroke="#fbf6ec" stroke-width="1.5" stroke-linecap="round"/>
<path d="M314.8,330.0 L314.4,331.5 L313.7,332.9 L312.8,334.2 L311.9,335.3 L311.0,336.4 L310.2,337.4 L309.6,338.6 L308.9,339.9 L308.2,341.2 L307.2,342.5 L306.1,343.7 L304.7,344.5 L303.2,344.9 L301.6,344.9 L300.0,344.5 L298.5,344.0 L297.2,343.4 L295.8,342.8 L294.5,342.3 L293.2,341.8 L291.9,341.2 L290.6,340.5 L289.4,339.5 L288.4,338.4 L287.7,337.1 L287.3,335.6 L287.1,334.2 L287.0,332.8 L287.0,331.4 L286.8,330.0 L286.6,328.6 L286.3,327.1 L286.2,325.5 L286.3,323.9 L286.8,322.4 L287.6,321.0 L288.7,319.9 L290.2,319.1 L291.7,318.6 L293.2,318.3 L294.7,318.1 L296.0,317.8 L297.3,317.5 L298.6,317.0 L300.0,316.5 L301.5,316.2 L303.0,316.0 L304.5,316.2 L305.9,316.7 L307.2,317.5 L308.3,318.5 L309.3,319.7 L310.2,320.8 L311.1,321.9 L312.0,323.1 L312.9,324.3 L313.7,325.5 L314.4,326.9 L314.8,328.4 Z" fill="#d8bf93"/>
<path d="M299.9,332.4 L299.5,332.4 L299.0,332.3 L298.6,332.1 L298.2,331.9 L297.8,331.5 L297.6,331.1 L297.5,330.6 L297.5,330.1 L297.6,329.6 L297.7,329.2 L297.9,328.8 L298.2,328.4 L298.5,328.1 L298.8,327.8 L299.2,327.5 L299.7,327.4 L300.2,327.4 L300.7,327.5 L301.1,327.7 L301.5,328.0 L301.8,328.4 L302.0,328.7 L302.2,329.1 L302.4,329.6 M295.2,331.2 L295.2,330.3 L295.3,329.4 L295.4,328.5 L295.7,327.6 L296.1,326.8 L296.7,326.0 L297.5,325.4 L298.4,325.0 L299.3,324.8 L300.3,324.9 L301.2,325.2 L302.1,325.6 L302.8,326.1 L303.5,326.7 L304.1,327.4 L304.6,328.1 L305.0,329.0 L305.2,330.0 L305.2,330.9 L304.9,331.9 L304.4,332.7 L303.7,333.4 L302.9,333.9 L302.1,334.3 M296.1,323.0 L296.8,322.7 L297.5,322.5 L298.3,322.4 L299.0,322.4 L299.7,322.4 L300.5,322.5 L301.2,322.7 L301.8,322.9 L302.5,323.1 L303.2,323.4 L303.8,323.7 L304.4,324.0 L305.0,324.4 L305.6,324.9 L306.2,325.4 L306.7,325.9 L307.1,326.5 L307.5,327.2 L307.8,327.9 L308.0,328.7 L308.1,329.4 L308.0,330.2 L307.9,331.0 L307.7,331.7 M303.6,336.4 L303.0,336.8 L302.4,337.1 L301.7,337.4 L301.0,337.7 L300.3,337.8 L299.5,337.9 L298.7,337.9 L298.0,337.8 L297.2,337.6 L296.5,337.3 L295.9,336.9 L295.3,336.4 L294.7,335.9 L294.3,335.3 L293.9,334.6 L293.5,334.0 L293.3,333.3 L293.1,332.6 L292.9,331.9 L292.8,331.2 L292.7,330.5 L292.6,329.8 L292.6,329.1 L292.7,328.4 M307.6,322.5 L308.3,323.2 L309.0,324.0 L309.6,324.8 L310.0,325.8 L310.3,326.8 L310.5,327.8 L310.5,328.8 L310.5,329.8 L310.3,330.8 L310.0,331.8 L309.7,332.7 L309.3,333.6 L308.8,334.4 L308.3,335.2 L307.8,336.0 L307.3,336.8 L306.6,337.5 L306.0,338.2 L305.2,338.8 L304.4,339.4 L303.5,340.0 L302.6,340.4 L301.6,340.7 L300.6,340.8 M292.9,337.1 L292.3,336.3 L291.8,335.5 L291.3,334.7 L290.9,333.8 L290.5,333.0 L290.2,332.1 L289.9,331.1 L289.7,330.2 L289.6,329.2 L289.6,328.2 L289.7,327.1 L289.9,326.1 L290.3,325.2 L290.8,324.2 L291.4,323.4 L292.1,322.6 L292.9,322.0 L293.8,321.4 L294.7,321.0 L295.6,320.7 L296.6,320.4 L297.6,320.3 L298.5,320.2 L299.5,320.1 M310.6,336.0 L310.1,337.1 L309.5,338.1 L308.8,339.1 L308.0,340.1 L307.1,340.9 L306.1,341.7 L304.9,342.2 L303.7,342.7 L302.5,343.0 L301.3,343.1 L300.0,343.0 L298.8,342.8 L297.6,342.5 L296.5,342.0 L295.4,341.4 L294.4,340.8 L293.4,340.1 L292.5,339.4 L291.7,338.6 L290.9,337.8 L290.1,336.9 L289.4,336.0 L288.7,335.0 L288.1,334.0 M288.7,323.6 L289.5,322.6 L290.4,321.7 L291.3,321.0 L292.3,320.3 L293.4,319.8 L294.4,319.3 L295.5,318.9 L296.6,318.5 L297.7,318.2 L298.8,318.0 L300.0,317.8 L301.2,317.7 L302.4,317.7 L303.6,317.8 L304.8,318.1 L306.0,318.4 L307.1,319.0 L308.2,319.7 L309.2,320.5 L310.0,321.4 L310.7,322.5 L311.3,323.6 L311.7,324.8 L312.0,326.0" fill="none" stroke="#fbf6ec" stroke-width="1.5" stroke-linecap="round"/>
<path d="M610.3,330.0 L610.6,331.1 L610.7,332.3 L610.4,333.4 L609.9,334.4 L609.1,335.3 L608.2,336.0 L607.3,336.6 L606.4,337.1 L605.5,337.6 L604.7,338.1 L603.9,338.7 L603.0,339.3 L602.1,339.8 L601.1,340.1 L600.0,340.2 L598.9,340.1 L597.9,339.8 L597.0,339.3 L596.1,338.8 L595.2,338.3 L594.3,337.8 L593.4,337.4 L592.4,336.8 L591.5,336.2 L590.7,335.4 L590.1,334.4 L589.7,333.3 L589.7,332.2 L589.9,331.1 L590.3,330.0 L590.7,329.0 L591.1,328.1 L591.4,327.2 L591.6,326.3 L591.8,325.3 L592.1,324.2 L592.4,323.2 L593.0,322.2 L593.8,321.4 L594.7,320.8 L595.7,320.5 L596.8,320.3 L597.9,320.2 L599.0,320.2 L600.0,320.2 L601.0,320.2 L602.1,320.2 L603.2,320.3 L604.2,320.5 L605.2,321.0 L606.1,321.6 L606.8,322.5 L607.3,323.4 L607.7,324.4 L608.0,325.4 L608.3,326.3 L608.8,327.2 L609.3,328.0 L609.8,329.0 Z" fill="#d8bf93"/>
<path d="M601.8,330.4 L601.7,330.7 L601.6,331.0 L601.4,331.3 L601.1,331.5 L600.7,331.6 L600.4,331.7 L600.1,331.7 L599.8,331.7 L599.5,331.7 L599.1,331.6 L598.8,331.4 L598.6,331.2 L598.3,330.9 L598.2,330.6 L598.2,330.2 L598.2,329.9 L598.3,329.6 L598.4,329.3 L598.6,329.0 L598.8,328.7 L599.0,328.5 L599.3,328.3 L599.6,328.2 L600.0,328.1 M600.2,333.5 L599.6,333.5 L598.9,333.5 L598.2,333.3 L597.6,332.9 L597.1,332.4 L596.8,331.8 L596.6,331.2 L596.5,330.5 L596.6,329.8 L596.7,329.2 L596.8,328.6 L597.1,328.0 L597.5,327.4 L597.9,326.9 L598.5,326.5 L599.2,326.3 L599.9,326.3 L600.6,326.4 L601.2,326.7 L601.8,327.0 L602.3,327.4 L602.7,327.9 L603.1,328.4 L603.5,329.0 M595.0,331.8 L594.9,331.3 L594.8,330.8 L594.8,330.3 L594.7,329.8 L594.7,329.3 L594.8,328.8 L594.8,328.2 L595.0,327.7 L595.1,327.2 L595.4,326.7 L595.7,326.3 L596.0,325.8 L596.4,325.5 L596.9,325.1 L597.4,324.9 L597.9,324.7 L598.4,324.6 L599.0,324.6 L599.5,324.6 L600.0,324.6 L600.5,324.7 L601.0,324.8 L601.5,325.0 L602.0,325.2 M605.4,328.1 L605.6,328.6 L605.7,329.1 L605.8,329.7 L605.7,330.2 L605.6,330.8 L605.5,331.3 L605.2,331.8 L605.0,332.3 L604.7,332.7 L604.3,333.1 L604.0,333.4 L603.6,333.8 L603.2,334.1 L602.8,334.4 L602.4,334.7 L602.0,334.9 L601.5,335.2 L601.0,335.4 L600.5,335.5 L600.0,335.6 L599.4,335.7 L598.9,335.6 L598.3,335.5 L597.8,335.3 M595.7,323.8 L596.3,323.5 L597.0,323.3 L597.7,323.1 L598.4,323.0 L599.1,323.0 L599.7,323.0 L600.4,323.0 L601.1,323.0 L601.8,323.1 L602.4,323.3 L603.1,323.4 L603.8,323.7 L604.4,324.0 L605.0,324.4 L605.6,324.8 L606.1,325.3 L606.6,325.9 L607.0,326.6 L607.2,327.3 L607.4,328.0 L607.5,328.7 L607.5,329.4 L607.4,330.2 L607.3,330.9 M604.2,335.9 L603.6,336.4 L603.0,336.8 L602.4,337.2 L601.7,337.5 L601.0,337.6 L600.3,337.8 L599.5,337.8 L598.8,337.7 L598.1,337.5 L597.4,337.2 L596.8,336.8 L596.2,336.4 L595.7,335.9 L595.2,335.4 L594.8,334.8 L594.4,334.3 L594.0,333.7 L593.7,333.1 L593.4,332.5 L593.1,331.9 L592.9,331.2 L592.8,330.5 L592.6,329.8 L592.6,329.1 M606.0,322.7 L606.7,323.3 L607.3,324.0 L607.7,324.7 L608.1,325.6 L608.4,326.4 L608.6,327.3 L608.7,328.1 L608.7,329.0 L608.7,329.8 L608.6,330.6 L608.4,331.5 L608.2,332.3 L608.0,333.0 L607.8,333.8 L607.4,334.6 L607.0,335.4 L606.6,336.1 L606.1,336.8 L605.5,337.4 L604.8,338.0 L604.0,338.5 L603.2,338.9 L602.3,339.2 L601.4,339.3 M594.6,336.6 L594.0,336.1 L593.4,335.5 L592.8,334.8 L592.3,334.2 L591.9,333.5 L591.5,332.7 L591.1,331.9 L590.8,331.1 L590.7,330.2 L590.6,329.3 L590.7,328.4 L590.9,327.5 L591.2,326.7 L591.6,325.9 L592.1,325.1 L592.7,324.5 L593.4,323.9 L594.1,323.4 L594.8,322.9 L595.6,322.6 L596.3,322.2 L597.1,321.9 L597.9,321.7 L598.7,321.5" fill="none" stroke="#fbf6ec" stroke-width="1.5" stroke-linecap="round"/>
<path d="M374.8,333.2 L374.5,333.7 L374.1,334.1 L373.7,334.4 L373.2,334.6 L372.6,334.7 L372.1,334.7 L371.6,334.7 L371.1,334.7 L370.6,334.5 L370.1,334.3 L369.7,333.9 L369.3,333.4 L369.1,332.9 L369.1,332.3 L369.2,331.8 L369.3,331.3 L369.5,330.8 L369.8,330.4 L370.1,330.0 L370.5,329.6 L370.9,329.3 L371.4,329.1 L372.0,329.0 L372.6,329.1 M371.3,337.7 L370.2,337.6 L369.1,337.2 L368.1,336.7 L367.4,335.8 L366.8,334.9 L366.5,333.8 L366.5,332.7 L366.5,331.7 L366.7,330.7 L367.0,329.7 L367.4,328.7 L368.0,327.8 L368.8,327.0 L369.7,326.4 L370.8,326.1 L371.9,326.1 L373.0,326.3 L374.0,326.7 L374.9,327.3 L375.7,327.9 L376.4,328.7 L377.1,329.5 L377.6,330.4 L377.9,331.5 M363.7,333.2 L363.6,332.4 L363.6,331.6 L363.6,330.8 L363.6,329.9 L363.8,329.1 L364.0,328.3 L364.2,327.5 L364.6,326.7 L365.1,325.9 L365.7,325.3 L366.3,324.7 L367.1,324.2 L367.9,323.8 L368.7,323.5 L369.6,323.4 L370.4,323.3 L371.3,323.3 L372.1,323.4 L372.9,323.6 L373.7,323.8 L374.5,324.0 L375.2,324.3 L376.0,324.6 L376.7,325.0 M381.1,330.7 L381.2,331.6 L381.2,332.5 L381.0,333.3 L380.7,334.1 L380.4,334.9 L379.9,335.7 L379.4,336.3 L378.9,337.0 L378.3,337.6 L377.7,338.1 L377.1,338.6 L376.5,339.1 L375.8,339.5 L375.1,339.9 L374.3,340.3 L373.6,340.6 L372.7,340.8 L371.9,341.0 L371.0,341.0 L370.1,341.0 L369.3,340.8 L368.4,340.5 L367.6,340.1 L366.9,339.6 M367.3,321.3 L368.4,321.0 L369.5,320.8 L370.6,320.8 L371.7,320.7 L372.8,320.8 L373.8,320.9 L374.9,321.0 L376.0,321.2 L377.1,321.5 L378.1,321.9 L379.2,322.4 L380.2,323.0 L381.1,323.8 L381.9,324.6 L382.6,325.6 L383.2,326.6 L383.6,327.7 L383.9,328.9 L384.0,330.0 L384.0,331.2 L383.9,332.3 L383.6,333.5 L383.3,334.5 L382.8,335.6 M376.8,343.0 L375.8,343.5 L374.7,344.0 L373.5,344.3 L372.4,344.4 L371.2,344.4 L370.0,344.2 L368.9,343.9 L367.8,343.4 L366.8,342.8 L365.8,342.2 L365.0,341.4 L364.2,340.6 L363.5,339.7 L362.9,338.8 L362.4,337.8 L361.9,336.9 L361.4,335.9 L361.0,334.9 L360.7,333.9 L360.4,332.8 L360.2,331.7 L360.1,330.5 L360.2,329.3 L360.3,328.2 M383.7,322.5 L384.5,323.7 L385.1,325.0 L385.5,326.4 L385.8,327.7 L385.9,329.1 L386.0,330.5 L385.9,331.8 L385.7,333.1 L385.5,334.4 L385.2,335.7 L384.8,337.0 L384.4,338.2 L383.8,339.5 L383.2,340.7 L382.5,341.9 L381.6,343.0 L380.6,344.0 L379.5,344.9 L378.3,345.7 L377.0,346.3 L375.6,346.7 L374.2,346.9 L372.7,346.9 L371.3,346.8 M361.4,340.7 L360.5,339.7 L359.7,338.6 L358.9,337.5 L358.3,336.2 L357.7,335.0 L357.3,333.6 L357.1,332.2 L357.0,330.7 L357.1,329.3 L357.5,327.9 L358.0,326.5 L358.6,325.3 L359.5,324.1 L360.4,323.1 L361.5,322.1 L362.6,321.3 L363.8,320.6 L365.0,320.0 L366.2,319.5 L367.5,319.1 L368.7,318.7 L370.0,318.4 L371.3,318.2 L372.6,318.0" fill="none" stroke="#dccbab" stroke-width="1.1" stroke-linecap="round"/>
<path d="M319.0,301.9 L318.6,302.0 L318.2,302.0 L317.8,302.0 L317.4,302.0 L317.0,301.9 L316.7,301.7 L316.3,301.5 L316.1,301.2 L315.9,300.8 L315.8,300.4 L315.8,300.0 L315.9,299.6 L316.1,299.2 L316.3,298.9 L316.5,298.6 L316.8,298.3 L317.1,298.0 L317.5,297.8 L317.9,297.7 L318.3,297.8 L318.7,297.9 L319.1,298.1 L319.4,298.4 L319.6,298.7 M314.7,303.1 L314.2,302.3 L313.9,301.6 L313.8,300.8 L313.9,300.0 L314.0,299.2 L314.2,298.5 L314.4,297.7 L314.8,297.0 L315.4,296.4 L316.1,295.9 L316.9,295.6 L317.7,295.5 L318.5,295.7 L319.3,296.0 L320.0,296.4 L320.6,296.8 L321.2,297.4 L321.7,298.0 L322.1,298.6 L322.4,299.4 L322.5,300.2 L322.4,301.1 L322.1,301.9 L321.6,302.5 M312.3,296.4 L312.6,295.8 L313.0,295.3 L313.4,294.8 L313.9,294.4 L314.5,294.1 L315.1,293.8 L315.7,293.6 L316.4,293.5 L317.0,293.5 L317.6,293.5 L318.3,293.6 L318.9,293.7 L319.5,293.9 L320.0,294.1 L320.6,294.3 L321.1,294.5 L321.7,294.8 L322.2,295.1 L322.7,295.5 L323.2,295.9 L323.6,296.4 L324.0,296.9 L324.4,297.5 L324.6,298.1 M323.5,303.4 L323.0,303.9 L322.6,304.3 L322.2,304.7 L321.7,305.1 L321.2,305.4 L320.7,305.7 L320.1,306.0 L319.6,306.3 L319.0,306.5 L318.4,306.7 L317.7,306.8 L317.1,306.8 L316.4,306.7 L315.8,306.6 L315.1,306.3 L314.6,306.0 L314.0,305.6 L313.6,305.1 L313.2,304.6 L312.8,304.1 L312.5,303.5 L312.3,302.9 L312.1,302.3 L312.0,301.8 M320.4,291.8 L321.2,292.0 L322.0,292.2 L322.8,292.5 L323.6,292.9 L324.3,293.4 L325.0,294.0 L325.6,294.7 L326.1,295.4 L326.5,296.2 L326.8,297.0 L327.0,297.9 L327.0,298.8 L327.0,299.7 L326.8,300.5 L326.6,301.3 L326.4,302.1 L326.0,302.9 L325.7,303.6 L325.2,304.3 L324.8,305.0 L324.3,305.7 L323.8,306.3 L323.2,306.9 L322.6,307.5 M315.4,308.8 L314.6,308.5 L313.8,308.0 L313.2,307.4 L312.6,306.9 L312.0,306.2 L311.5,305.6 L311.1,304.9 L310.7,304.2 L310.3,303.4 L310.0,302.7 L309.7,301.9 L309.4,301.1 L309.2,300.3 L309.1,299.5 L309.1,298.6 L309.2,297.7 L309.3,296.9 L309.6,296.0 L310.0,295.2 L310.5,294.5 L311.1,293.8 L311.8,293.2 L312.5,292.8 L313.3,292.4 M328.4,300.2 L328.2,301.2 L328.0,302.1 L327.8,303.1 L327.5,304.0 L327.2,305.0 L326.7,305.9 L326.3,306.8 L325.7,307.6 L325.0,308.5 L324.2,309.2 L323.4,309.9 L322.4,310.4 L321.4,310.8 L320.4,311.1 L319.3,311.2 L318.2,311.2 L317.2,311.0 L316.1,310.7 L315.2,310.4 L314.2,309.9 L313.4,309.4 L312.5,308.8 L311.8,308.2 L311.0,307.5 M306.8,299.8 L306.8,298.7 L306.9,297.7 L307.2,296.6 L307.6,295.6 L308.2,294.7 L308.8,293.8 L309.6,293.1 L310.4,292.4 L311.2,291.8 L312.1,291.3 L313.0,290.9 L314.0,290.5 L314.9,290.2 L315.8,290.0 L316.8,289.7 L317.8,289.6 L318.8,289.5 L319.8,289.5 L320.9,289.5 L321.9,289.7 L322.9,290.0 L323.9,290.4 L324.8,291.0 L325.7,291.7" fill="none" stroke="#dccbab" stroke-width="1.1" stroke-linecap="round"/>
<path d="M512.7,331.8 L512.4,331.5 L512.1,331.2 L511.9,330.8 L511.8,330.4 L511.8,330.0 L511.9,329.6 L512.1,329.3 L512.3,328.9 L512.5,328.6 L512.7,328.3 L513.1,328.0 L513.4,327.8 L513.8,327.7 L514.3,327.8 L514.7,327.9 L515.0,328.1 L515.3,328.4 L515.6,328.7 L515.8,329.0 L516.0,329.3 L516.1,329.7 L516.2,330.1 L516.2,330.5 L516.1,330.9 M510.1,328.6 L510.4,327.8 L510.8,327.1 L511.3,326.5 L512.0,326.0 L512.8,325.6 L513.6,325.5 L514.4,325.6 L515.2,325.9 L515.9,326.3 L516.5,326.8 L517.1,327.3 L517.6,327.9 L518.1,328.5 L518.4,329.3 L518.5,330.1 L518.4,331.0 L518.1,331.8 L517.6,332.5 L517.0,333.0 L516.4,333.4 L515.7,333.8 L514.9,334.0 L514.2,334.2 L513.4,334.2 M514.6,323.6 L515.2,323.8 L515.7,324.0 L516.3,324.2 L516.9,324.4 L517.4,324.7 L517.9,325.0 L518.4,325.3 L518.9,325.7 L519.4,326.1 L519.8,326.6 L520.2,327.2 L520.5,327.8 L520.7,328.4 L520.9,329.0 L520.9,329.7 L520.9,330.3 L520.7,331.0 L520.5,331.6 L520.3,332.2 L519.9,332.8 L519.6,333.3 L519.2,333.7 L518.7,334.2 L518.3,334.6 M513.4,336.8 L512.7,336.8 L512.1,336.6 L511.5,336.4 L510.9,336.2 L510.3,335.8 L509.8,335.4 L509.4,334.9 L509.0,334.4 L508.7,333.8 L508.4,333.2 L508.2,332.7 L508.0,332.1 L507.9,331.5 L507.8,330.9 L507.7,330.3 L507.7,329.7 L507.7,329.1 L507.7,328.5 L507.8,327.8 L508.0,327.2 L508.2,326.6 L508.5,326.0 L508.8,325.5 L509.3,325.0 M523.0,328.3 L523.0,329.2 L522.9,330.1 L522.8,330.9 L522.5,331.7 L522.2,332.5 L521.9,333.2 L521.5,334.0 L521.0,334.6 L520.6,335.3 L520.1,336.0 L519.5,336.6 L518.9,337.2 L518.3,337.7 L517.6,338.2 L516.8,338.6 L516.0,339.0 L515.2,339.2 L514.3,339.3 L513.4,339.3 L512.5,339.2 L511.6,338.9 L510.8,338.6 L510.1,338.1 L509.4,337.6 M505.5,331.6 L505.3,330.8 L505.2,329.9 L505.1,329.1 L505.1,328.2 L505.2,327.3 L505.4,326.5 L505.8,325.6 L506.2,324.9 L506.8,324.2 L507.4,323.5 L508.1,323.0 L508.9,322.6 L509.7,322.2 L510.5,321.9 L511.3,321.8 L512.1,321.6 L512.9,321.6 L513.8,321.6 L514.6,321.6 L515.4,321.6 L516.2,321.8 L517.0,321.9 L517.8,322.1 L518.6,322.4 M518.9,340.1 L518.0,340.6 L516.9,341.0 L515.9,341.1 L514.8,341.2 L513.7,341.1 L512.7,340.9 L511.7,340.6 L510.7,340.2 L509.8,339.7 L509.0,339.1 L508.2,338.5 L507.4,337.9 L506.7,337.2 L506.0,336.5 L505.4,335.7 L504.8,334.9 L504.2,334.1 L503.7,333.2 L503.3,332.2 L503.0,331.2 L502.8,330.1 L502.8,329.1 L502.9,328.0 L503.1,326.9 M509.5,320.7 L510.4,320.4 L511.3,320.1 L512.3,319.8 L513.3,319.7 L514.3,319.5 L515.3,319.5 L516.3,319.5 L517.4,319.6 L518.4,319.8 L519.4,320.2 L520.4,320.7 L521.3,321.3 L522.1,322.0 L522.8,322.9 L523.3,323.8 L523.8,324.8 L524.1,325.8 L524.3,326.8 L524.4,327.8 L524.5,328.9 L524.4,329.9 L524.3,330.9 L524.1,331.8 L523.9,332.8" fill="none" stroke="#dccbab" stroke-width="1.1" stroke-linecap="round"/>
<path d="M546.1,335.4 L545.8,335.6 L545.5,335.7 L545.2,335.7 L544.9,335.7 L544.5,335.7 L544.2,335.6 L543.9,335.5 L543.6,335.3 L543.4,335.0 L543.2,334.7 L543.2,334.3 L543.2,334.0 L543.3,333.7 L543.4,333.4 L543.6,333.1 L543.7,332.8 L544.0,332.6 L544.2,332.3 L544.5,332.2 L544.9,332.1 L545.2,332.1 L545.6,332.2 L545.9,332.4 L546.1,332.6 M542.8,337.1 L542.3,336.6 L541.9,336.0 L541.6,335.3 L541.5,334.7 L541.6,334.0 L541.6,333.4 L541.8,332.8 L542.0,332.1 L542.3,331.5 L542.8,331.0 L543.4,330.6 L544.0,330.4 L544.7,330.3 L545.4,330.4 L546.0,330.6 L546.6,330.9 L547.1,331.3 L547.6,331.8 L548.0,332.3 L548.4,332.8 L548.7,333.5 L548.8,334.2 L548.7,334.9 L548.4,335.5 M539.9,332.1 L540.0,331.6 L540.2,331.1 L540.5,330.6 L540.8,330.1 L541.1,329.7 L541.6,329.4 L542.0,329.1 L542.5,328.8 L543.1,328.7 L543.6,328.6 L544.1,328.6 L544.7,328.6 L545.2,328.6 L545.7,328.7 L546.2,328.9 L546.6,329.0 L547.1,329.2 L547.6,329.4 L548.0,329.7 L548.5,329.9 L548.9,330.2 L549.3,330.6 L549.7,331.0 L550.0,331.4 M550.2,335.9 L549.9,336.4 L549.6,336.8 L549.2,337.2 L548.9,337.6 L548.5,337.9 L548.1,338.2 L547.7,338.5 L547.3,338.8 L546.8,339.0 L546.4,339.2 L545.9,339.4 L545.3,339.6 L544.8,339.6 L544.3,339.7 L543.7,339.6 L543.2,339.5 L542.7,339.3 L542.2,339.0 L541.7,338.7 L541.3,338.3 L541.0,337.9 L540.7,337.4 L540.5,337.0 L540.3,336.5 M545.6,327.0 L546.3,327.1 L547.0,327.2 L547.6,327.3 L548.3,327.5 L549.0,327.8 L549.6,328.1 L550.2,328.5 L550.8,329.0 L551.3,329.5 L551.7,330.1 L552.1,330.8 L552.3,331.5 L552.5,332.2 L552.5,332.9 L552.5,333.7 L552.4,334.4 L552.2,335.1 L552.0,335.7 L551.7,336.4 L551.4,337.0 L551.1,337.6 L550.7,338.1 L550.3,338.7 L549.9,339.2 M544.3,341.7 L543.6,341.6 L542.9,341.4 L542.2,341.1 L541.6,340.7 L541.0,340.2 L540.5,339.8 L540.0,339.2 L539.6,338.7 L539.3,338.1 L538.9,337.5 L538.6,336.9 L538.3,336.3 L538.1,335.7 L537.9,335.0 L537.7,334.3 L537.6,333.6 L537.6,332.9 L537.6,332.2 L537.8,331.5 L538.0,330.7 L538.3,330.1 L538.7,329.5 L539.2,328.9 L539.7,328.4 M553.7,332.4 L553.7,333.2 L553.7,334.1 L553.5,334.9 L553.4,335.7 L553.2,336.5 L552.9,337.3 L552.7,338.1 L552.3,338.8 L551.9,339.6 L551.4,340.3 L550.9,341.0 L550.3,341.6 L549.6,342.2 L548.8,342.6 L547.9,343.0 L547.1,343.2 L546.2,343.3 L545.3,343.3 L544.4,343.2 L543.5,343.0 L542.7,342.7 L541.9,342.3 L541.2,341.9 L540.5,341.4 M536.0,335.7 L535.8,334.8 L535.7,333.9 L535.6,333.0 L535.7,332.1 L536.0,331.2 L536.3,330.4 L536.8,329.6 L537.3,328.9 L537.9,328.3 L538.6,327.7 L539.3,327.2 L540.0,326.8 L540.8,326.4 L541.6,326.1 L542.3,325.9 L543.1,325.6 L543.9,325.5 L544.7,325.3 L545.6,325.2 L546.4,325.2 L547.3,325.3 L548.2,325.4 L549.0,325.7 L549.9,326.0" fill="none" stroke="#dccbab" stroke-width="1.1" stroke-linecap="round"/>
<path d="M358.1,353.7 L357.8,353.7 L357.5,353.7 L357.2,353.6 L356.8,353.4 L356.6,353.2 L356.4,352.9 L356.2,352.6 L356.2,352.3 L356.2,351.9 L356.3,351.6 L356.4,351.3 L356.6,351.0 L356.8,350.8 L357.0,350.5 L357.3,350.3 L357.6,350.2 L358.0,350.1 L358.3,350.1 L358.6,350.3 L358.9,350.5 L359.2,350.7 L359.4,350.9 L359.5,351.2 L359.7,351.5 M354.6,353.2 L354.5,352.5 L354.6,351.9 L354.7,351.3 L354.8,350.6 L355.1,350.0 L355.4,349.4 L355.9,348.9 L356.5,348.5 L357.2,348.3 L357.9,348.3 L358.5,348.4 L359.2,348.7 L359.7,349.0 L360.2,349.4 L360.7,349.9 L361.1,350.4 L361.5,350.9 L361.7,351.6 L361.8,352.3 L361.6,353.0 L361.3,353.6 L360.9,354.2 L360.4,354.6 L359.8,354.9 M354.7,347.3 L355.2,347.0 L355.7,346.8 L356.2,346.7 L356.7,346.6 L357.3,346.6 L357.8,346.6 L358.3,346.7 L358.8,346.8 L359.3,346.9 L359.8,347.1 L360.2,347.3 L360.7,347.5 L361.1,347.7 L361.6,348.0 L362.0,348.3 L362.4,348.7 L362.8,349.1 L363.1,349.5 L363.3,350.0 L363.6,350.5 L363.7,351.0 L363.8,351.6 L363.7,352.1 L363.7,352.7 M361.0,356.3 L360.6,356.6 L360.2,356.8 L359.7,357.1 L359.2,357.3 L358.7,357.5 L358.2,357.6 L357.7,357.6 L357.1,357.6 L356.6,357.6 L356.0,357.4 L355.5,357.2 L355.1,356.9 L354.6,356.6 L354.2,356.2 L353.9,355.8 L353.6,355.3 L353.4,354.8 L353.2,354.4 L353.1,353.9 L352.9,353.4 L352.8,352.9 L352.8,352.4 L352.7,351.9 L352.7,351.4 M362.8,346.2 L363.4,346.6 L363.9,347.1 L364.4,347.7 L364.8,348.3 L365.1,348.9 L365.4,349.7 L365.5,350.4 L365.5,351.1 L365.5,351.8 L365.3,352.6 L365.2,353.2 L364.9,353.9 L364.6,354.5 L364.3,355.1 L364.0,355.7 L363.6,356.3 L363.2,356.8 L362.8,357.3 L362.3,357.8 L361.8,358.3 L361.2,358.7 L360.6,359.1 L359.9,359.4 L359.2,359.6 M353.4,357.6 L352.9,357.1 L352.5,356.5 L352.2,356.0 L351.8,355.4 L351.5,354.8 L351.3,354.1 L351.0,353.5 L350.8,352.8 L350.7,352.2 L350.6,351.4 L350.6,350.7 L350.6,350.0 L350.8,349.3 L351.1,348.6 L351.4,347.9 L351.8,347.3 L352.3,346.8 L352.9,346.3 L353.5,345.9 L354.2,345.6 L354.9,345.3 L355.5,345.2 L356.2,345.1 L356.9,345.0 M365.9,355.5 L365.6,356.3 L365.2,357.0 L364.8,357.8 L364.3,358.5 L363.7,359.2 L363.1,359.8 L362.4,360.3 L361.6,360.7 L360.7,361.1 L359.8,361.3 L358.9,361.3 L358.0,361.3 L357.2,361.2 L356.3,360.9 L355.5,360.6 L354.7,360.2 L354.0,359.7 L353.3,359.3 L352.7,358.7 L352.1,358.2 L351.5,357.6 L351.0,357.0 L350.4,356.3 L350.0,355.6 M349.4,348.2 L349.9,347.4 L350.5,346.7 L351.1,346.1 L351.8,345.6 L352.5,345.1 L353.2,344.7 L354.0,344.4 L354.8,344.1 L355.5,343.8 L356.3,343.6 L357.1,343.4 L358.0,343.3 L358.8,343.2 L359.7,343.2 L360.5,343.3 L361.4,343.5 L362.3,343.7 L363.1,344.1 L363.8,344.6 L364.5,345.2 L365.1,345.8 L365.7,346.6 L366.1,347.4 L366.4,348.2" fill="none" stroke="#dccbab" stroke-width="1.1" stroke-linecap="round"/>
<path d="M456.8,398.6 L456.7,398.9 L456.5,399.2 L456.2,399.4 L455.9,399.6 L455.6,399.7 L455.2,399.7 L454.9,399.7 L454.6,399.7 L454.3,399.6 L454.0,399.5 L453.7,399.3 L453.4,399.1 L453.3,398.7 L453.2,398.4 L453.2,398.1 L453.3,397.7 L453.4,397.4 L453.5,397.1 L453.7,396.9 L453.9,396.6 L454.2,396.4 L454.5,396.2 L454.8,396.1 L455.2,396.1 M454.9,401.5 L454.2,401.5 L453.5,401.4 L452.9,401.1 L452.3,400.7 L451.9,400.1 L451.7,399.5 L451.5,398.8 L451.5,398.1 L451.6,397.5 L451.8,396.9 L452.0,396.3 L452.3,395.7 L452.7,395.1 L453.2,394.7 L453.9,394.4 L454.6,394.3 L455.3,394.3 L455.9,394.6 L456.5,394.9 L457.0,395.2 L457.5,395.7 L458.0,396.2 L458.3,396.7 L458.6,397.3 M449.9,399.3 L449.8,398.8 L449.8,398.3 L449.7,397.8 L449.7,397.2 L449.8,396.7 L449.8,396.2 L450.0,395.7 L450.1,395.2 L450.4,394.7 L450.7,394.2 L451.0,393.8 L451.4,393.4 L451.9,393.1 L452.4,392.9 L452.9,392.7 L453.5,392.6 L454.0,392.6 L454.5,392.6 L455.0,392.6 L455.6,392.7 L456.0,392.8 L456.5,393.0 L457.0,393.2 L457.5,393.4 M460.6,396.6 L460.7,397.2 L460.8,397.7 L460.7,398.3 L460.6,398.8 L460.5,399.3 L460.2,399.8 L460.0,400.3 L459.7,400.7 L459.3,401.1 L459.0,401.5 L458.6,401.8 L458.2,402.1 L457.8,402.4 L457.4,402.7 L456.9,403.0 L456.5,403.2 L456.0,403.4 L455.5,403.5 L455.0,403.6 L454.4,403.7 L453.9,403.6 L453.3,403.5 L452.8,403.3 L452.3,403.1 M451.4,391.5 L452.0,391.3 L452.7,391.1 L453.4,391.0 L454.1,391.0 L454.8,391.0 L455.4,391.0 L456.1,391.0 L456.8,391.1 L457.5,391.3 L458.1,391.4 L458.8,391.7 L459.4,392.0 L460.1,392.4 L460.6,392.8 L461.2,393.4 L461.6,393.9 L462.0,394.6 L462.3,395.3 L462.4,396.0 L462.5,396.7 L462.5,397.5 L462.4,398.2 L462.3,398.9 L462.1,399.6 M458.6,404.4 L458.0,404.8 L457.4,405.2 L456.7,405.5 L456.0,405.7 L455.3,405.8 L454.5,405.8 L453.8,405.7 L453.1,405.5 L452.4,405.2 L451.7,404.8 L451.2,404.4 L450.6,403.9 L450.2,403.4 L449.7,402.8 L449.3,402.3 L449.0,401.7 L448.7,401.1 L448.4,400.5 L448.1,399.8 L447.9,399.2 L447.7,398.5 L447.6,397.8 L447.6,397.1 L447.6,396.4 M461.7,391.3 L462.3,392.0 L462.8,392.8 L463.1,393.6 L463.4,394.4 L463.6,395.3 L463.7,396.2 L463.7,397.0 L463.7,397.9 L463.6,398.7 L463.4,399.5 L463.2,400.3 L463.0,401.1 L462.7,401.9 L462.4,402.6 L462.0,403.4 L461.6,404.1 L461.0,404.8 L460.4,405.5 L459.7,406.0 L459.0,406.5 L458.2,406.9 L457.3,407.2 L456.4,407.3 L455.5,407.3 M448.9,404.0 L448.4,403.4 L447.8,402.8 L447.3,402.2 L446.8,401.4 L446.4,400.7 L446.1,399.9 L445.8,399.0 L445.7,398.2 L445.6,397.3 L445.7,396.4 L445.9,395.5 L446.2,394.6 L446.6,393.8 L447.1,393.1 L447.7,392.4 L448.4,391.9 L449.1,391.3 L449.8,390.9 L450.6,390.5 L451.4,390.2 L452.1,389.9 L452.9,389.7 L453.7,389.5 L454.5,389.4" fill="none" stroke="#dccbab" stroke-width="1.1" stroke-linecap="round"/>
<path d="M378.6,301.0 L378.5,300.7 L378.4,300.4 L378.4,300.1 L378.4,299.8 L378.5,299.5 L378.6,299.3 L378.8,299.0 L379.0,298.8 L379.2,298.6 L379.4,298.4 L379.7,298.3 L380.1,298.3 L380.4,298.4 L380.7,298.5 L380.9,298.7 L381.1,298.9 L381.3,299.1 L381.4,299.4 L381.5,299.7 L381.6,299.9 L381.6,300.3 L381.6,300.6 L381.5,300.9 L381.3,301.1 M377.5,298.0 L377.8,297.5 L378.3,297.1 L378.8,296.8 L379.5,296.7 L380.1,296.7 L380.7,296.8 L381.2,297.1 L381.7,297.4 L382.2,297.8 L382.6,298.2 L382.9,298.7 L383.2,299.2 L383.4,299.8 L383.4,300.5 L383.2,301.1 L382.9,301.6 L382.5,302.1 L382.0,302.5 L381.5,302.7 L380.9,302.9 L380.4,303.1 L379.8,303.2 L379.2,303.2 L378.6,303.0 M381.8,295.6 L382.2,295.8 L382.6,296.0 L383.0,296.3 L383.4,296.5 L383.8,296.8 L384.1,297.1 L384.4,297.5 L384.7,297.9 L384.9,298.4 L385.1,298.8 L385.2,299.3 L385.2,299.8 L385.1,300.3 L385.0,300.8 L384.9,301.3 L384.7,301.7 L384.4,302.1 L384.1,302.5 L383.8,302.8 L383.5,303.2 L383.2,303.5 L382.8,303.8 L382.5,304.0 L382.1,304.3 M378.0,304.8 L377.6,304.6 L377.2,304.3 L376.8,304.0 L376.5,303.6 L376.2,303.2 L376.0,302.8 L375.8,302.4 L375.6,301.9 L375.5,301.5 L375.4,301.1 L375.3,300.6 L375.3,300.2 L375.3,299.7 L375.3,299.2 L375.3,298.8 L375.4,298.3 L375.5,297.8 L375.7,297.4 L375.9,297.0 L376.2,296.5 L376.5,296.2 L376.9,295.8 L377.3,295.6 L377.7,295.4 M386.5,300.8 L386.4,301.4 L386.1,302.0 L385.9,302.5 L385.6,303.0 L385.2,303.6 L384.9,304.1 L384.5,304.5 L384.1,305.0 L383.7,305.4 L383.2,305.8 L382.6,306.2 L382.0,306.5 L381.4,306.8 L380.8,306.9 L380.1,307.0 L379.4,307.0 L378.8,306.9 L378.1,306.7 L377.5,306.4 L377.0,306.1 L376.5,305.7 L376.0,305.2 L375.6,304.7 L375.2,304.3 M373.3,299.2 L373.3,298.6 L373.4,297.9 L373.6,297.3 L373.9,296.7 L374.2,296.1 L374.6,295.6 L375.1,295.1 L375.6,294.7 L376.2,294.4 L376.8,294.1 L377.4,293.9 L378.1,293.8 L378.7,293.7 L379.3,293.7 L379.9,293.7 L380.5,293.7 L381.1,293.7 L381.7,293.8 L382.3,294.0 L382.9,294.1 L383.5,294.4 L384.1,294.7 L384.7,295.0 L385.2,295.4 M381.3,308.4 L380.5,308.4 L379.7,308.3 L378.9,308.2 L378.2,307.9 L377.4,307.6 L376.8,307.2 L376.1,306.8 L375.6,306.3 L375.0,305.8 L374.5,305.3 L373.9,304.8 L373.5,304.2 L373.0,303.6 L372.6,303.0 L372.2,302.3 L371.9,301.6 L371.7,300.8 L371.6,300.0 L371.6,299.2 L371.7,298.4 L371.8,297.6 L372.1,296.8 L372.5,296.1 L373.0,295.5 M378.8,292.4 L379.5,292.2 L380.3,292.1 L381.1,292.1 L381.8,292.1 L382.6,292.2 L383.4,292.4 L384.2,292.7 L384.9,293.1 L385.5,293.5 L386.1,294.1 L386.6,294.7 L387.1,295.4 L387.4,296.2 L387.6,296.9 L387.8,297.7 L387.8,298.5 L387.8,299.2 L387.8,300.0 L387.7,300.7 L387.6,301.5 L387.4,302.2 L387.2,302.9 L386.9,303.6 L386.6,304.3" fill="none" stroke="#dccbab" stroke-width="1.1" stroke-linecap="round"/>
<ellipse cx="366" cy="297" rx="8" ry="4.5" transform="rotate(34 366 297)" fill="#d8bf93"/>
<ellipse cx="556" cy="316" rx="10" ry="5" transform="rotate(-29 556 316)" fill="#d8bf93"/>
<ellipse cx="563" cy="296" rx="8" ry="4" transform="rotate(17 563 296)" fill="#d8bf93"/>
<ellipse cx="548" cy="342" rx="8" ry="4" transform="rotate(57 548 342)" fill="#d8bf93"/>
<ellipse cx="575" cy="330" rx="7" ry="4" transform="rotate(52 575 330)" fill="#d8bf93"/>
<line x1="326.1" y1="240" x2="326.1" y2="420" stroke="#a8957a" stroke-width="0.9"/>
<line x1="342.5" y1="240" x2="342.5" y2="420" stroke="#a8957a" stroke-width="0.9"/>
<line x1="360.5" y1="240" x2="360.5" y2="420" stroke="#a8957a" stroke-width="0.9"/>
<line x1="376.6" y1="240" x2="376.6" y2="420" stroke="#a8957a" stroke-width="0.9"/>
<line x1="546.4" y1="240" x2="546.4" y2="420" stroke="#a8957a" stroke-width="0.9"/>
<line x1="563.4" y1="240" x2="563.4" y2="420" stroke="#a8957a" stroke-width="0.9"/>
<line x1="578" y1="240" x2="578" y2="420" stroke="#a8957a" stroke-width="0.9"/>
<path d="M409.3,240 V348 A45.5,45 0 0 0 500.3,348 V240" fill="none" stroke="#a8957a" stroke-width="0.9"/>
<path d="M394,240 V348 A61,55 0 0 0 516,348 V240" fill="none" stroke="#a8957a" stroke-width="0.9"/>
<path d="M533.2,240 V380" fill="none" stroke="#a8957a" stroke-width="0.9"/>
<path d="M421,240 L421,352 A32.5,32 0 0 0 486,352 L486,240 Z" fill="#dcc398" stroke="#5a3208" stroke-width="1.3"/>
<clipPath id="cstrip"><path d="M421,240 L421,352 A32.5,32 0 0 0 486,352 L486,240 Z"/></clipPath><g clip-path="url(#cstrip)">
<path d="M464.7,272.0 L465.4,274.7 L465.6,277.4 L465.1,280.1 L463.8,282.6 L461.9,284.7 L459.8,286.4 L457.5,287.8 L455.3,289.0 L453.2,290.2 L451.3,291.5 L449.3,292.9 L447.3,294.3 L445.0,295.5 L442.6,296.3 L440.0,296.5 L437.5,296.2 L435.0,295.4 L432.7,294.3 L430.6,293.1 L428.5,291.9 L426.4,290.8 L424.1,289.6 L421.8,288.4 L419.6,286.8 L417.6,284.9 L416.2,282.6 L415.4,280.0 L415.3,277.3 L415.8,274.5 L416.7,272.0 L417.7,269.7 L418.7,267.5 L419.4,265.3 L419.9,263.1 L420.4,260.7 L420.9,258.2 L421.8,255.6 L423.2,253.3 L425.0,251.4 L427.3,250.0 L429.8,249.1 L432.4,248.7 L435.0,248.5 L437.5,248.5 L440.0,248.5 L442.5,248.5 L445.0,248.5 L447.6,248.7 L450.1,249.3 L452.5,250.4 L454.6,252.0 L456.2,254.0 L457.5,256.3 L458.4,258.6 L459.2,260.9 L460.0,263.1 L461.0,265.2 L462.2,267.3 L463.5,269.5 Z" fill="#d9bf94" opacity="0.5"/>
<path d="M444.4,272.9 L444.2,273.7 L443.8,274.5 L443.2,275.1 L442.5,275.6 L441.8,275.9 L441.0,276.0 L440.2,276.1 L439.5,276.1 L438.7,276.0 L437.9,275.8 L437.2,275.4 L436.5,274.9 L436.0,274.2 L435.7,273.4 L435.6,272.6 L435.7,271.8 L436.0,271.0 L436.3,270.3 L436.7,269.6 L437.1,269.0 L437.7,268.4 L438.3,267.9 L439.1,267.6 L439.9,267.5 M440.6,280.3 L439.0,280.5 L437.4,280.4 L435.8,279.9 L434.3,279.1 L433.1,277.8 L432.3,276.4 L431.8,274.8 L431.7,273.2 L431.8,271.6 L432.0,270.1 L432.4,268.6 L433.0,267.1 L433.9,265.8 L435.0,264.5 L436.5,263.7 L438.1,263.2 L439.8,263.1 L441.4,263.4 L442.9,264.1 L444.2,264.9 L445.4,265.9 L446.6,266.9 L447.5,268.2 L448.4,269.6 M428.1,276.2 L427.8,275.1 L427.6,273.9 L427.5,272.7 L427.4,271.5 L427.4,270.3 L427.4,269.0 L427.6,267.8 L427.9,266.5 L428.3,265.3 L428.9,264.1 L429.6,263.0 L430.4,262.0 L431.4,261.1 L432.5,260.4 L433.7,259.8 L435.0,259.3 L436.2,259.1 L437.5,258.9 L438.8,259.0 L440.1,259.1 L441.3,259.3 L442.5,259.6 L443.6,260.0 L444.7,260.4 M453.0,267.4 L453.4,268.6 L453.7,269.9 L453.8,271.3 L453.7,272.6 L453.5,273.9 L453.1,275.1 L452.6,276.3 L451.9,277.4 L451.2,278.4 L450.4,279.4 L449.6,280.3 L448.7,281.1 L447.8,281.9 L446.8,282.6 L445.8,283.2 L444.7,283.9 L443.6,284.4 L442.4,284.9 L441.2,285.2 L439.9,285.5 L438.6,285.6 L437.3,285.5 L436.0,285.3 L434.8,284.8 M429.6,257.2 L431.2,256.5 L432.8,255.9 L434.5,255.5 L436.1,255.3 L437.7,255.2 L439.4,255.1 L441.0,255.2 L442.6,255.3 L444.2,255.5 L445.8,255.8 L447.4,256.2 L449.0,256.8 L450.6,257.6 L452.1,258.5 L453.5,259.5 L454.8,260.8 L455.8,262.2 L456.7,263.8 L457.4,265.4 L457.8,267.1 L458.0,268.9 L458.0,270.6 L457.8,272.4 L457.5,274.0 M450.0,286.2 L448.7,287.3 L447.3,288.3 L445.8,289.2 L444.2,289.9 L442.5,290.4 L440.7,290.6 L438.9,290.6 L437.1,290.4 L435.4,289.9 L433.8,289.2 L432.3,288.4 L430.9,287.3 L429.6,286.2 L428.4,284.9 L427.4,283.6 L426.5,282.3 L425.6,280.9 L424.9,279.5 L424.2,278.0 L423.6,276.5 L423.0,274.9 L422.6,273.3 L422.3,271.6 L422.2,269.9 M454.4,254.5 L456.0,255.9 L457.4,257.6 L458.6,259.4 L459.5,261.3 L460.2,263.4 L460.7,265.4 L460.9,267.5 L460.9,269.6 L460.8,271.6 L460.6,273.6 L460.2,275.5 L459.8,277.4 L459.3,279.3 L458.6,281.2 L457.8,283.0 L456.9,284.9 L455.8,286.6 L454.6,288.3 L453.1,289.9 L451.5,291.2 L449.6,292.4 L447.7,293.3 L445.6,294.0 L443.5,294.3 M427.0,287.9 L425.5,286.5 L424.1,285.1 L422.8,283.6 L421.6,282.0 L420.5,280.3 L419.5,278.5 L418.7,276.6 L418.0,274.6 L417.6,272.5 L417.5,270.3 L417.7,268.1 L418.1,266.0 L418.9,264.0 L419.9,262.1 L421.1,260.3 L422.5,258.7 L424.1,257.3 L425.8,256.1 L427.5,255.0 L429.3,254.1 L431.2,253.3 L433.0,252.7 L434.9,252.1 L436.8,251.6" fill="none" stroke="#e4d2b0" stroke-width="1.2"/>
<path d="M501.7,318.0 L501.2,320.7 L500.1,323.1 L498.5,325.3 L496.8,327.2 L495.0,329.0 L493.5,330.7 L492.1,332.5 L490.9,334.6 L489.6,336.7 L488.1,338.9 L486.2,340.9 L483.9,342.4 L481.4,343.3 L478.7,343.5 L476.0,343.1 L473.4,342.3 L471.0,341.3 L468.8,340.2 L466.5,339.2 L464.3,338.3 L462.0,337.2 L459.8,336.0 L457.7,334.4 L456.1,332.5 L454.8,330.2 L454.1,327.7 L453.8,325.2 L453.8,322.7 L453.8,320.3 L453.7,318.0 L453.5,315.6 L453.2,313.1 L452.9,310.5 L452.9,307.7 L453.5,305.0 L454.7,302.5 L456.5,300.4 L458.8,298.9 L461.4,297.9 L464.1,297.4 L466.7,297.1 L469.1,296.8 L471.4,296.4 L473.7,295.8 L476.0,295.1 L478.5,294.6 L481.0,294.3 L483.6,294.6 L486.1,295.4 L488.3,296.7 L490.2,298.4 L491.9,300.3 L493.4,302.3 L494.9,304.3 L496.4,306.2 L498.0,308.2 L499.5,310.4 L500.7,312.7 L501.6,315.3 Z" fill="#d9bf94" opacity="0.5"/>
<path d="M476.7,322.1 L475.9,322.1 L475.2,322.1 L474.4,321.9 L473.6,321.6 L472.9,321.2 L472.3,320.6 L471.9,319.9 L471.7,319.1 L471.7,318.2 L471.8,317.4 L472.1,316.7 L472.4,316.0 L472.8,315.4 L473.3,314.7 L473.9,314.2 L474.6,313.8 L475.4,313.5 L476.3,313.5 L477.1,313.7 L477.9,314.0 L478.5,314.5 L479.0,315.1 L479.5,315.8 L479.8,316.5 M468.1,321.8 L467.7,320.1 L467.7,318.6 L467.8,317.0 L468.2,315.5 L468.6,314.0 L469.3,312.6 L470.3,311.2 L471.6,310.1 L473.1,309.4 L474.8,309.1 L476.4,309.2 L478.0,309.7 L479.4,310.4 L480.7,311.3 L481.9,312.3 L483.0,313.4 L483.9,314.7 L484.6,316.2 L485.0,317.8 L484.9,319.5 L484.5,321.1 L483.6,322.6 L482.4,323.7 L481.1,324.7 M466.9,307.5 L468.0,306.7 L469.1,306.0 L470.4,305.5 L471.6,305.2 L472.9,305.0 L474.2,304.9 L475.5,305.0 L476.7,305.2 L477.9,305.5 L479.1,305.8 L480.2,306.2 L481.3,306.6 L482.4,307.1 L483.5,307.7 L484.5,308.4 L485.5,309.1 L486.5,310.0 L487.4,310.9 L488.2,311.9 L488.8,313.1 L489.3,314.3 L489.6,315.6 L489.8,316.9 L489.8,318.2 M484.2,327.5 L483.3,328.2 L482.3,328.9 L481.2,329.6 L480.2,330.2 L479.0,330.7 L477.8,331.1 L476.6,331.4 L475.3,331.5 L473.9,331.6 L472.6,331.4 L471.4,331.1 L470.1,330.5 L469.0,329.9 L467.9,329.1 L467.0,328.1 L466.2,327.1 L465.5,326.0 L465.0,324.9 L464.5,323.7 L464.2,322.5 L463.9,321.4 L463.6,320.2 L463.5,319.0 L463.4,317.8 M485.9,303.2 L487.4,304.0 L488.8,305.0 L490.2,306.2 L491.3,307.5 L492.3,309.0 L493.1,310.6 L493.6,312.3 L494.0,314.0 L494.1,315.8 L493.9,317.6 L493.7,319.3 L493.2,320.9 L492.6,322.5 L492.0,324.0 L491.2,325.4 L490.4,326.8 L489.5,328.2 L488.5,329.5 L487.5,330.7 L486.3,331.9 L485.1,333.1 L483.7,334.1 L482.2,335.0 L480.6,335.7 M466.2,332.7 L465.0,331.5 L463.9,330.3 L462.9,328.9 L462.0,327.6 L461.2,326.1 L460.5,324.7 L459.8,323.2 L459.3,321.7 L458.8,320.1 L458.4,318.4 L458.2,316.7 L458.2,315.0 L458.3,313.2 L458.7,311.5 L459.3,309.8 L460.1,308.3 L461.1,306.8 L462.3,305.5 L463.7,304.3 L465.2,303.4 L466.8,302.6 L468.4,302.0 L470.0,301.6 L471.7,301.3 M495.5,324.4 L494.9,326.3 L494.2,328.2 L493.4,330.0 L492.4,331.8 L491.2,333.5 L489.8,335.1 L488.3,336.6 L486.5,337.9 L484.6,338.9 L482.6,339.7 L480.5,340.2 L478.3,340.4 L476.2,340.3 L474.1,340.0 L472.0,339.4 L470.1,338.6 L468.2,337.7 L466.5,336.6 L464.9,335.5 L463.3,334.2 L461.9,332.9 L460.5,331.5 L459.2,330.0 L457.9,328.5 M454.5,310.9 L455.4,309.0 L456.5,307.1 L457.8,305.4 L459.3,304.0 L461.0,302.6 L462.7,301.5 L464.5,300.5 L466.3,299.7 L468.2,299.0 L470.0,298.4 L471.9,297.9 L473.9,297.4 L475.8,297.1 L477.9,297.0 L479.9,296.9 L482.0,297.1 L484.1,297.5 L486.1,298.1 L488.1,299.0 L489.9,300.2 L491.6,301.5 L493.1,303.1 L494.3,304.9 L495.3,306.8" fill="none" stroke="#e4d2b0" stroke-width="1.2"/>
<path d="M464.1,352.0 L463.4,354.3 L462.5,356.4 L461.5,358.3 L460.6,360.3 L459.8,362.3 L459.1,364.5 L458.4,366.7 L457.3,369.0 L455.9,371.2 L454.1,372.9 L451.8,374.1 L449.3,374.6 L446.8,374.5 L444.3,374.0 L442.0,373.2 L439.8,372.5 L437.8,371.8 L435.7,371.4 L433.5,371.0 L431.3,370.5 L429.1,369.8 L427.0,368.7 L425.1,367.2 L423.7,365.3 L422.7,363.2 L422.0,360.9 L421.5,358.7 L421.1,356.4 L420.6,354.2 L420.1,352.0 L419.7,349.7 L419.5,347.2 L419.7,344.7 L420.4,342.4 L421.7,340.3 L423.5,338.6 L425.7,337.3 L427.9,336.3 L430.1,335.6 L432.1,334.8 L433.9,333.9 L435.7,332.7 L437.6,331.5 L439.7,330.2 L442.0,329.2 L444.4,328.7 L446.9,328.8 L449.3,329.5 L451.4,330.8 L453.3,332.4 L454.9,334.2 L456.4,336.0 L457.8,337.7 L459.3,339.4 L460.8,341.2 L462.2,343.0 L463.3,345.1 L464.1,347.3 L464.4,349.6 Z" fill="#d9bf94" opacity="0.5"/>
<path d="M439.3,355.0 L438.7,354.5 L438.3,353.9 L438.1,353.1 L438.0,352.4 L438.1,351.6 L438.3,350.9 L438.6,350.3 L439.0,349.7 L439.4,349.1 L440.0,348.6 L440.6,348.2 L441.3,347.9 L442.1,347.8 L442.9,348.0 L443.6,348.3 L444.2,348.7 L444.7,349.3 L445.1,349.8 L445.4,350.5 L445.7,351.1 L445.9,351.8 L446.0,352.6 L445.9,353.3 L445.6,354.1 M435.1,348.6 L435.7,347.3 L436.6,346.0 L437.7,345.0 L439.1,344.2 L440.6,343.9 L442.1,343.9 L443.6,344.2 L444.9,344.9 L446.1,345.7 L447.2,346.6 L448.2,347.6 L449.1,348.7 L449.8,350.0 L450.2,351.5 L450.2,353.1 L449.9,354.6 L449.1,355.9 L448.1,357.1 L446.9,358.0 L445.7,358.6 L444.3,359.2 L443.0,359.5 L441.5,359.8 L440.1,359.7 M444.2,340.6 L445.2,340.9 L446.3,341.3 L447.3,341.8 L448.3,342.2 L449.2,342.8 L450.2,343.4 L451.1,344.1 L451.9,345.0 L452.7,345.9 L453.4,346.8 L453.9,347.9 L454.3,349.1 L454.6,350.3 L454.7,351.5 L454.6,352.7 L454.3,353.9 L454.0,355.0 L453.5,356.1 L452.9,357.1 L452.2,358.0 L451.4,358.9 L450.7,359.7 L449.8,360.4 L449.0,361.1 M439.6,364.4 L438.5,364.2 L437.3,363.8 L436.2,363.3 L435.2,362.6 L434.3,361.8 L433.5,360.9 L432.8,360.0 L432.2,358.9 L431.7,357.9 L431.3,356.8 L431.0,355.7 L430.8,354.7 L430.6,353.6 L430.5,352.5 L430.4,351.4 L430.4,350.2 L430.5,349.1 L430.7,348.0 L430.9,346.8 L431.4,345.7 L431.9,344.6 L432.6,343.6 L433.4,342.7 L434.3,341.9 M458.5,350.6 L458.4,352.2 L458.0,353.7 L457.6,355.2 L457.0,356.6 L456.4,358.0 L455.7,359.3 L454.9,360.6 L454.0,361.8 L453.1,363.0 L452.1,364.1 L451.0,365.2 L449.8,366.2 L448.5,367.1 L447.1,367.9 L445.6,368.5 L444.0,368.9 L442.4,369.1 L440.8,369.0 L439.2,368.8 L437.6,368.3 L436.1,367.7 L434.7,366.9 L433.5,365.9 L432.3,364.9 M426.1,353.3 L425.8,351.8 L425.7,350.2 L425.7,348.6 L425.9,347.0 L426.3,345.4 L427.0,343.9 L427.8,342.5 L428.8,341.2 L429.9,340.1 L431.2,339.1 L432.6,338.3 L434.1,337.7 L435.6,337.2 L437.1,336.9 L438.6,336.7 L440.1,336.5 L441.6,336.5 L443.1,336.6 L444.6,336.7 L446.1,336.9 L447.5,337.2 L449.0,337.6 L450.5,338.2 L451.9,338.9 M449.2,371.5 L447.3,372.1 L445.3,372.5 L443.4,372.5 L441.4,372.4 L439.5,372.0 L437.6,371.4 L435.9,370.6 L434.3,369.7 L432.7,368.7 L431.3,367.6 L429.9,366.4 L428.6,365.2 L427.3,363.9 L426.1,362.5 L425.0,361.0 L424.0,359.4 L423.1,357.8 L422.3,356.0 L421.8,354.1 L421.5,352.2 L421.4,350.2 L421.6,348.2 L422.0,346.3 L422.7,344.4 M435.5,334.3 L437.2,333.8 L438.9,333.4 L440.7,333.0 L442.6,332.8 L444.4,332.7 L446.3,332.7 L448.2,333.0 L450.1,333.4 L452.0,334.1 L453.8,335.0 L455.4,336.1 L456.9,337.5 L458.1,339.0 L459.2,340.7 L460.0,342.5 L460.6,344.3 L461.0,346.2 L461.2,348.1 L461.2,350.0 L461.1,351.8 L460.8,353.7 L460.5,355.4 L460.1,357.2 L459.6,358.9" fill="none" stroke="#e4d2b0" stroke-width="1.2"/>
</g>
</g>
<path d="M305.7,292.2 L307.3,293.4 L308.8,294.6 L310.2,295.9 L311.5,297.3 L312.8,298.7 L314.0,300.2 L315.2,301.8 L316.3,303.4 L317.4,305.1 L318.4,306.8 L319.4,308.5 L320.4,310.3 L321.4,312.1 L322.3,313.9 L323.3,315.7 L324.2,317.6 L325.2,319.4 L326.1,321.2 L327.1,323.0 L328.1,324.8 L329.1,326.6 L330.1,328.3 L331.1,330.0 L332.2,331.8 L333.3,333.5 L334.4,335.1 L335.6,336.8 L336.7,338.4 L337.9,340.0 L339.1,341.6 L340.3,343.2 L341.5,344.8 L342.8,346.3 L344.1,347.8 L345.4,349.3 L346.7,350.8 L348.0,352.3 L349.4,353.7 L350.8,355.1 L352.2,356.5 L353.6,357.9 L355.1,359.3 L356.6,360.6 L358.0,362.0 L359.6,363.3 L361.1,364.6 L362.7,365.8 L364.2,367.1 L365.8,368.3 L367.4,369.5 L369.1,370.7 L370.7,371.9 L372.4,373.0 L374.1,374.1 L375.8,375.2 L377.5,376.3 L379.2,377.4 L381.0,378.4 L382.8,379.4 L384.5,380.4 L386.3,381.4 L388.1,382.3 L390.0,383.2 L391.8,384.1 L393.7,385.0 L395.5,385.8 L397.4,386.7 L399.3,387.5 L401.2,388.2 L403.1,389.0 L405.0,389.7 L406.9,390.4 L408.8,391.1 L410.8,391.7 L412.7,392.3 L414.7,392.9 L416.6,393.4 L418.6,394.0 L420.6,394.5 L422.6,395.0 L424.6,395.4 L426.6,395.8 L428.6,396.2 L430.6,396.6 L432.6,396.9 L434.6,397.2 L436.6,397.5 L438.6,397.7 L440.6,397.9 L442.6,398.1 L444.6,398.2 L446.6,398.4 L448.7,398.4 L450.7,398.5 L452.7,398.5 L454.7,398.5 L456.7,398.5 L458.7,398.4 L460.7,398.3 L462.7,398.1 L464.7,398.0 L466.7,397.8 L468.7,397.5 L470.7,397.3 L472.7,397.0 L474.7,396.7 L476.6,396.3 L478.6,395.9 L480.6,395.5 L482.5,395.1 L484.5,394.6 L486.4,394.1 L488.4,393.6 L490.3,393.1 L492.2,392.5 L494.1,391.9 L496.0,391.2 L497.9,390.6 L499.8,389.9 L501.7,389.2 L503.6,388.4 L505.4,387.7 L507.3,386.9 L509.1,386.1 L511.0,385.2 L512.8,384.3 L514.6,383.4 L516.4,382.5 L518.2,381.6 L520.0,380.6 L521.7,379.6 L523.5,378.6 L525.2,377.6 L526.9,376.5 L528.6,375.4 L530.3,374.3 L532.0,373.2 L533.7,372.0 L535.3,370.9 L536.9,369.7 L538.6,368.4 L540.2,367.2 L541.7,365.9 L543.3,364.7 L544.9,363.4 L546.4,362.0 L547.9,360.7 L549.4,359.3 L550.9,358.0 L552.3,356.6 L553.8,355.1 L555.2,353.7 L556.6,352.2 L558.0,350.8 L559.4,349.3 L560.7,347.7 L562.0,346.2 L563.3,344.7 L564.6,343.1 L565.9,341.5 L567.1,339.9 L568.4,338.3 L569.6,336.7 L570.8,335.1 L572.0,333.4 L573.1,331.8 L574.3,330.1 L575.5,328.4 L576.6,326.8 L577.7,325.1 L578.9,323.4 L580.0,321.7 L581.1,320.0 L582.2,318.3 L583.3,316.6 L584.4,314.9 L585.5,313.2 L586.6,311.5 L587.7,309.8 L588.8,308.2 L589.9,306.5 L591.0,304.8 L592.1,303.1 L593.2,301.4 L594.3,299.8 L595.4,298.1 L596.6,296.5 L597.7,294.8 L609.0,299.4 L608.3,301.3 L607.6,303.2 L606.8,305.0 L606.0,306.9 L605.3,308.7 L604.4,310.6 L603.6,312.4 L602.8,314.2 L601.9,316.0 L601.0,317.8 L600.1,319.6 L599.2,321.4 L598.2,323.2 L597.3,325.0 L596.3,326.7 L595.3,328.5 L594.2,330.2 L593.2,332.0 L592.2,333.7 L591.1,335.4 L590.0,337.1 L588.9,338.8 L587.7,340.4 L586.6,342.1 L585.4,343.7 L584.2,345.4 L583.0,347.0 L581.8,348.6 L580.6,350.2 L579.3,351.8 L578.1,353.4 L576.8,354.9 L575.5,356.5 L574.2,358.0 L572.8,359.5 L571.5,361.0 L570.1,362.5 L568.7,363.9 L567.3,365.4 L565.9,366.8 L564.5,368.2 L563.0,369.6 L561.5,371.0 L560.1,372.4 L558.6,373.7 L557.0,375.0 L555.5,376.3 L554.0,377.6 L552.4,378.9 L550.8,380.2 L549.2,381.4 L547.6,382.6 L546.0,383.8 L544.4,385.0 L542.7,386.1 L541.1,387.3 L539.4,388.4 L537.7,389.5 L536.0,390.5 L534.3,391.6 L532.5,392.6 L530.8,393.6 L529.0,394.6 L527.3,395.6 L525.5,396.5 L523.7,397.4 L521.9,398.3 L520.1,399.2 L518.3,400.1 L516.4,400.9 L514.6,401.7 L512.7,402.5 L510.9,403.3 L509.0,404.0 L507.1,404.8 L505.2,405.5 L503.3,406.1 L501.4,406.8 L499.5,407.4 L497.6,408.0 L495.6,408.6 L493.7,409.2 L491.7,409.7 L489.8,410.3 L487.8,410.8 L485.9,411.2 L483.9,411.7 L481.9,412.1 L479.9,412.5 L477.9,412.9 L476.0,413.2 L474.0,413.6 L472.0,413.9 L470.0,414.2 L468.0,414.4 L466.0,414.7 L463.9,414.9 L461.9,415.1 L459.9,415.2 L457.9,415.3 L455.9,415.5 L453.9,415.5 L451.8,415.6 L449.8,415.6 L447.8,415.7 L445.8,415.6 L443.7,415.6 L441.7,415.5 L439.7,415.4 L437.7,415.3 L435.7,415.2 L433.6,415.0 L431.6,414.8 L429.6,414.6 L427.6,414.3 L425.6,414.1 L423.6,413.8 L421.6,413.5 L419.6,413.1 L417.6,412.7 L415.6,412.3 L413.6,411.9 L411.6,411.4 L409.7,411.0 L407.7,410.5 L405.8,409.9 L403.8,409.4 L401.9,408.8 L399.9,408.2 L398.0,407.5 L396.1,406.9 L394.2,406.2 L392.3,405.5 L390.4,404.8 L388.5,404.0 L386.7,403.2 L384.8,402.4 L383.0,401.6 L381.2,400.7 L379.4,399.9 L377.6,398.9 L375.8,398.0 L374.0,397.1 L372.2,396.1 L370.5,395.1 L368.8,394.1 L367.1,393.0 L365.4,391.9 L363.7,390.8 L362.1,389.7 L360.4,388.6 L358.8,387.4 L357.2,386.2 L355.6,385.0 L354.1,383.7 L352.5,382.5 L351.0,381.2 L349.5,379.8 L348.0,378.5 L346.5,377.1 L345.1,375.8 L343.7,374.4 L342.3,372.9 L340.9,371.5 L339.6,370.0 L338.3,368.5 L337.0,367.0 L335.7,365.4 L334.4,363.9 L333.2,362.3 L332.0,360.7 L330.8,359.1 L329.6,357.5 L328.4,355.8 L327.3,354.2 L326.1,352.5 L325.0,350.8 L323.9,349.1 L322.8,347.4 L321.8,345.7 L320.7,343.9 L319.7,342.2 L318.7,340.4 L317.7,338.6 L316.7,336.9 L315.7,335.1 L314.7,333.3 L313.8,331.5 L312.9,329.7 L311.9,327.9 L311.0,326.0 L310.1,324.2 L309.2,322.4 L308.4,320.5 L307.5,318.7 L306.6,316.9 L305.8,315.0 L304.9,313.2 L304.1,311.3 L303.3,309.5 L302.5,307.7 L301.7,305.8 L300.9,304.0 L300.1,302.2 L299.3,300.3 L298.5,298.5 L297.7,296.7 Z" fill="#d8bd8f" stroke="#5a3208" stroke-width="1.5" stroke-linejoin="round"/>
<path d="M297.1,284.6 L296.0,286.2 L294.8,287.7 L293.7,289.3 L292.5,290.9 L291.4,292.5 L290.3,294.1 L289.2,295.7 L288.1,297.4 L287.0,299.0 L285.9,300.6 L284.8,302.3 L283.7,303.9 L282.7,305.6 L281.6,307.2 L280.6,308.9 L279.5,310.6 L278.5,312.2 L277.4,313.9 L276.4,315.6 L275.4,317.3 L274.4,319.0 L273.4,320.7 L272.4,322.5 L271.4,324.2 L270.5,325.9 L269.5,327.6 L268.5,329.4 L267.6,331.1 L266.6,332.9 L265.7,334.6 L264.8,336.4 L263.9,338.2 L263.0,340.0 L262.1,341.7 L261.2,343.5 L260.3,345.3 L259.4,347.1 L258.6,348.9 L257.7,350.7 L256.9,352.5 L256.0,354.4 L255.2,356.2 L254.4,358.0 L253.6,359.8 L252.8,361.7 L252.0,363.5 L251.2,365.4 L250.4,367.2 L249.6,369.1 L248.9,370.9 L248.2,372.8 L247.4,374.7 L246.7,376.5 L246.0,378.4 L245.3,380.3 L244.6,382.2 L243.9,384.1 L243.2,386.0 L242.6,387.9 L241.9,389.8 L241.3,391.7 L240.6,393.6 L240.0,395.5 L239.4,397.4 L238.8,399.3 L238.2,401.3 L237.6,403.2 L237.0,405.1 L236.5,407.0 L235.9,409.0 L235.4,410.9 L234.9,412.8 L234.4,414.8 L233.9,416.7 L233.4,418.7 L232.9,420.6 L232.4,422.6 L231.9,424.6 L231.5,426.5 L231.1,428.5 L230.6,430.4 L230.2,432.4 L229.8,434.4 L229.4,436.3 L229.0,438.3 L228.7,440.3 L228.3,442.3 L228.0,444.2 L227.6,446.2 L227.3,448.2 L227.0,450.2 L226.7,452.2 L226.4,454.2 L226.2,456.2 L225.9,458.1 L225.7,460.1 L225.4,462.1 L225.2,464.1 L225.0,466.1 L224.8,468.1 L224.6,470.1 L224.4,472.1 L224.3,474.1 L224.1,476.1 L224.0,478.1 L223.9,480.1 L223.8,482.1 L223.7,484.1 L223.6,486.1 L223.5,488.1 L223.5,490.1 L223.4,492.1 L223.4,494.1 L223.4,496.1 L223.4,498.1 L223.4,500.2 L223.4,502.2 L223.5,504.2 L223.5,506.2 L223.6,508.2 L223.7,510.2 L223.7,512.2 L223.9,514.2 L224.0,516.2 L224.1,518.2 L224.3,520.2 L224.4,522.2 L224.6,524.2 L224.8,526.2 L225.0,528.2 L225.2,530.2 L225.5,532.2 L225.7,534.2 L226.0,536.2 L226.3,538.2 L226.6,540.2 L226.9,542.2 L227.2,544.1 L227.5,546.1 L227.9,548.1 L228.3,550.1 L228.7,552.1 L229.1,554.1 L229.5,556.0 L229.9,558.0 L230.3,560.0 L230.8,562.0 L231.3,563.9 L231.8,565.9 L232.3,567.9 L232.8,569.8 L233.3,571.8 L233.9,573.7 L234.4,575.7 L235.0,577.6 L235.6,579.5 L236.2,581.5 L236.8,583.4 L237.5,585.3 L238.1,587.2 L238.8,589.1 L239.5,591.0 L240.1,592.9 L240.9,594.8 L241.6,596.7 L242.3,598.6 L243.1,600.4 L243.8,602.3 L244.6,604.2 L245.4,606.0 L246.2,607.9 L247.1,609.7 L247.9,611.5 L248.8,613.3 L249.6,615.2 L250.5,617.0 L251.4,618.8 L252.3,620.5 L253.3,622.3 L254.2,624.1 L255.2,625.8 L256.1,627.6 L257.1,629.3 L258.1,631.1 L259.1,632.8 L260.2,634.5 L261.2,636.2 L262.3,637.9 L263.3,639.6 L264.4,641.2 L265.5,642.9 L266.6,644.6 L267.8,646.2 L268.9,647.8 L270.1,649.4 L271.3,651.0 L272.4,652.6 L273.7,654.2 L274.9,655.8 L276.1,657.3 L277.3,658.9 L278.6,660.4 L279.9,661.9 L281.2,663.4 L282.5,664.9 L283.8,666.4 L285.1,667.8 L286.5,669.3 L287.8,670.7 L289.2,672.1 L290.6,673.5 L292.0,674.9 L293.4,676.3 L294.9,677.6 L296.3,679.0 L297.8,680.3 L299.2,681.6 L300.7,682.9 L302.2,684.2 L303.7,685.5 L305.3,686.8 L306.8,688.0 L308.3,689.2 L309.9,690.4 L311.5,691.6 L313.1,692.8 L314.7,694.0 L316.3,695.1 L317.9,696.3 L319.5,697.4 L321.2,698.5 L322.8,699.6 L324.5,700.7 L326.2,701.7 L327.8,702.8 L329.5,703.8 L331.2,704.8 L333.0,705.8 L334.7,706.8 L336.4,707.8 L338.2,708.7 L339.9,709.7 L341.7,710.6 L343.5,711.5 L345.2,712.4 L347.0,713.3 L348.8,714.1 L350.6,715.0 L352.4,715.8 L354.3,716.6 L356.1,717.4 L357.9,718.2 L359.8,719.0 L361.6,719.7 L363.5,720.5 L365.4,721.2 L367.2,721.9 L369.1,722.6 L371.0,723.2 L372.9,723.9 L374.8,724.5 L376.7,725.2 L378.6,725.8 L380.6,726.4 L382.5,726.9 L384.4,727.5 L386.3,728.0 L388.3,728.6 L390.2,729.1 L392.2,729.6 L394.1,730.1 L396.1,730.5 L398.1,731.0 L400.0,731.4 L402.0,731.8 L404.0,732.2 L406.0,732.6 L408.0,732.9 L409.9,733.3 L411.9,733.6 L413.9,733.9 L415.9,734.2 L417.9,734.5 L419.9,734.8 L421.9,735.0 L423.9,735.2 L426.0,735.5 L428.0,735.7 L430.0,735.8 L432.0,736.0 L434.0,736.1 L436.0,736.3 L438.1,736.4 L440.1,736.5 L442.1,736.6 L444.1,736.6 L446.1,736.7 L448.2,736.7 L450.2,736.7 L452.2,736.7 L454.2,736.7 L456.3,736.6 L458.3,736.6 L460.3,736.5 L462.3,736.4 L464.4,736.3 L466.4,736.1 L468.4,736.0 L470.4,735.8 L472.4,735.6 L474.4,735.5 L476.5,735.2 L478.5,735.0 L480.5,734.8 L482.5,734.5 L484.5,734.2 L486.5,733.9 L488.5,733.6 L490.5,733.3 L492.5,732.9 L494.5,732.5 L496.4,732.2 L498.4,731.8 L500.4,731.3 L502.4,730.9 L504.4,730.5 L506.3,730.0 L508.3,729.5 L510.2,729.0 L512.2,728.5 L514.1,728.0 L516.1,727.4 L518.0,726.9 L520.0,726.3 L521.9,725.7 L523.8,725.1 L525.7,724.4 L527.6,723.8 L529.5,723.1 L531.4,722.5 L533.3,721.8 L535.2,721.1 L537.1,720.3 L538.9,719.6 L540.8,718.8 L542.7,718.1 L544.5,717.3 L546.4,716.5 L548.2,715.7 L550.0,714.8 L551.8,714.0 L553.6,713.1 L555.4,712.3 L557.2,711.4 L559.0,710.5 L560.8,709.5 L562.6,708.6 L564.3,707.6 L566.1,706.7 L567.8,705.7 L569.5,704.7 L571.2,703.7 L572.9,702.6 L574.6,701.6 L576.3,700.5 L578.0,699.5 L579.7,698.4 L581.3,697.3 L583.0,696.2 L584.6,695.0 L586.2,693.9 L587.8,692.7 L589.4,691.5 L591.0,690.3 L592.6,689.1 L594.2,687.9 L595.7,686.7 L597.2,685.4 L598.8,684.2 L600.3,682.9 L601.8,681.6 L603.3,680.3 L604.7,679.0 L606.2,677.7 L607.6,676.3 L609.1,675.0 L610.5,673.6 L611.9,672.2 L613.3,670.8 L614.7,669.4 L616.0,667.9 L617.4,666.5 L618.7,665.0 L620.0,663.6 L621.3,662.1 L622.6,660.6 L623.9,659.1 L625.1,657.6 L626.4,656.0 L627.6,654.5 L628.8,652.9 L630.0,651.3 L631.2,649.7 L632.3,648.1 L633.5,646.5 L634.6,644.9 L635.8,643.3 L636.9,641.6 L637.9,640.0 L639.0,638.3 L640.1,636.6 L641.1,634.9 L642.2,633.2 L643.2,631.5 L644.2,629.8 L645.1,628.1 L646.1,626.3 L647.1,624.6 L648.0,622.8 L648.9,621.0 L649.8,619.3 L650.7,617.5 L651.6,615.7 L652.5,613.9 L653.3,612.1 L654.2,610.2 L655.0,608.4 L655.8,606.6 L656.6,604.7 L657.4,602.9 L658.2,601.0 L658.9,599.2 L659.6,597.3 L660.4,595.4 L661.1,593.5 L661.8,591.6 L662.4,589.7 L663.1,587.8 L663.8,585.9 L664.4,584.0 L665.0,582.1 L665.6,580.2 L666.2,578.2 L666.8,576.3 L667.4,574.4 L667.9,572.4 L668.4,570.5 L669.0,568.5 L669.5,566.6 L670.0,564.6 L670.5,562.7 L670.9,560.7 L671.4,558.7 L671.8,556.7 L672.2,554.8 L672.6,552.8 L673.0,550.8 L673.4,548.8 L673.8,546.9 L674.2,544.9 L674.5,542.9 L674.8,540.9 L675.1,538.9 L675.4,536.9 L675.7,534.9 L676.0,532.9 L676.3,530.9 L676.5,528.9 L676.8,526.9 L677.0,524.9 L677.2,522.9 L677.4,520.9 L677.6,518.9 L677.7,516.9 L677.9,514.9 L678.0,512.9 L678.2,510.9 L678.3,508.9 L678.4,506.9 L678.5,504.9 L678.5,502.9 L678.6,500.9 L678.7,498.9 L678.7,496.9 L678.7,494.9 L678.7,492.9 L678.7,490.9 L678.7,488.9 L678.7,486.9 L678.6,484.8 L678.6,482.8 L678.5,480.8 L678.5,478.8 L678.4,476.8 L678.3,474.8 L678.1,472.8 L678.0,470.8 L677.9,468.8 L677.7,466.8 L677.6,464.8 L677.4,462.8 L677.2,460.8 L677.0,458.8 L676.8,456.9 L676.6,454.9 L676.3,452.9 L676.1,450.9 L675.8,448.9 L675.5,446.9 L675.2,444.9 L674.9,442.9 L674.6,441.0 L674.3,439.0 L674.0,437.0 L673.6,435.0 L673.3,433.1 L672.9,431.1 L672.5,429.1 L672.1,427.2 L671.7,425.2 L671.3,423.2 L670.9,421.3 L670.4,419.3 L670.0,417.4 L669.5,415.4 L669.0,413.5 L668.5,411.5 L668.0,409.6 L667.5,407.6 L667.0,405.7 L666.5,403.8 L665.9,401.8 L665.4,399.9 L664.8,398.0 L664.2,396.1 L663.6,394.1 L663.0,392.2 L662.4,390.3 L661.8,388.4 L661.2,386.5 L660.5,384.6 L659.9,382.7 L659.2,380.8 L658.5,378.9 L657.8,377.1 L657.1,375.2 L656.4,373.3 L655.7,371.4 L655.0,369.6 L654.2,367.7 L653.5,365.8 L652.7,364.0 L651.9,362.1 L651.1,360.3 L650.3,358.5 L649.5,356.6 L648.7,354.8 L647.9,353.0 L647.0,351.2 L646.2,349.3 L645.3,347.5 L644.5,345.7 L643.6,343.9 L642.7,342.1 L641.8,340.3 L640.9,338.6 L639.9,336.8 L639.0,335.0 L638.1,333.2 L637.1,331.5 L636.2,329.7 L635.2,328.0 L634.2,326.2 L633.2,324.5 L632.2,322.8 L631.2,321.0 L630.2,319.3 L629.1,317.6 L628.1,315.9 L627.0,314.2 L626.0,312.5 L624.9,310.8 L623.8,309.1 L622.7,307.5 L621.6,305.8 L620.5,304.1 L619.4,302.5 L618.3,300.8 L617.1,299.2 L616.0,297.6 L614.8,295.9 L613.7,294.3 L612.5,292.7 L611.3,291.1 L610.1,289.5 L608.9,287.9 L607.7,286.3 L597.4,293.4 L598.4,295.2 L599.3,296.9 L600.3,298.6 L601.3,300.3 L602.2,302.1 L603.2,303.8 L604.2,305.6 L605.1,307.3 L606.0,309.1 L607.0,310.8 L607.9,312.6 L608.8,314.3 L609.8,316.1 L610.7,317.9 L611.6,319.7 L612.5,321.5 L613.4,323.2 L614.3,325.0 L615.2,326.8 L616.0,328.6 L616.9,330.4 L617.8,332.2 L618.6,334.0 L619.5,335.9 L620.3,337.7 L621.2,339.5 L622.0,341.3 L622.8,343.2 L623.7,345.0 L624.5,346.8 L625.3,348.7 L626.1,350.5 L626.9,352.3 L627.6,354.2 L628.4,356.1 L629.2,357.9 L629.9,359.8 L630.7,361.6 L631.4,363.5 L632.2,365.4 L632.9,367.2 L633.6,369.1 L634.3,371.0 L635.0,372.9 L635.7,374.8 L636.4,376.7 L637.1,378.5 L637.8,380.4 L638.4,382.3 L639.1,384.2 L639.7,386.1 L640.3,388.0 L641.0,390.0 L641.6,391.9 L642.2,393.8 L642.8,395.7 L643.4,397.6 L643.9,399.5 L644.5,401.5 L645.1,403.4 L645.6,405.3 L646.2,407.2 L646.7,409.2 L647.2,411.1 L647.7,413.1 L648.2,415.0 L648.7,416.9 L649.2,418.9 L649.6,420.8 L650.1,422.8 L650.5,424.7 L651.0,426.7 L651.4,428.6 L651.8,430.6 L652.2,432.5 L652.6,434.5 L653.0,436.5 L653.4,438.4 L653.7,440.4 L654.1,442.4 L654.4,444.3 L654.7,446.3 L655.1,448.3 L655.4,450.2 L655.6,452.2 L655.9,454.2 L656.2,456.2 L656.4,458.1 L656.7,460.1 L656.9,462.1 L657.1,464.1 L657.3,466.1 L657.5,468.1 L657.7,470.0 L657.9,472.0 L658.0,474.0 L658.2,476.0 L658.3,478.0 L658.4,480.0 L658.5,482.0 L658.6,484.0 L658.7,486.0 L658.8,488.0 L658.8,490.0 L658.9,492.0 L658.9,494.0 L658.9,495.9 L658.9,497.9 L658.9,499.9 L658.9,501.9 L658.8,503.9 L658.8,505.9 L658.7,507.9 L658.6,509.9 L658.5,511.9 L658.4,513.9 L658.3,515.9 L658.1,517.9 L658.0,519.9 L657.8,521.9 L657.6,524.0 L657.4,526.0 L657.2,528.0 L657.0,530.0 L656.7,532.0 L656.5,534.0 L656.2,536.0 L655.9,538.0 L655.6,539.9 L655.3,541.9 L654.9,543.9 L654.6,545.9 L654.2,547.9 L653.8,549.9 L653.4,551.9 L653.0,553.9 L652.6,555.8 L652.1,557.8 L651.6,559.8 L651.2,561.7 L650.7,563.7 L650.1,565.6 L649.6,567.6 L649.1,569.5 L648.5,571.4 L647.9,573.4 L647.3,575.3 L646.7,577.2 L646.1,579.1 L645.4,581.0 L644.7,582.9 L644.1,584.8 L643.4,586.7 L642.6,588.5 L641.9,590.4 L641.1,592.3 L640.4,594.1 L639.6,595.9 L638.8,597.8 L637.9,599.6 L637.1,601.4 L636.2,603.2 L635.4,605.0 L634.5,606.7 L633.6,608.5 L632.6,610.3 L631.7,612.0 L630.7,613.8 L629.7,615.5 L628.7,617.2 L627.7,618.9 L626.7,620.6 L625.6,622.3 L624.6,623.9 L623.5,625.6 L622.4,627.2 L621.2,628.8 L620.1,630.5 L619.0,632.1 L617.8,633.6 L616.6,635.2 L615.4,636.8 L614.2,638.3 L612.9,639.9 L611.7,641.4 L610.4,642.9 L609.1,644.4 L607.8,645.8 L606.4,647.3 L605.1,648.7 L603.7,650.2 L602.4,651.6 L601.0,653.0 L599.6,654.4 L598.1,655.7 L596.7,657.1 L595.2,658.4 L593.7,659.7 L592.3,661.0 L590.8,662.3 L589.2,663.6 L587.7,664.9 L586.2,666.1 L584.6,667.3 L583.0,668.6 L581.4,669.8 L579.8,670.9 L578.2,672.1 L576.6,673.3 L575.0,674.4 L573.3,675.5 L571.6,676.6 L570.0,677.7 L568.3,678.8 L566.6,679.8 L564.9,680.9 L563.1,681.9 L561.4,682.9 L559.7,683.9 L557.9,684.9 L556.2,685.8 L554.4,686.8 L552.6,687.7 L550.8,688.6 L549.0,689.5 L547.2,690.4 L545.4,691.2 L543.5,692.1 L541.7,692.9 L539.8,693.7 L538.0,694.5 L536.1,695.3 L534.2,696.1 L532.4,696.8 L530.5,697.5 L528.6,698.2 L526.7,698.9 L524.8,699.6 L522.9,700.3 L520.9,700.9 L519.0,701.6 L517.1,702.2 L515.1,702.8 L513.2,703.3 L511.2,703.9 L509.3,704.4 L507.3,705.0 L505.4,705.5 L503.4,706.0 L501.4,706.4 L499.4,706.9 L497.4,707.3 L495.5,707.8 L493.5,708.2 L491.5,708.6 L489.5,708.9 L487.5,709.3 L485.5,709.6 L483.5,709.9 L481.5,710.2 L479.5,710.5 L477.5,710.8 L475.4,711.0 L473.4,711.3 L471.4,711.5 L469.4,711.7 L467.4,711.9 L465.4,712.0 L463.3,712.2 L461.3,712.3 L459.3,712.4 L457.3,712.5 L455.3,712.6 L453.2,712.6 L451.2,712.7 L449.2,712.7 L447.2,712.7 L445.2,712.7 L443.2,712.7 L441.1,712.6 L439.1,712.5 L437.1,712.5 L435.1,712.4 L433.1,712.2 L431.1,712.1 L429.1,711.9 L427.1,711.8 L425.1,711.6 L423.1,711.4 L421.1,711.1 L419.1,710.9 L417.1,710.6 L415.1,710.4 L413.2,710.1 L411.2,709.7 L409.2,709.4 L407.2,709.1 L405.3,708.7 L403.3,708.3 L401.4,707.9 L399.4,707.5 L397.5,707.0 L395.5,706.6 L393.6,706.1 L391.7,705.6 L389.8,705.1 L387.9,704.5 L386.0,704.0 L384.1,703.4 L382.2,702.8 L380.3,702.2 L378.4,701.6 L376.5,701.0 L374.7,700.3 L372.8,699.6 L370.9,698.9 L369.1,698.2 L367.3,697.5 L365.5,696.7 L363.6,696.0 L361.8,695.2 L360.0,694.4 L358.2,693.5 L356.5,692.7 L354.7,691.8 L352.9,691.0 L351.2,690.1 L349.4,689.1 L347.7,688.2 L346.0,687.3 L344.3,686.3 L342.6,685.3 L340.9,684.3 L339.2,683.3 L337.5,682.2 L335.9,681.1 L334.2,680.1 L332.6,679.0 L331.0,677.8 L329.4,676.7 L327.8,675.5 L326.2,674.4 L324.6,673.2 L323.1,672.0 L321.5,670.7 L320.0,669.5 L318.5,668.2 L317.0,666.9 L315.5,665.6 L314.0,664.3 L312.6,663.0 L311.1,661.6 L309.7,660.2 L308.3,658.8 L306.8,657.4 L305.5,656.0 L304.1,654.6 L302.7,653.1 L301.4,651.6 L300.0,650.1 L298.7,648.6 L297.4,647.1 L296.1,645.6 L294.8,644.0 L293.5,642.5 L292.3,640.9 L291.1,639.3 L289.8,637.7 L288.6,636.1 L287.4,634.5 L286.3,632.8 L285.1,631.2 L283.9,629.5 L282.8,627.9 L281.7,626.2 L280.6,624.5 L279.5,622.8 L278.4,621.0 L277.4,619.3 L276.3,617.6 L275.3,615.8 L274.3,614.1 L273.3,612.3 L272.3,610.5 L271.4,608.7 L270.4,606.9 L269.5,605.1 L268.6,603.3 L267.7,601.4 L266.8,599.6 L266.0,597.8 L265.1,595.9 L264.3,594.1 L263.5,592.2 L262.7,590.3 L261.9,588.4 L261.1,586.6 L260.4,584.7 L259.7,582.8 L258.9,580.9 L258.2,578.9 L257.6,577.0 L256.9,575.1 L256.3,573.2 L255.6,571.3 L255.0,569.3 L254.4,567.4 L253.9,565.4 L253.3,563.5 L252.8,561.5 L252.2,559.6 L251.7,557.6 L251.3,555.7 L250.8,553.7 L250.3,551.8 L249.9,549.8 L249.5,547.8 L249.1,545.9 L248.7,543.9 L248.4,541.9 L248.0,539.9 L247.7,538.0 L247.4,536.0 L247.1,534.0 L246.9,532.0 L246.6,530.1 L246.4,528.1 L246.2,526.1 L246.0,524.1 L245.8,522.2 L245.6,520.2 L245.5,518.2 L245.3,516.2 L245.2,514.2 L245.1,512.3 L245.1,510.3 L245.0,508.3 L244.9,506.3 L244.9,504.3 L244.9,502.4 L244.9,500.4 L244.9,498.4 L244.9,496.4 L245.0,494.4 L245.1,492.4 L245.1,490.5 L245.2,488.5 L245.3,486.5 L245.4,484.5 L245.6,482.5 L245.7,480.6 L245.9,478.6 L246.1,476.6 L246.3,474.6 L246.5,472.7 L246.7,470.7 L246.9,468.7 L247.1,466.7 L247.4,464.8 L247.7,462.8 L247.9,460.8 L248.2,458.8 L248.5,456.9 L248.9,454.9 L249.2,452.9 L249.5,451.0 L249.9,449.0 L250.3,447.0 L250.6,445.1 L251.0,443.1 L251.4,441.1 L251.8,439.2 L252.2,437.2 L252.7,435.2 L253.1,433.3 L253.6,431.3 L254.0,429.4 L254.5,427.4 L255.0,425.5 L255.5,423.5 L256.0,421.6 L256.5,419.6 L257.0,417.7 L257.5,415.7 L258.1,413.8 L258.6,411.9 L259.2,409.9 L259.8,408.0 L260.3,406.1 L260.9,404.1 L261.5,402.2 L262.1,400.3 L262.7,398.3 L263.3,396.4 L263.9,394.5 L264.6,392.6 L265.2,390.7 L265.9,388.7 L266.5,386.8 L267.2,384.9 L267.8,383.0 L268.5,381.1 L269.2,379.2 L269.9,377.3 L270.6,375.4 L271.3,373.5 L272.0,371.6 L272.7,369.7 L273.4,367.8 L274.1,365.9 L274.8,364.1 L275.5,362.2 L276.3,360.3 L277.0,358.4 L277.8,356.6 L278.5,354.7 L279.3,352.8 L280.0,351.0 L280.8,349.1 L281.5,347.3 L282.3,345.4 L283.1,343.6 L283.9,341.7 L284.6,339.9 L285.4,338.0 L286.2,336.2 L287.0,334.4 L287.8,332.6 L288.6,330.7 L289.4,328.9 L290.2,327.1 L291.0,325.3 L291.8,323.5 L292.6,321.7 L293.4,319.9 L294.2,318.1 L295.0,316.3 L295.8,314.5 L296.6,312.7 L297.4,310.9 L298.2,309.1 L299.0,307.4 L299.9,305.6 L300.7,303.8 L301.5,302.1 L302.3,300.3 L303.1,298.6 L303.9,296.8 L304.7,295.1 L305.6,293.3 L306.4,291.6 Z" fill="#7e4e11" stroke="#1c1007" stroke-width="1.7" stroke-linejoin="round"/>
<path d="M289.0,287.5 L290.5,286.1 L291.9,284.7 L293.3,283.3 L294.8,281.9 L296.3,280.5 L297.8,279.2 L299.3,277.9 L300.8,276.5 L302.4,275.2 L303.9,273.9 L305.5,272.6 L307.1,271.4 L308.7,270.1 L310.3,268.9 L311.9,267.7 L313.5,266.5 L315.2,265.3 L316.8,264.1 L318.5,263.0 L320.2,261.8 L321.9,260.7 L323.6,259.6 L325.4,258.5 L327.1,257.4 L328.8,256.4 L330.6,255.3 L332.4,254.3 L334.1,253.3 L335.9,252.4 L337.7,251.4 L339.5,250.5 L341.3,249.5 L343.2,248.6 L345.0,247.8 L346.8,246.9 L348.7,246.1 L350.5,245.3 L352.4,244.5 L354.3,243.7 L356.1,243.0 L358.0,242.2 L359.9,241.5 L361.8,240.8 L363.7,240.2 L365.6,239.6 L367.5,238.9 L369.4,238.4 L371.4,237.8 L373.3,237.2 L375.2,236.7 L377.2,236.2 L379.1,235.7 L381.1,235.3 L383.0,234.8 L385.0,234.4 L386.9,234.0 L388.9,233.6 L390.9,233.2 L392.8,232.9 L394.8,232.5 L396.8,232.2 L398.8,231.9 L400.8,231.6 L402.8,231.3 L404.8,231.1 L406.8,230.8 L408.8,230.6 L410.8,230.4 L412.8,230.2 L414.8,230.0 L416.8,229.9 L418.8,229.7 L420.8,229.6 L422.9,229.4 L424.9,229.3 L426.9,229.2 L428.9,229.1 L431.0,229.0 L433.0,229.0 L435.0,228.9 L437.1,228.8 L439.1,228.8 L441.1,228.7 L443.2,228.7 L445.2,228.7 L447.3,228.7 L449.3,228.7 L451.3,228.7 L453.4,228.7 L455.4,228.7 L457.5,228.8 L459.5,228.8 L461.5,228.8 L463.6,228.9 L465.6,229.0 L467.7,229.0 L469.7,229.1 L471.7,229.2 L473.8,229.3 L475.8,229.5 L477.8,229.6 L479.9,229.7 L481.9,229.9 L483.9,230.1 L485.9,230.3 L488.0,230.5 L490.0,230.7 L492.0,230.9 L494.0,231.2 L496.0,231.4 L498.0,231.7 L500.0,232.0 L502.0,232.3 L504.0,232.6 L506.0,233.0 L507.9,233.3 L509.9,233.7 L511.9,234.1 L513.9,234.5 L515.8,234.9 L517.8,235.4 L519.7,235.9 L521.7,236.3 L523.6,236.9 L525.5,237.4 L527.4,237.9 L529.3,238.5 L531.3,239.1 L533.2,239.7 L535.0,240.4 L536.9,241.0 L538.8,241.7 L540.7,242.4 L542.5,243.1 L544.4,243.9 L546.2,244.6 L548.1,245.4 L549.9,246.2 L551.7,247.1 L553.6,247.9 L555.4,248.8 L557.2,249.7 L559.0,250.6 L560.8,251.5 L562.5,252.4 L564.3,253.4 L566.1,254.3 L567.9,255.3 L569.6,256.3 L571.4,257.3 L573.1,258.4 L574.8,259.4 L576.6,260.4 L578.3,261.5 L580.0,262.6 L581.8,263.6 L583.5,264.7 L585.2,265.8 L586.9,267.0 L588.6,268.1 L590.3,269.2 L592.0,270.3 L593.6,271.5 L595.3,272.6 L597.0,273.8 L598.7,275.0 L600.3,276.1 L602.0,277.3 L603.6,278.5 L605.3,279.7 L606.9,280.8 L608.6,282.0 L610.2,283.2 L611.9,284.4 L613.5,285.6 L605.8,303.3 L604.2,302.1 L602.6,300.8 L601.0,299.6 L599.4,298.3 L597.8,297.1 L596.1,295.9 L594.5,294.7 L592.8,293.5 L591.2,292.4 L589.5,291.2 L587.8,290.0 L586.2,288.9 L584.5,287.8 L582.8,286.6 L581.1,285.5 L579.4,284.4 L577.7,283.3 L576.0,282.3 L574.2,281.2 L572.5,280.2 L570.8,279.1 L569.0,278.1 L567.3,277.1 L565.5,276.1 L563.8,275.2 L562.0,274.2 L560.2,273.3 L558.4,272.3 L556.6,271.4 L554.8,270.5 L553.0,269.7 L551.2,268.8 L549.4,268.0 L547.6,267.1 L545.7,266.3 L543.9,265.5 L542.0,264.8 L540.2,264.0 L538.3,263.3 L536.5,262.5 L534.6,261.8 L532.7,261.2 L530.8,260.5 L528.9,259.9 L527.0,259.2 L525.1,258.6 L523.2,258.0 L521.3,257.5 L519.3,256.9 L517.4,256.4 L515.5,255.9 L513.5,255.4 L511.6,254.9 L509.6,254.4 L507.6,254.0 L505.7,253.5 L503.7,253.1 L501.7,252.7 L499.8,252.4 L497.8,252.0 L495.8,251.6 L493.8,251.3 L491.8,251.0 L489.8,250.7 L487.8,250.4 L485.8,250.1 L483.8,249.9 L481.8,249.7 L479.8,249.4 L477.8,249.2 L475.8,249.0 L473.8,248.9 L471.7,248.7 L469.7,248.5 L467.7,248.4 L465.7,248.3 L463.6,248.2 L461.6,248.1 L459.6,248.0 L457.5,248.0 L455.5,247.9 L453.5,247.9 L451.5,247.8 L449.4,247.8 L447.4,247.8 L445.4,247.8 L443.3,247.9 L441.3,247.9 L439.3,248.0 L437.2,248.0 L435.2,248.1 L433.2,248.2 L431.1,248.3 L429.1,248.5 L427.1,248.6 L425.1,248.8 L423.0,248.9 L421.0,249.1 L419.0,249.3 L417.0,249.5 L415.0,249.8 L413.0,250.0 L411.0,250.3 L409.0,250.6 L407.0,250.9 L405.0,251.2 L403.0,251.5 L401.0,251.9 L399.0,252.2 L397.0,252.6 L395.1,253.0 L393.1,253.4 L391.1,253.9 L389.2,254.3 L387.2,254.8 L385.3,255.3 L383.3,255.8 L381.4,256.3 L379.5,256.9 L377.5,257.4 L375.6,258.0 L373.7,258.6 L371.8,259.2 L369.9,259.9 L368.0,260.5 L366.1,261.2 L364.3,261.9 L362.4,262.6 L360.5,263.4 L358.7,264.2 L356.8,264.9 L355.0,265.7 L353.2,266.6 L351.4,267.4 L349.5,268.3 L347.7,269.2 L345.9,270.1 L344.2,271.0 L342.4,271.9 L340.6,272.9 L338.9,273.9 L337.1,274.9 L335.4,275.9 L333.7,276.9 L332.0,278.0 L330.2,279.1 L328.6,280.2 L326.9,281.3 L325.2,282.4 L323.5,283.6 L321.9,284.7 L320.2,285.9 L318.6,287.1 L317.0,288.3 L315.4,289.6 L313.8,290.8 L312.2,292.1 L310.6,293.4 L309.1,294.7 L307.5,296.0 L306.0,297.4 L304.5,298.7 L303.0,300.1 L301.5,301.5 L300.0,302.9 Z" fill="#d8bd8f" stroke="#5a3208" stroke-width="1.5" stroke-linejoin="round"/>
<path d="M112.4,324 V361.3 H386" fill="none" stroke="#222" stroke-width="1.1"/>
<circle cx="386.4" cy="361.3" r="3.4" fill="#2b2b2b"/>
<path d="M783.3,330 V405.4 H574.4" fill="none" stroke="#222" stroke-width="1.1"/>
<circle cx="574.4" cy="405.6" r="3.4" fill="#2b2b2b"/>
<path d="M107.4,656 V453.3 H211.4" fill="none" stroke="#222" stroke-width="1.1"/>
<circle cx="211.4" cy="453.3" r="3.4" fill="#2b2b2b"/>
<path d="M650.4,595.5 H729.4 V710" fill="none" stroke="#222" stroke-width="1.1"/>
<circle cx="650.4" cy="595.2" r="3.4" fill="#2b2b2b"/>
<text x="46.00" y="129.60" font-family="Liberation Sans" font-size="64.5" font-weight="bold" font-style="normal" fill="#333" stroke="#333" stroke-width="1.2" stroke-linejoin="miter" textLength="808.46" lengthAdjust="spacingAndGlyphs">MESH HAT &amp; CAP DETAILS</text>
<text x="50.20" y="248.40" font-family="Liberation Sans" font-size="18.3" font-weight="bold" font-style="italic" fill="#2d2d2d" textLength="164.66" lengthAdjust="spacingAndGlyphs">Comfortable Rose</text>
<text x="51.20" y="278.70" font-family="Liberation Sans" font-size="18.3" font-weight="bold" font-style="italic" fill="#2d2d2d" textLength="182.23" lengthAdjust="spacingAndGlyphs">Net with Long Sclap</text>
<text x="51.20" y="308.40" font-family="Liberation Sans" font-size="18.3" font-weight="bold" font-style="italic" fill="#2d2d2d" textLength="131.87" lengthAdjust="spacingAndGlyphs">of Middle Part.</text>
<text x="654.20" y="248.80" font-family="Liberation Sans" font-size="18.3" font-weight="bold" font-style="italic" fill="#2d2d2d" textLength="89.70" lengthAdjust="spacingAndGlyphs">Open Cap</text>
<text x="655.20" y="286.70" font-family="Liberation Sans" font-size="16.3" font-weight="normal" font-style="italic" fill="#2d2d2d" stroke="#2d2d2d" stroke-width="0.3" textLength="197.62" lengthAdjust="spacingAndGlyphs">Allows superior ventilation</text>
<text x="654.40" y="306.20" font-family="Liberation Sans" font-size="16.3" font-weight="normal" font-style="italic" fill="#2d2d2d" stroke="#2d2d2d" stroke-width="0.3" textLength="207.80" lengthAdjust="spacingAndGlyphs">for maximum scalp cooling.</text>
<text x="49.80" y="685.80" font-family="Liberation Sans" font-size="18.3" font-weight="bold" font-style="italic" fill="#2d2d2d" textLength="132.82" lengthAdjust="spacingAndGlyphs">Flexible Velvet</text>
<text x="49.80" y="715.70" font-family="Liberation Sans" font-size="18.3" font-weight="bold" font-style="italic" fill="#2d2d2d" textLength="62.69" lengthAdjust="spacingAndGlyphs">EarTab</text>
<text x="49.80" y="749.80" font-family="Liberation Sans" font-size="16.3" font-weight="normal" font-style="italic" fill="#2d2d2d" stroke="#2d2d2d" stroke-width="0.3" textLength="158.63" lengthAdjust="spacingAndGlyphs">Constructed with soft</text>
<text x="49.80" y="769.10" font-family="Liberation Sans" font-size="16.3" font-weight="normal" font-style="italic" fill="#2d2d2d" stroke="#2d2d2d" stroke-width="0.3" textLength="219.21" lengthAdjust="spacingAndGlyphs">bendable materials for added</text>
<text x="49.80" y="789.00" font-family="Liberation Sans" font-size="16.3" font-weight="normal" font-style="italic" fill="#2d2d2d" stroke="#2d2d2d" stroke-width="0.3" textLength="167.62" lengthAdjust="spacingAndGlyphs">comfort &amp; a secure fit.</text>
<text x="629.90" y="735.00" font-family="Liberation Sans" font-size="18.3" font-weight="bold" font-style="italic" fill="#2d2d2d" textLength="162.85" lengthAdjust="spacingAndGlyphs">Adjustable Straps</text>
<text x="628.60" y="771.20" font-family="Liberation Sans" font-size="16.3" font-weight="normal" font-style="italic" fill="#2d2d2d" stroke="#2d2d2d" stroke-width="0.3" textLength="195.23" lengthAdjust="spacingAndGlyphs">Easily adjusts at the nape</text>
<text x="628.60" y="789.60" font-family="Liberation Sans" font-size="16.3" font-weight="normal" font-style="italic" fill="#2d2d2d" stroke="#2d2d2d" stroke-width="0.3" textLength="174.59" lengthAdjust="spacingAndGlyphs">for a custom,secure fit.</text>
</svg>
</body></html>
